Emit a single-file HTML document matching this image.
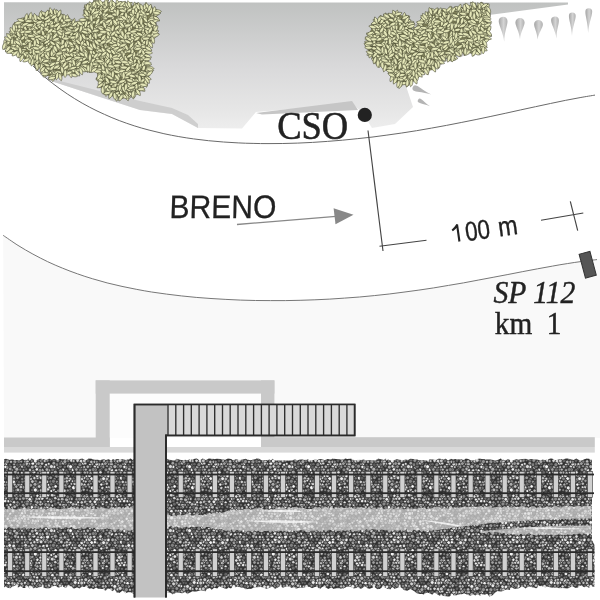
<!DOCTYPE html>
<html><head><meta charset="utf-8"><style>
html,body{margin:0;padding:0;background:#fff;overflow:hidden;width:600px;height:600px;}
svg{display:block;will-change:transform;}
</style></head><body>
<svg width="600" height="600" viewBox="0 0 600 600">
<defs>
<path id="lf" d="M-4,0C-2,-2.05 2,-2.05 4,0C2,2.05 -2,2.05 -4,0Z"/>
<linearGradient id="gtop" gradientUnits="userSpaceOnUse" x1="0" y1="3" x2="0" y2="145">
<stop offset="0" stop-color="#c0c2c1"/>
<stop offset="0.45" stop-color="#d9d9da"/>
<stop offset="0.75" stop-color="#e6e6e6"/>
<stop offset="1" stop-color="#f4f4f4"/>
</linearGradient>
<linearGradient id="gtear" x1="0" y1="0" x2="1" y2="0">
<stop offset="0" stop-color="#a4a4a4"/><stop offset="0.55" stop-color="#d4d4d4"/><stop offset="1" stop-color="#b0b0b0"/>
</linearGradient>
<pattern id="pebD" width="119" height="64" patternUnits="userSpaceOnUse">
<rect width="119" height="64" fill="#303030"/>
<g stroke="#262626" stroke-width="0.6">
<circle cx="93.1" cy="27.4" r="1.5" fill="#5b5b5b"/>
<circle cx="89.9" cy="-2.1" r="1.8" fill="#ebebeb"/>
<circle cx="89.9" cy="61.9" r="1.8" fill="#ebebeb"/>
<circle cx="33.4" cy="28.4" r="1.5" fill="#777777"/>
<circle cx="91.6" cy="30.7" r="1.9" fill="#f7f7f7"/>
<circle cx="88.1" cy="6.5" r="1.9" fill="#9f9f9f"/>
<circle cx="68.9" cy="15.7" r="1.5" fill="#6b6b6b"/>
<circle cx="44.6" cy="53.5" r="1.7" fill="#646464"/>
<circle cx="16" cy="38.6" r="2" fill="#adadad"/>
<circle cx="114.8" cy="12.9" r="1.4" fill="#c4c4c4"/>
<circle cx="102.6" cy="16.7" r="2" fill="#d5d5d5"/>
<circle cx="73.6" cy="30.5" r="1.6" fill="#727272"/>
<circle cx="95.5" cy="45.5" r="1.9" fill="#666666"/>
<circle cx="85" cy="50.6" r="1.4" fill="#c7c7c7"/>
<circle cx="1" cy="1.8" r="1.8" fill="#a6a6a6"/>
<circle cx="1" cy="65.8" r="1.8" fill="#a6a6a6"/>
<circle cx="120" cy="1.8" r="1.8" fill="#a6a6a6"/>
<circle cx="120" cy="65.8" r="1.8" fill="#a6a6a6"/>
<circle cx="102.3" cy="45.4" r="1.9" fill="#d3d3d3"/>
<circle cx="103.6" cy="35.7" r="1.9" fill="#878787"/>
<circle cx="65.9" cy="38.6" r="1.7" fill="#888888"/>
<circle cx="98.7" cy="-1.7" r="1.5" fill="#9c9c9c"/>
<circle cx="98.7" cy="62.3" r="1.5" fill="#9c9c9c"/>
<circle cx="97" cy="35.8" r="1.4" fill="#666666"/>
<circle cx="96.8" cy="8" r="1.6" fill="#9c9c9c"/>
<circle cx="20.6" cy="47.5" r="1.9" fill="#8f8f8f"/>
<circle cx="105.9" cy="32.9" r="1.7" fill="#aaaaaa"/>
<circle cx="98.7" cy="16.5" r="1.9" fill="#bfbfbf"/>
<circle cx="95.1" cy="27.6" r="1.7" fill="#f3f3f3"/>
<circle cx="109.8" cy="24.9" r="1.9" fill="#616161"/>
<circle cx="5.7" cy="6.7" r="1.4" fill="#dadada"/>
<circle cx="34.3" cy="0.8" r="1.6" fill="#c2c2c2"/>
<circle cx="34.3" cy="64.8" r="1.6" fill="#c2c2c2"/>
<circle cx="38.4" cy="12.4" r="1.8" fill="#757575"/>
<circle cx="92.2" cy="15.9" r="1.6" fill="#a9a9a9"/>
<circle cx="-1.2" cy="18.9" r="1.6" fill="#686868"/>
<circle cx="117.8" cy="18.9" r="1.6" fill="#686868"/>
<circle cx="66.8" cy="7.1" r="1.6" fill="#636363"/>
<circle cx="64.5" cy="6.7" r="1.5" fill="#676767"/>
<circle cx="0.4" cy="21.8" r="1.6" fill="#9a9a9a"/>
<circle cx="119.4" cy="21.8" r="1.6" fill="#9a9a9a"/>
<circle cx="105.5" cy="10.4" r="1.7" fill="#b8b8b8"/>
<circle cx="27.7" cy="1.1" r="1.7" fill="#e5e5e5"/>
<circle cx="27.7" cy="65.1" r="1.7" fill="#e5e5e5"/>
<circle cx="92.7" cy="44.3" r="1.8" fill="#636363"/>
<circle cx="103.1" cy="34.2" r="1.5" fill="#717171"/>
<circle cx="48.8" cy="8.1" r="1.9" fill="#8a8a8a"/>
<circle cx="37.5" cy="29.9" r="1.7" fill="#c1c1c1"/>
<circle cx="19.9" cy="-2.1" r="1.6" fill="#d3d3d3"/>
<circle cx="19.9" cy="61.9" r="1.6" fill="#d3d3d3"/>
<circle cx="60.4" cy="34.3" r="1.5" fill="#767676"/>
<circle cx="46.4" cy="44.5" r="2" fill="#939393"/>
<circle cx="39.9" cy="28.2" r="1.5" fill="#c4c4c4"/>
<circle cx="108.8" cy="-0.6" r="1.7" fill="#ececec"/>
<circle cx="108.8" cy="63.4" r="1.7" fill="#ececec"/>
<circle cx="31.1" cy="31.1" r="1.5" fill="#d5d5d5"/>
<circle cx="-0.8" cy="5" r="1.4" fill="#f2f2f2"/>
<circle cx="118.2" cy="5" r="1.4" fill="#f2f2f2"/>
<circle cx="38" cy="35.9" r="2" fill="#717171"/>
<circle cx="77.8" cy="54.2" r="1.8" fill="#ebebeb"/>
<circle cx="30.7" cy="3.6" r="2" fill="#ececec"/>
<circle cx="45.7" cy="-1.3" r="1.7" fill="#c2c2c2"/>
<circle cx="45.7" cy="62.7" r="1.7" fill="#c2c2c2"/>
<circle cx="32.9" cy="10.5" r="1.8" fill="#838383"/>
<circle cx="59.7" cy="39" r="1.9" fill="#727272"/>
<circle cx="24.3" cy="59.1" r="1.6" fill="#d8d8d8"/>
<circle cx="52.4" cy="57.5" r="1.4" fill="#dadada"/>
<circle cx="23.5" cy="50.4" r="1.8" fill="#a2a2a2"/>
<circle cx="23.3" cy="57.3" r="1.8" fill="#a6a6a6"/>
<circle cx="5.8" cy="15.7" r="1.9" fill="#f7f7f7"/>
<circle cx="32.5" cy="50.9" r="1.5" fill="#6c6c6c"/>
<circle cx="14" cy="54.4" r="1.8" fill="#dadada"/>
<circle cx="43.6" cy="28" r="1.7" fill="#bbbbbb"/>
<circle cx="99.2" cy="9.3" r="1.6" fill="#797979"/>
<circle cx="65.4" cy="37.2" r="1.6" fill="#a7a7a7"/>
<circle cx="13.8" cy="34.1" r="2" fill="#e7e7e7"/>
<circle cx="112.1" cy="9.4" r="1.5" fill="#dbdbdb"/>
<circle cx="94.9" cy="-1" r="1.8" fill="#969696"/>
<circle cx="94.9" cy="63" r="1.8" fill="#969696"/>
<circle cx="109.1" cy="39.3" r="1.7" fill="#d2d2d2"/>
<circle cx="71.6" cy="7.9" r="2" fill="#6b6b6b"/>
<circle cx="22.3" cy="18.2" r="2" fill="#d6d6d6"/>
<circle cx="95" cy="18.6" r="1.7" fill="#e0e0e0"/>
<circle cx="25.2" cy="30.4" r="1.6" fill="#cecece"/>
<circle cx="5.9" cy="50.4" r="1.6" fill="#cbcbcb"/>
<circle cx="94.5" cy="36.7" r="1.8" fill="#7d7d7d"/>
<circle cx="68.4" cy="54.2" r="1.9" fill="#aeaeae"/>
<circle cx="53.9" cy="47.2" r="1.6" fill="#efefef"/>
<circle cx="112.8" cy="32.9" r="1.5" fill="#6b6b6b"/>
<circle cx="67.3" cy="35.6" r="1.6" fill="#7b7b7b"/>
<circle cx="66.8" cy="27.6" r="1.8" fill="#757575"/>
<circle cx="37" cy="4.8" r="1.9" fill="#dadada"/>
<circle cx="100.9" cy="6.9" r="1.9" fill="#7c7c7c"/>
<circle cx="31.2" cy="24.4" r="1.7" fill="#636363"/>
<circle cx="7.2" cy="57.2" r="1.4" fill="#a4a4a4"/>
<circle cx="68.6" cy="1.5" r="1.6" fill="#aaaaaa"/>
<circle cx="68.6" cy="65.5" r="1.6" fill="#aaaaaa"/>
<circle cx="84.3" cy="29.8" r="1.8" fill="#d3d3d3"/>
<circle cx="10.6" cy="36.5" r="1.4" fill="#e9e9e9"/>
<circle cx="112.7" cy="27.9" r="1.9" fill="#b0b0b0"/>
<circle cx="-1.1" cy="7.8" r="1.9" fill="#c1c1c1"/>
<circle cx="117.9" cy="7.8" r="1.9" fill="#c1c1c1"/>
<circle cx="109.8" cy="4.1" r="1.9" fill="#989898"/>
<circle cx="22.6" cy="4.5" r="1.5" fill="#7a7a7a"/>
<circle cx="27.1" cy="-1" r="1.8" fill="#818181"/>
<circle cx="27.1" cy="63" r="1.8" fill="#818181"/>
<circle cx="14.6" cy="19.1" r="1.8" fill="#d2d2d2"/>
<circle cx="106.9" cy="30.9" r="2" fill="#afafaf"/>
<circle cx="37.2" cy="27.6" r="1.9" fill="#f5f5f5"/>
<circle cx="22.2" cy="9.8" r="1.6" fill="#ececec"/>
<circle cx="115.9" cy="28.1" r="1.9" fill="#a6a6a6"/>
<circle cx="65.9" cy="57.1" r="1.8" fill="#9b9b9b"/>
<circle cx="37.3" cy="47.7" r="1.7" fill="#f2f2f2"/>
<circle cx="25.6" cy="13.7" r="2" fill="#a9a9a9"/>
<circle cx="30" cy="27.5" r="1.7" fill="#d1d1d1"/>
<circle cx="56.4" cy="28.2" r="1.9" fill="#9c9c9c"/>
<circle cx="27.7" cy="35.9" r="1.6" fill="#afafaf"/>
<circle cx="50.4" cy="7.3" r="1.5" fill="#8d8d8d"/>
<circle cx="43.8" cy="25.4" r="1.6" fill="#a6a6a6"/>
<circle cx="23.6" cy="21.9" r="1.5" fill="#909090"/>
<circle cx="96.8" cy="16.2" r="1.8" fill="#dadada"/>
<circle cx="58.2" cy="19.7" r="1.8" fill="#9c9c9c"/>
<circle cx="41.2" cy="12.7" r="2" fill="#878787"/>
<circle cx="8.4" cy="53.1" r="1.6" fill="#f0f0f0"/>
<circle cx="82.8" cy="39.5" r="1.7" fill="#777777"/>
<circle cx="90.6" cy="59" r="1.6" fill="#aeaeae"/>
<circle cx="49" cy="22.3" r="1.8" fill="#a0a0a0"/>
<circle cx="26.8" cy="39.9" r="1.5" fill="#919191"/>
<circle cx="78.4" cy="57.2" r="1.4" fill="#8c8c8c"/>
<circle cx="29" cy="39.3" r="1.4" fill="#666666"/>
<circle cx="54.5" cy="60.2" r="1.5" fill="#989898"/>
<circle cx="36.8" cy="9.8" r="1.7" fill="#858585"/>
<circle cx="72.7" cy="45.6" r="1.6" fill="#dcdcdc"/>
<circle cx="18.4" cy="18.3" r="1.9" fill="#848484"/>
<circle cx="-0" cy="39.6" r="1.7" fill="#d3d3d3"/>
<circle cx="119" cy="39.6" r="1.7" fill="#d3d3d3"/>
<circle cx="52" cy="24.9" r="1.7" fill="#afafaf"/>
<circle cx="41.6" cy="6.7" r="1.9" fill="#acacac"/>
<circle cx="51.3" cy="43" r="1.5" fill="#f5f5f5"/>
<circle cx="108.3" cy="27.9" r="1.8" fill="#f8f8f8"/>
<circle cx="55.3" cy="50.3" r="1.8" fill="#d3d3d3"/>
<circle cx="33.9" cy="24.3" r="1.8" fill="#ebebeb"/>
<circle cx="80.9" cy="0.7" r="1.6" fill="#868686"/>
<circle cx="80.9" cy="64.7" r="1.6" fill="#868686"/>
<circle cx="59.3" cy="-0.9" r="1.6" fill="#f2f2f2"/>
<circle cx="59.3" cy="63.1" r="1.6" fill="#f2f2f2"/>
<circle cx="2.2" cy="30" r="2" fill="#e9e9e9"/>
<circle cx="121.2" cy="30" r="2" fill="#e9e9e9"/>
<circle cx="53.4" cy="5.1" r="1.8" fill="#a4a4a4"/>
<circle cx="45.6" cy="7.8" r="1.5" fill="#767676"/>
<circle cx="18.7" cy="13.6" r="2" fill="#797979"/>
<circle cx="11.1" cy="2.1" r="1.5" fill="#c6c6c6"/>
<circle cx="11.1" cy="66.1" r="1.5" fill="#c6c6c6"/>
<circle cx="-0.2" cy="10.1" r="1.6" fill="#acacac"/>
<circle cx="118.8" cy="10.1" r="1.6" fill="#acacac"/>
<circle cx="55.3" cy="56" r="2" fill="#6a6a6a"/>
<circle cx="15.7" cy="42.2" r="1.5" fill="#808080"/>
<circle cx="89.6" cy="4.9" r="2" fill="#f0f0f0"/>
<circle cx="77.6" cy="12.7" r="1.7" fill="#d9d9d9"/>
<circle cx="88.5" cy="36.7" r="1.7" fill="#b4b4b4"/>
<circle cx="103.3" cy="59.3" r="1.4" fill="#707070"/>
<circle cx="17.1" cy="28.1" r="1.9" fill="#939393"/>
<circle cx="56.9" cy="34.1" r="1.9" fill="#919191"/>
<circle cx="105.9" cy="4.9" r="1.5" fill="#939393"/>
<circle cx="58.3" cy="54.7" r="1.5" fill="#9c9c9c"/>
<circle cx="47" cy="33.8" r="1.8" fill="#dbdbdb"/>
<circle cx="13.7" cy="39.7" r="1.5" fill="#636363"/>
<circle cx="12.2" cy="21.9" r="1.5" fill="#8b8b8b"/>
<circle cx="15.6" cy="24.2" r="2" fill="#b2b2b2"/>
<circle cx="48.1" cy="53.6" r="1.4" fill="#e4e4e4"/>
<circle cx="69.2" cy="50.5" r="1.9" fill="#949494"/>
<circle cx="13.6" cy="57" r="1.5" fill="#6a6a6a"/>
<circle cx="109" cy="16.1" r="1.5" fill="#b0b0b0"/>
<circle cx="36.9" cy="15.8" r="1.6" fill="#f1f1f1"/>
<circle cx="111.6" cy="59.2" r="1.4" fill="#d5d5d5"/>
<circle cx="29" cy="24.6" r="1.7" fill="#949494"/>
<circle cx="114.9" cy="24" r="1.6" fill="#848484"/>
<circle cx="81.8" cy="30.9" r="1.9" fill="#ececec"/>
<circle cx="14.3" cy="0.7" r="1.6" fill="#afafaf"/>
<circle cx="14.3" cy="64.7" r="1.6" fill="#afafaf"/>
<circle cx="35.6" cy="33.5" r="2" fill="#7a7a7a"/>
<circle cx="72.3" cy="21.9" r="1.8" fill="#f5f5f5"/>
<circle cx="1.7" cy="6.8" r="1.4" fill="#959595"/>
<circle cx="120.7" cy="6.8" r="1.4" fill="#959595"/>
<circle cx="17.2" cy="33.2" r="1.5" fill="#5e5e5e"/>
<circle cx="70.9" cy="54.5" r="1.6" fill="#dfdfdf"/>
<circle cx="24.1" cy="47.7" r="1.5" fill="#5e5e5e"/>
<circle cx="35" cy="36.4" r="2" fill="#acacac"/>
<circle cx="70.2" cy="30.9" r="1.7" fill="#d2d2d2"/>
<circle cx="74.6" cy="42.8" r="1.5" fill="#616161"/>
<circle cx="106.7" cy="0.7" r="1.7" fill="#e5e5e5"/>
<circle cx="106.7" cy="64.7" r="1.7" fill="#e5e5e5"/>
<circle cx="22" cy="53.9" r="1.6" fill="#868686"/>
<circle cx="113.4" cy="60.4" r="1.5" fill="#d6d6d6"/>
<circle cx="96.5" cy="3.9" r="1.9" fill="#636363"/>
<circle cx="100.3" cy="58.8" r="1.5" fill="#9f9f9f"/>
<circle cx="54.7" cy="2.2" r="1.9" fill="#c4c4c4"/>
<circle cx="54.7" cy="66.2" r="1.9" fill="#c4c4c4"/>
<circle cx="55.2" cy="21.1" r="1.9" fill="#5d5d5d"/>
<circle cx="17.4" cy="16.8" r="1.9" fill="#5b5b5b"/>
<circle cx="50.4" cy="28.5" r="1.5" fill="#5e5e5e"/>
<circle cx="5.1" cy="53" r="1.8" fill="#e5e5e5"/>
<circle cx="-0.9" cy="42.7" r="1.7" fill="#c0c0c0"/>
<circle cx="118.1" cy="42.7" r="1.7" fill="#c0c0c0"/>
<circle cx="6.7" cy="22.2" r="1.4" fill="#7b7b7b"/>
<circle cx="10.4" cy="56.7" r="1.5" fill="#f2f2f2"/>
<circle cx="38.1" cy="19.4" r="2" fill="#838383"/>
<circle cx="42.1" cy="50.4" r="1.8" fill="#ededed"/>
<circle cx="61.9" cy="10.1" r="1.7" fill="#f8f8f8"/>
<circle cx="94.7" cy="1.4" r="1.6" fill="#c9c9c9"/>
<circle cx="94.7" cy="65.4" r="1.6" fill="#c9c9c9"/>
<circle cx="37.1" cy="1.5" r="1.5" fill="#f4f4f4"/>
<circle cx="37.1" cy="65.5" r="1.5" fill="#f4f4f4"/>
<circle cx="102.7" cy="4.8" r="1.7" fill="#676767"/>
<circle cx="12.4" cy="59.7" r="1.6" fill="#c8c8c8"/>
<circle cx="48.8" cy="9.7" r="1.8" fill="#cacaca"/>
<circle cx="39.8" cy="4.5" r="1.6" fill="#cacaca"/>
<circle cx="17" cy="57.1" r="2" fill="#969696"/>
<circle cx="110.9" cy="7.2" r="1.6" fill="#bebebe"/>
<circle cx="44.8" cy="42.1" r="1.5" fill="#a1a1a1"/>
<circle cx="102.2" cy="27.6" r="1.9" fill="#a1a1a1"/>
<circle cx="19.5" cy="27.9" r="1.6" fill="#787878"/>
<circle cx="97.8" cy="19.1" r="1.4" fill="#c4c4c4"/>
<circle cx="105" cy="2" r="1.9" fill="#a0a0a0"/>
<circle cx="105" cy="66" r="1.9" fill="#a0a0a0"/>
<circle cx="100.1" cy="27.2" r="1.5" fill="#c6c6c6"/>
<circle cx="71.4" cy="12.4" r="1.8" fill="#f4f4f4"/>
<circle cx="52.7" cy="21.7" r="2" fill="#737373"/>
<circle cx="89.9" cy="1.3" r="1.4" fill="#8c8c8c"/>
<circle cx="89.9" cy="65.3" r="1.4" fill="#8c8c8c"/>
<circle cx="48.6" cy="30.1" r="1.7" fill="#a4a4a4"/>
<circle cx="81.9" cy="9.7" r="1.9" fill="#707070"/>
<circle cx="89.5" cy="33.1" r="1.9" fill="#8a8a8a"/>
<circle cx="111" cy="0.6" r="1.6" fill="#8f8f8f"/>
<circle cx="111" cy="64.6" r="1.6" fill="#8f8f8f"/>
<circle cx="8.3" cy="24.5" r="1.6" fill="#7e7e7e"/>
<circle cx="73.6" cy="39.7" r="2" fill="#f8f8f8"/>
<circle cx="28.9" cy="34.2" r="1.5" fill="#9b9b9b"/>
<circle cx="3.7" cy="-1.1" r="1.9" fill="#f3f3f3"/>
<circle cx="3.7" cy="62.9" r="1.9" fill="#f3f3f3"/>
<circle cx="79.4" cy="33.7" r="1.8" fill="#cfcfcf"/>
<circle cx="21.1" cy="60.3" r="1.9" fill="#717171"/>
<circle cx="66.6" cy="51.7" r="2" fill="#aeaeae"/>
<circle cx="98.2" cy="42.4" r="1.5" fill="#d8d8d8"/>
<circle cx="65.5" cy="44.5" r="1.4" fill="#cacaca"/>
<circle cx="100" cy="12.7" r="1.8" fill="#606060"/>
<circle cx="69.1" cy="32.6" r="1.4" fill="#e8e8e8"/>
<circle cx="27.3" cy="13.5" r="1.7" fill="#ebebeb"/>
<circle cx="65.2" cy="15.4" r="1.6" fill="#8f8f8f"/>
<circle cx="35.9" cy="57.6" r="2" fill="#c8c8c8"/>
<circle cx="83.6" cy="33.1" r="1.4" fill="#d0d0d0"/>
<circle cx="115.9" cy="33.6" r="1.9" fill="#acacac"/>
<circle cx="50.7" cy="29.8" r="1.8" fill="#9d9d9d"/>
<circle cx="101.5" cy="18.6" r="1.6" fill="#838383"/>
<circle cx="24.7" cy="25.2" r="1.4" fill="#bfbfbf"/>
<circle cx="91.8" cy="4.3" r="1.5" fill="#cfcfcf"/>
<circle cx="63.1" cy="21.7" r="1.6" fill="#e6e6e6"/>
<circle cx="47.1" cy="12.2" r="2" fill="#909090"/>
<circle cx="87.6" cy="30.8" r="1.9" fill="#838383"/>
<circle cx="54.2" cy="35.7" r="1.9" fill="#616161"/>
<circle cx="21.2" cy="37" r="1.7" fill="#c8c8c8"/>
<circle cx="114.3" cy="2" r="1.6" fill="#7a7a7a"/>
<circle cx="114.3" cy="66" r="1.6" fill="#7a7a7a"/>
<circle cx="92.6" cy="50.6" r="1.9" fill="#8c8c8c"/>
<circle cx="81.3" cy="19.7" r="1.4" fill="#a4a4a4"/>
<circle cx="68.7" cy="18.2" r="2" fill="#c8c8c8"/>
<circle cx="30.6" cy="56" r="1.8" fill="#848484"/>
<circle cx="14.7" cy="58.8" r="1.8" fill="#b7b7b7"/>
<circle cx="41.3" cy="25.3" r="1.7" fill="#f6f6f6"/>
<circle cx="64.7" cy="18.9" r="1.6" fill="#747474"/>
<circle cx="-2.9" cy="22.3" r="1.5" fill="#e1e1e1"/>
<circle cx="116.1" cy="22.3" r="1.5" fill="#e1e1e1"/>
<circle cx="70.6" cy="48.6" r="1.4" fill="#6d6d6d"/>
<circle cx="58.3" cy="35.7" r="1.5" fill="#737373"/>
<circle cx="42.1" cy="55.9" r="1.4" fill="#e8e8e8"/>
<circle cx="108.1" cy="24.1" r="1.9" fill="#909090"/>
<circle cx="9.9" cy="4.4" r="2" fill="#696969"/>
<circle cx="78.6" cy="1.4" r="1.8" fill="#999999"/>
<circle cx="78.6" cy="65.4" r="1.8" fill="#999999"/>
<circle cx="49.4" cy="45.7" r="1.7" fill="#939393"/>
<circle cx="-0.4" cy="56.3" r="1.7" fill="#7e7e7e"/>
<circle cx="118.6" cy="56.3" r="1.7" fill="#7e7e7e"/>
<circle cx="12.2" cy="42.4" r="1.8" fill="#a5a5a5"/>
<circle cx="2.6" cy="22.4" r="1.5" fill="#eeeeee"/>
<circle cx="121.6" cy="22.4" r="1.5" fill="#eeeeee"/>
<circle cx="71.8" cy="51" r="1.4" fill="#c9c9c9"/>
<circle cx="115.8" cy="40.1" r="2" fill="#848484"/>
<circle cx="38" cy="25.2" r="1.6" fill="#a7a7a7"/>
<circle cx="87" cy="24.8" r="1.9" fill="#bfbfbf"/>
<circle cx="46" cy="10" r="1.8" fill="#838383"/>
<circle cx="107.2" cy="13.8" r="1.7" fill="#848484"/>
<circle cx="66.6" cy="22.7" r="1.8" fill="#707070"/>
<circle cx="40.4" cy="56.3" r="1.7" fill="#bfbfbf"/>
<circle cx="19.3" cy="55.9" r="1.5" fill="#727272"/>
<circle cx="2.4" cy="44.4" r="1.8" fill="#f8f8f8"/>
<circle cx="121.4" cy="44.4" r="1.8" fill="#f8f8f8"/>
<circle cx="25.7" cy="41.9" r="1.8" fill="#dcdcdc"/>
<circle cx="62.7" cy="39.4" r="1.8" fill="#bfbfbf"/>
<circle cx="5.6" cy="25.2" r="1.9" fill="#bababa"/>
<circle cx="62.2" cy="51.2" r="1.9" fill="#b6b6b6"/>
<circle cx="25.5" cy="54.4" r="1.8" fill="#757575"/>
<circle cx="33.2" cy="57.2" r="1.7" fill="#676767"/>
<circle cx="41.3" cy="37.2" r="1.4" fill="#969696"/>
<circle cx="48.7" cy="36.9" r="1.5" fill="#f4f4f4"/>
<circle cx="7.4" cy="36.3" r="1.7" fill="#cccccc"/>
<circle cx="51.3" cy="36.2" r="1.9" fill="#6e6e6e"/>
<circle cx="5.2" cy="37" r="1.8" fill="#838383"/>
<circle cx="111" cy="47.3" r="1.6" fill="#b0b0b0"/>
<circle cx="4.1" cy="60.1" r="1.5" fill="#cbcbcb"/>
<circle cx="36.6" cy="51.1" r="1.8" fill="#b4b4b4"/>
<circle cx="111.5" cy="37" r="1.7" fill="#cecece"/>
<circle cx="20.9" cy="1.8" r="1.7" fill="#676767"/>
<circle cx="20.9" cy="65.8" r="1.7" fill="#676767"/>
<circle cx="44.9" cy="18.8" r="1.4" fill="#c1c1c1"/>
<circle cx="81.5" cy="47.5" r="1.7" fill="#ababab"/>
<circle cx="93.6" cy="7.1" r="1.9" fill="#a7a7a7"/>
<circle cx="16.7" cy="-0.6" r="1.5" fill="#7e7e7e"/>
<circle cx="16.7" cy="63.4" r="1.5" fill="#7e7e7e"/>
<circle cx="7.4" cy="19.5" r="1.9" fill="#a1a1a1"/>
<circle cx="26" cy="45.6" r="1.4" fill="#909090"/>
<circle cx="36.1" cy="-1.7" r="1.7" fill="#c2c2c2"/>
<circle cx="36.1" cy="62.3" r="1.7" fill="#c2c2c2"/>
<circle cx="75.7" cy="56.2" r="1.8" fill="#f4f4f4"/>
<circle cx="0.9" cy="36.3" r="1.9" fill="#7a7a7a"/>
<circle cx="119.9" cy="36.3" r="1.9" fill="#7a7a7a"/>
<circle cx="76.7" cy="51.5" r="1.8" fill="#a0a0a0"/>
<circle cx="113.3" cy="50.8" r="1.9" fill="#dddddd"/>
<circle cx="66" cy="10.8" r="1.7" fill="#cacaca"/>
<circle cx="31.2" cy="48.8" r="1.6" fill="#c5c5c5"/>
<circle cx="27" cy="50.3" r="1.7" fill="#b2b2b2"/>
<circle cx="1.6" cy="48" r="1.7" fill="#d1d1d1"/>
<circle cx="120.6" cy="48" r="1.7" fill="#d1d1d1"/>
<circle cx="34.5" cy="7.5" r="1.4" fill="#d9d9d9"/>
<circle cx="24.7" cy="19.2" r="1.6" fill="#6e6e6e"/>
<circle cx="27.6" cy="54.1" r="2" fill="#aeaeae"/>
<circle cx="41.1" cy="42.5" r="1.9" fill="#bababa"/>
<circle cx="57.4" cy="7.4" r="1.9" fill="#9e9e9e"/>
<circle cx="17.2" cy="48.2" r="1.7" fill="#7d7d7d"/>
<circle cx="87.9" cy="12.7" r="2" fill="#646464"/>
<circle cx="58.6" cy="51.3" r="1.5" fill="#cccccc"/>
<circle cx="33.1" cy="4.7" r="1.7" fill="#b2b2b2"/>
<circle cx="39" cy="-2.3" r="1.8" fill="#b5b5b5"/>
<circle cx="39" cy="61.7" r="1.8" fill="#b5b5b5"/>
<circle cx="48.7" cy="15.9" r="1.5" fill="#dcdcdc"/>
<circle cx="48" cy="19.1" r="2" fill="#6d6d6d"/>
<circle cx="113.9" cy="42.3" r="1.6" fill="#656565"/>
<circle cx="79" cy="27.4" r="1.7" fill="#8b8b8b"/>
<circle cx="54.1" cy="18.8" r="1.8" fill="#eeeeee"/>
<circle cx="112" cy="38.6" r="1.8" fill="#858585"/>
<circle cx="63.6" cy="33.6" r="1.5" fill="#d9d9d9"/>
<circle cx="30.6" cy="37.2" r="1.9" fill="#a6a6a6"/>
<circle cx="22.5" cy="45.8" r="1.7" fill="#7a7a7a"/>
<circle cx="42.1" cy="10.1" r="2" fill="#f6f6f6"/>
<circle cx="31.1" cy="53.1" r="1.6" fill="#c2c2c2"/>
<circle cx="45.9" cy="56.6" r="1.9" fill="#9e9e9e"/>
<circle cx="67.7" cy="48.7" r="1.8" fill="#868686"/>
<circle cx="114.6" cy="54.4" r="1.9" fill="#a4a4a4"/>
<circle cx="73.3" cy="16.6" r="1.5" fill="#8f8f8f"/>
<circle cx="-0.9" cy="16.7" r="1.5" fill="#8b8b8b"/>
<circle cx="118.1" cy="16.7" r="1.5" fill="#8b8b8b"/>
<circle cx="90.2" cy="44.9" r="1.8" fill="#707070"/>
<circle cx="75.3" cy="9.5" r="1.7" fill="#5f5f5f"/>
<circle cx="42.3" cy="22.2" r="1.7" fill="#c9c9c9"/>
<circle cx="75.2" cy="53.9" r="1.7" fill="#5d5d5d"/>
<circle cx="94.7" cy="47.9" r="1.6" fill="#c0c0c0"/>
<circle cx="12.8" cy="9.6" r="1.6" fill="#858585"/>
<circle cx="105.4" cy="15.6" r="1.9" fill="#9c9c9c"/>
<circle cx="84.6" cy="36.9" r="1.7" fill="#ededed"/>
<circle cx="45.7" cy="39.7" r="1.5" fill="#ececec"/>
<circle cx="9.6" cy="16.9" r="1.5" fill="#666666"/>
<circle cx="53.8" cy="45" r="1.4" fill="#a9a9a9"/>
<circle cx="46.8" cy="28.3" r="1.9" fill="#949494"/>
<circle cx="9.4" cy="45.8" r="1.6" fill="#bcbcbc"/>
<circle cx="14.2" cy="7.9" r="1.9" fill="#ebebeb"/>
<circle cx="83.6" cy="21.5" r="1.6" fill="#898989"/>
<circle cx="1.6" cy="42" r="2" fill="#979797"/>
<circle cx="120.6" cy="42" r="2" fill="#979797"/>
<circle cx="34.4" cy="30.1" r="1.6" fill="#d7d7d7"/>
<circle cx="111.6" cy="22.1" r="1.8" fill="#f0f0f0"/>
<circle cx="79.4" cy="-1.2" r="1.4" fill="#959595"/>
<circle cx="79.4" cy="62.8" r="1.4" fill="#959595"/>
<circle cx="20" cy="51.1" r="1.5" fill="#a8a8a8"/>
<circle cx="4.5" cy="12.7" r="1.7" fill="#757575"/>
<circle cx="103.3" cy="50.8" r="2" fill="#c5c5c5"/>
<circle cx="36.3" cy="40" r="1.9" fill="#717171"/>
<circle cx="47.6" cy="24.9" r="2" fill="#f1f1f1"/>
<circle cx="78.6" cy="6.9" r="1.6" fill="#f9f9f9"/>
<circle cx="52.2" cy="47.1" r="1.9" fill="#d6d6d6"/>
<circle cx="32" cy="42.1" r="1.4" fill="#747474"/>
<circle cx="75.4" cy="16.3" r="1.8" fill="#666666"/>
<circle cx="106.1" cy="50.2" r="1.4" fill="#7b7b7b"/>
<circle cx="76.6" cy="-2.3" r="2" fill="#d2d2d2"/>
<circle cx="76.6" cy="61.7" r="2" fill="#d2d2d2"/>
<circle cx="27" cy="56" r="2" fill="#8b8b8b"/>
<circle cx="104" cy="12.9" r="1.5" fill="#c1c1c1"/>
<circle cx="101.4" cy="54" r="1.5" fill="#a7a7a7"/>
<circle cx="93.3" cy="59" r="1.9" fill="#c7c7c7"/>
<circle cx="26.7" cy="10.6" r="1.9" fill="#e5e5e5"/>
<circle cx="-1.7" cy="35.7" r="1.6" fill="#6e6e6e"/>
<circle cx="117.3" cy="35.7" r="1.6" fill="#6e6e6e"/>
<circle cx="99.6" cy="39" r="1.4" fill="#5e5e5e"/>
<circle cx="47.5" cy="59.3" r="1.7" fill="#f6f6f6"/>
<circle cx="10.9" cy="30.4" r="1.7" fill="#7e7e7e"/>
<circle cx="10.3" cy="-1.9" r="2" fill="#8d8d8d"/>
<circle cx="10.3" cy="62.1" r="2" fill="#8d8d8d"/>
<circle cx="95.6" cy="9.7" r="1.7" fill="#b3b3b3"/>
<circle cx="50.5" cy="33.4" r="1.5" fill="#7a7a7a"/>
<circle cx="61.9" cy="42.2" r="1.5" fill="#e3e3e3"/>
<circle cx="111.4" cy="16.2" r="1.9" fill="#bcbcbc"/>
<circle cx="-2.4" cy="2.3" r="1.9" fill="#bebebe"/>
<circle cx="-2.4" cy="66.3" r="1.9" fill="#bebebe"/>
<circle cx="116.6" cy="2.3" r="1.9" fill="#bebebe"/>
<circle cx="116.6" cy="66.3" r="1.9" fill="#bebebe"/>
<circle cx="29.8" cy="51.3" r="1.8" fill="#eeeeee"/>
<circle cx="97.9" cy="25.6" r="1.5" fill="#888888"/>
<circle cx="59.9" cy="44.4" r="2" fill="#a0a0a0"/>
<circle cx="50.7" cy="12.3" r="1.4" fill="#6e6e6e"/>
<circle cx="73.2" cy="56.5" r="1.9" fill="#b9b9b9"/>
<circle cx="97.9" cy="59.7" r="1.8" fill="#b2b2b2"/>
<circle cx="82.6" cy="28.4" r="1.6" fill="#818181"/>
<circle cx="111.1" cy="13.4" r="1.7" fill="#bcbcbc"/>
<circle cx="75.2" cy="1.6" r="1.5" fill="#b4b4b4"/>
<circle cx="75.2" cy="65.6" r="1.5" fill="#b4b4b4"/>
<circle cx="105.1" cy="27.7" r="1.9" fill="#a4a4a4"/>
<circle cx="89.4" cy="38.9" r="1.4" fill="#a2a2a2"/>
<circle cx="86.8" cy="48.3" r="1.7" fill="#dadada"/>
<circle cx="76.4" cy="44.6" r="1.5" fill="#a8a8a8"/>
<circle cx="6.1" cy="-1.1" r="1.6" fill="#606060"/>
<circle cx="6.1" cy="62.9" r="1.6" fill="#606060"/>
<circle cx="2.8" cy="51.1" r="1.7" fill="#bdbdbd"/>
<circle cx="121.8" cy="51.1" r="1.7" fill="#bdbdbd"/>
<circle cx="88" cy="53.3" r="1.5" fill="#727272"/>
<circle cx="49.3" cy="39.7" r="1.7" fill="#e3e3e3"/>
<circle cx="11.5" cy="25.4" r="1.6" fill="#6f6f6f"/>
<circle cx="106.6" cy="54.6" r="1.5" fill="#ebebeb"/>
<circle cx="33.8" cy="39.4" r="1.5" fill="#999999"/>
<circle cx="16.8" cy="3.8" r="1.8" fill="#a9a9a9"/>
<circle cx="114.2" cy="47.6" r="1.9" fill="#cecece"/>
<circle cx="55.6" cy="9.9" r="1.5" fill="#8f8f8f"/>
<circle cx="14.9" cy="13.8" r="2" fill="#989898"/>
<circle cx="79.5" cy="39.8" r="1.6" fill="#878787"/>
<circle cx="2.7" cy="4.9" r="1.9" fill="#ababab"/>
<circle cx="121.7" cy="4.9" r="1.9" fill="#ababab"/>
<circle cx="69.9" cy="21.1" r="1.8" fill="#7a7a7a"/>
<circle cx="72.7" cy="26.9" r="1.8" fill="#787878"/>
<circle cx="87.2" cy="59.3" r="1.5" fill="#e5e5e5"/>
<circle cx="97.8" cy="0.7" r="1.5" fill="#c7c7c7"/>
<circle cx="97.8" cy="64.7" r="1.5" fill="#c7c7c7"/>
<circle cx="39.2" cy="38.5" r="1.8" fill="#c3c3c3"/>
<circle cx="23.5" cy="-1" r="1.8" fill="#f4f4f4"/>
<circle cx="23.5" cy="63" r="1.8" fill="#f4f4f4"/>
<circle cx="36.9" cy="21.4" r="1.7" fill="#f3f3f3"/>
<circle cx="106.6" cy="44.5" r="1.8" fill="#d1d1d1"/>
<circle cx="106.8" cy="35.7" r="1.6" fill="#c0c0c0"/>
<circle cx="48.8" cy="57" r="2" fill="#888888"/>
<circle cx="8.9" cy="48.8" r="2" fill="#5b5b5b"/>
<circle cx="110.8" cy="19.2" r="1.9" fill="#9b9b9b"/>
<circle cx="18.2" cy="25.1" r="1.5" fill="#c7c7c7"/>
<circle cx="85.8" cy="38.4" r="1.5" fill="#8d8d8d"/>
<circle cx="73.3" cy="4.3" r="1.7" fill="#959595"/>
<circle cx="0.5" cy="34.1" r="1.8" fill="#838383"/>
<circle cx="119.5" cy="34.1" r="1.8" fill="#838383"/>
<circle cx="61.5" cy="13.8" r="1.5" fill="#a0a0a0"/>
<circle cx="52.1" cy="51.1" r="1.5" fill="#696969"/>
<circle cx="111.2" cy="53.4" r="1.5" fill="#d8d8d8"/>
<circle cx="10.7" cy="19.1" r="1.8" fill="#808080"/>
<circle cx="115" cy="30.8" r="1.8" fill="#a1a1a1"/>
<circle cx="90.9" cy="35.7" r="1.4" fill="#919191"/>
<circle cx="30.4" cy="45.4" r="1.7" fill="#d5d5d5"/>
<circle cx="75.2" cy="27.9" r="1.7" fill="#5f5f5f"/>
<circle cx="88.4" cy="56.6" r="1.9" fill="#757575"/>
<circle cx="99.3" cy="33.3" r="1.8" fill="#b2b2b2"/>
<circle cx="18" cy="7.5" r="1.8" fill="#c8c8c8"/>
<circle cx="25.7" cy="27.7" r="1.6" fill="#a1a1a1"/>
<circle cx="96" cy="56" r="1.6" fill="#c7c7c7"/>
<circle cx="18.4" cy="60.2" r="1.5" fill="#6b6b6b"/>
<circle cx="95.2" cy="21.7" r="2" fill="#999999"/>
<circle cx="103.3" cy="19.1" r="1.6" fill="#979797"/>
<circle cx="104.3" cy="48.7" r="1.5" fill="#f5f5f5"/>
<circle cx="45.6" cy="1.6" r="1.8" fill="#919191"/>
<circle cx="45.6" cy="65.6" r="1.8" fill="#919191"/>
<circle cx="79.8" cy="4.4" r="1.7" fill="#dadada"/>
<circle cx="107.9" cy="41.9" r="1.5" fill="#6f6f6f"/>
<circle cx="90" cy="16.8" r="1.5" fill="#dedede"/>
<circle cx="94.3" cy="42.8" r="1.9" fill="#d8d8d8"/>
<circle cx="42" cy="45.4" r="1.4" fill="#8a8a8a"/>
<circle cx="-1.7" cy="48.5" r="1.7" fill="#e1e1e1"/>
<circle cx="117.3" cy="48.5" r="1.7" fill="#e1e1e1"/>
<circle cx="61.3" cy="47.3" r="1.9" fill="#cecece"/>
<circle cx="88.3" cy="50.9" r="1.8" fill="#7d7d7d"/>
<circle cx="25.7" cy="35.9" r="1.8" fill="#8c8c8c"/>
<circle cx="15.2" cy="47.6" r="1.7" fill="#969696"/>
<circle cx="27.5" cy="41.7" r="1.6" fill="#888888"/>
<circle cx="92.3" cy="39.9" r="2" fill="#ededed"/>
<circle cx="61.9" cy="-0.7" r="1.9" fill="#ebebeb"/>
<circle cx="61.9" cy="63.3" r="1.9" fill="#ebebeb"/>
<circle cx="60.2" cy="18.4" r="1.9" fill="#737373"/>
<circle cx="94.4" cy="13.8" r="1.5" fill="#cccccc"/>
<circle cx="2.7" cy="26.8" r="1.9" fill="#7f7f7f"/>
<circle cx="121.7" cy="26.8" r="1.9" fill="#7f7f7f"/>
<circle cx="77.4" cy="24.1" r="1.8" fill="#a3a3a3"/>
<circle cx="103.4" cy="7.2" r="1.6" fill="#c5c5c5"/>
<circle cx="91.1" cy="48.4" r="1.4" fill="#c1c1c1"/>
<circle cx="10.2" cy="21" r="1.8" fill="#a0a0a0"/>
<circle cx="36.3" cy="44.9" r="1.5" fill="#868686"/>
<circle cx="35.6" cy="53.4" r="1.5" fill="#b7b7b7"/>
<circle cx="55.9" cy="4.5" r="1.6" fill="#dcdcdc"/>
<circle cx="23.4" cy="39.2" r="1.7" fill="#949494"/>
<circle cx="28.5" cy="47.7" r="1.8" fill="#d1d1d1"/>
<circle cx="5.4" cy="18.9" r="1.6" fill="#f3f3f3"/>
<circle cx="84.3" cy="48.2" r="1.8" fill="#9f9f9f"/>
<circle cx="17.5" cy="29.8" r="1.8" fill="#9c9c9c"/>
<circle cx="6.4" cy="40.1" r="1.9" fill="#6f6f6f"/>
<circle cx="60.1" cy="56.6" r="1.5" fill="#c5c5c5"/>
<circle cx="73.6" cy="13.1" r="1.5" fill="#bababa"/>
<circle cx="90.3" cy="53.7" r="1.6" fill="#dddddd"/>
<circle cx="98.9" cy="51.5" r="1.7" fill="#bfbfbf"/>
<circle cx="111.8" cy="-1.3" r="1.6" fill="#e4e4e4"/>
<circle cx="111.8" cy="62.7" r="1.6" fill="#e4e4e4"/>
<circle cx="6.5" cy="27.8" r="1.9" fill="#8b8b8b"/>
<circle cx="107" cy="18.2" r="1.5" fill="#909090"/>
<circle cx="20.8" cy="39.1" r="1.8" fill="#bfbfbf"/>
<circle cx="101.6" cy="48.5" r="1.6" fill="#757575"/>
<circle cx="94.9" cy="33.8" r="1.4" fill="#888888"/>
<circle cx="17.5" cy="54.3" r="1.6" fill="#8e8e8e"/>
<circle cx="52.3" cy="-0.8" r="1.9" fill="#f3f3f3"/>
<circle cx="52.3" cy="63.2" r="1.9" fill="#f3f3f3"/>
<circle cx="22.4" cy="33.7" r="1.7" fill="#7f7f7f"/>
<circle cx="44.5" cy="59.9" r="1.6" fill="#b2b2b2"/>
<circle cx="102.8" cy="56" r="1.6" fill="#d9d9d9"/>
<circle cx="54.6" cy="7.9" r="1.9" fill="#d2d2d2"/>
<circle cx="3" cy="56.9" r="1.6" fill="#6a6a6a"/>
<circle cx="47.7" cy="47.5" r="1.7" fill="#f3f3f3"/>
<circle cx="3.8" cy="33.9" r="1.7" fill="#cecece"/>
<circle cx="8.6" cy="42.8" r="1.8" fill="#c7c7c7"/>
<circle cx="32.4" cy="33.6" r="1.8" fill="#c5c5c5"/>
<circle cx="90.1" cy="22.3" r="1.7" fill="#a3a3a3"/>
<circle cx="62" cy="27.3" r="2" fill="#848484"/>
<circle cx="79" cy="10" r="1.7" fill="#888888"/>
<circle cx="79.6" cy="51.1" r="2" fill="#8a8a8a"/>
<circle cx="71.4" cy="35.9" r="1.4" fill="#bebebe"/>
<circle cx="66.2" cy="-1" r="1.7" fill="#e4e4e4"/>
<circle cx="66.2" cy="63" r="1.7" fill="#e4e4e4"/>
<circle cx="93.3" cy="33.6" r="1.5" fill="#b6b6b6"/>
<circle cx="102" cy="-1.4" r="1.6" fill="#9f9f9f"/>
<circle cx="102" cy="62.6" r="1.6" fill="#9f9f9f"/>
<circle cx="94.1" cy="24.6" r="1.7" fill="#d4d4d4"/>
<circle cx="71.3" cy="59.5" r="1.5" fill="#adadad"/>
<circle cx="12.6" cy="4.5" r="1.6" fill="#969696"/>
<circle cx="92" cy="56.5" r="1.9" fill="#a4a4a4"/>
<circle cx="101.3" cy="31.4" r="1.9" fill="#868686"/>
<circle cx="32.8" cy="15.5" r="1.8" fill="#f8f8f8"/>
<circle cx="74.7" cy="19.6" r="2" fill="#606060"/>
<circle cx="30" cy="22" r="1.4" fill="#f2f2f2"/>
<circle cx="85.2" cy="53.9" r="1.8" fill="#b5b5b5"/>
<circle cx="86.9" cy="56.1" r="1.7" fill="#8f8f8f"/>
<circle cx="84.1" cy="6.7" r="1.6" fill="#e5e5e5"/>
<circle cx="-1.3" cy="13.3" r="1.7" fill="#d3d3d3"/>
<circle cx="117.7" cy="13.3" r="1.7" fill="#d3d3d3"/>
<circle cx="44.7" cy="13" r="1.6" fill="#c0c0c0"/>
<circle cx="64" cy="47.5" r="1.8" fill="#f8f8f8"/>
<circle cx="90.5" cy="42.8" r="1.6" fill="#949494"/>
<circle cx="13.7" cy="-1.4" r="1.4" fill="#dedede"/>
<circle cx="13.7" cy="62.6" r="1.4" fill="#dedede"/>
<circle cx="39.3" cy="50.7" r="1.5" fill="#dddddd"/>
<circle cx="80.7" cy="24.6" r="1.7" fill="#838383"/>
<circle cx="37.5" cy="42.9" r="1.8" fill="#7a7a7a"/>
<circle cx="-0.7" cy="27.3" r="1.5" fill="#787878"/>
<circle cx="118.3" cy="27.3" r="1.5" fill="#787878"/>
<circle cx="80.2" cy="45.7" r="1.7" fill="#cacaca"/>
<circle cx="13.8" cy="28.2" r="1.7" fill="#616161"/>
<circle cx="115.7" cy="-2.2" r="1.9" fill="#b4b4b4"/>
<circle cx="115.7" cy="61.8" r="1.9" fill="#b4b4b4"/>
<circle cx="63.5" cy="57.5" r="1.9" fill="#f0f0f0"/>
<circle cx="96.5" cy="51.6" r="1.9" fill="#efefef"/>
<circle cx="114.7" cy="6.6" r="1.6" fill="#666666"/>
<circle cx="29.1" cy="16.1" r="1.5" fill="#dadada"/>
<circle cx="38.7" cy="15.6" r="1.9" fill="#989898"/>
<circle cx="38.2" cy="59.5" r="1.8" fill="#8c8c8c"/>
<circle cx="68.9" cy="3.8" r="1.8" fill="#a0a0a0"/>
<circle cx="1.6" cy="18.2" r="2" fill="#949494"/>
<circle cx="120.6" cy="18.2" r="2" fill="#949494"/>
<circle cx="20.9" cy="42.2" r="1.6" fill="#8e8e8e"/>
<circle cx="7" cy="34.2" r="1.4" fill="#b8b8b8"/>
<circle cx="-1.2" cy="30.3" r="1.6" fill="#747474"/>
<circle cx="117.8" cy="30.3" r="1.6" fill="#747474"/>
<circle cx="26.2" cy="5.2" r="1.5" fill="#999999"/>
<circle cx="87.2" cy="42.1" r="1.5" fill="#7b7b7b"/>
<circle cx="96.7" cy="13.8" r="1.5" fill="#898989"/>
<circle cx="93.3" cy="21.6" r="2" fill="#818181"/>
<circle cx="14.7" cy="36.5" r="1.4" fill="#c4c4c4"/>
<circle cx="61.3" cy="37.1" r="1.7" fill="#8d8d8d"/>
<circle cx="25.7" cy="33.2" r="1.8" fill="#dfdfdf"/>
<circle cx="90.7" cy="6.5" r="1.7" fill="#a3a3a3"/>
<circle cx="65.1" cy="30.7" r="1.5" fill="#bdbdbd"/>
<circle cx="58.4" cy="59.5" r="1.6" fill="#6f6f6f"/>
<circle cx="57" cy="16.7" r="1.9" fill="#808080"/>
<circle cx="60.9" cy="1.4" r="1.9" fill="#ebebeb"/>
<circle cx="60.9" cy="65.4" r="1.9" fill="#ebebeb"/>
<circle cx="115.8" cy="56.9" r="1.6" fill="#f2f2f2"/>
<circle cx="53.1" cy="26.9" r="1.5" fill="#929292"/>
<circle cx="83.3" cy="15.4" r="1.8" fill="#e9e9e9"/>
<circle cx="46.9" cy="21.6" r="1.8" fill="#afafaf"/>
<circle cx="11.1" cy="53" r="1.4" fill="#a9a9a9"/>
<circle cx="57" cy="24.9" r="1.5" fill="#636363"/>
<circle cx="8.9" cy="30.9" r="1.7" fill="#7f7f7f"/>
<circle cx="80.6" cy="42.6" r="1.7" fill="#adadad"/>
<circle cx="-3" cy="3.8" r="1.4" fill="#f8f8f8"/>
<circle cx="116" cy="3.8" r="1.4" fill="#f8f8f8"/>
<circle cx="89.4" cy="27.6" r="2" fill="#e2e2e2"/>
<circle cx="109.9" cy="56.6" r="1.5" fill="#888888"/>
<circle cx="99.9" cy="44.3" r="1.5" fill="#c6c6c6"/>
<circle cx="82.9" cy="-1" r="1.6" fill="#bfbfbf"/>
<circle cx="82.9" cy="63" r="1.6" fill="#bfbfbf"/>
<circle cx="43.8" cy="-2" r="1.9" fill="#e1e1e1"/>
<circle cx="43.8" cy="62" r="1.9" fill="#e1e1e1"/>
<circle cx="14" cy="30.4" r="1.5" fill="#b0b0b0"/>
<circle cx="18.6" cy="36.5" r="1.7" fill="#aaaaaa"/>
<circle cx="68.4" cy="27.8" r="1.7" fill="#c1c1c1"/>
<circle cx="109.5" cy="21" r="1.7" fill="#b6b6b6"/>
<circle cx="69" cy="57.1" r="1.7" fill="#626262"/>
<circle cx="35.3" cy="42" r="2" fill="#f4f4f4"/>
<circle cx="43" cy="4.9" r="1.7" fill="#9f9f9f"/>
<circle cx="-2.3" cy="59.7" r="1.8" fill="#909090"/>
<circle cx="116.7" cy="59.7" r="1.8" fill="#909090"/>
<circle cx="47.9" cy="41.4" r="1.7" fill="#e2e2e2"/>
<circle cx="114.9" cy="18.6" r="2" fill="#b5b5b5"/>
<circle cx="74.6" cy="59.3" r="1.9" fill="#666666"/>
<circle cx="9.5" cy="10.5" r="1.7" fill="#b3b3b3"/>
<circle cx="58.8" cy="2" r="2" fill="#5d5d5d"/>
<circle cx="58.8" cy="66" r="2" fill="#5d5d5d"/>
<circle cx="40.5" cy="54" r="1.6" fill="#bdbdbd"/>
<circle cx="65.4" cy="4.2" r="1.4" fill="#8d8d8d"/>
<circle cx="72.8" cy="-1.6" r="2" fill="#757575"/>
<circle cx="72.8" cy="62.4" r="2" fill="#757575"/>
<circle cx="104.7" cy="25.3" r="1.6" fill="#5c5c5c"/>
<circle cx="86.7" cy="45.8" r="1.6" fill="#a9a9a9"/>
<circle cx="108.8" cy="45" r="1.8" fill="#696969"/>
<circle cx="75.4" cy="4.4" r="1.7" fill="#d5d5d5"/>
<circle cx="103.4" cy="53.6" r="1.5" fill="#898989"/>
<circle cx="111.8" cy="3.9" r="1.5" fill="#e7e7e7"/>
<circle cx="100.1" cy="42.7" r="1.7" fill="#7d7d7d"/>
<circle cx="12.4" cy="7.2" r="1.7" fill="#bcbcbc"/>
<circle cx="101.6" cy="21.1" r="1.4" fill="#7c7c7c"/>
<circle cx="37.4" cy="54.4" r="1.6" fill="#b1b1b1"/>
<circle cx="107.5" cy="6.9" r="1.6" fill="#c0c0c0"/>
<circle cx="90.5" cy="18.6" r="1.4" fill="#676767"/>
<circle cx="40.5" cy="45.7" r="1.6" fill="#e4e4e4"/>
<circle cx="81.3" cy="36.2" r="1.9" fill="#dadada"/>
<circle cx="53.7" cy="41.7" r="1.6" fill="#cacaca"/>
<circle cx="99.5" cy="4.6" r="1.7" fill="#797979"/>
<circle cx="53" cy="39.2" r="1.8" fill="#7f7f7f"/>
<circle cx="83.8" cy="0.7" r="1.4" fill="#767676"/>
<circle cx="83.8" cy="64.7" r="1.4" fill="#767676"/>
<circle cx="8.5" cy="7.3" r="1.8" fill="#f4f4f4"/>
<circle cx="57.8" cy="12.5" r="1.9" fill="#939393"/>
<circle cx="57.9" cy="48.6" r="1.4" fill="#848484"/>
<circle cx="85.1" cy="15.2" r="1.7" fill="#d6d6d6"/>
<circle cx="85.5" cy="-0.8" r="1.4" fill="#777777"/>
<circle cx="85.5" cy="63.2" r="1.4" fill="#777777"/>
<circle cx="11" cy="13.9" r="1.4" fill="#dbdbdb"/>
<circle cx="51.3" cy="53.5" r="1.8" fill="#aeaeae"/>
<circle cx="13.8" cy="44.8" r="1.6" fill="#929292"/>
<circle cx="12.4" cy="50.9" r="1.8" fill="#787878"/>
<circle cx="115.1" cy="45.7" r="1.7" fill="#616161"/>
<circle cx="62" cy="53.9" r="1.4" fill="#c3c3c3"/>
<circle cx="43.1" cy="39.8" r="1.7" fill="#d8d8d8"/>
<circle cx="31.9" cy="59.5" r="1.9" fill="#f6f6f6"/>
<circle cx="40.1" cy="22.3" r="1.9" fill="#919191"/>
<circle cx="108.9" cy="9.7" r="1.6" fill="#606060"/>
<circle cx="3.5" cy="9.4" r="1.9" fill="#7f7f7f"/>
<circle cx="20.5" cy="16.7" r="1.4" fill="#8b8b8b"/>
<circle cx="5" cy="47.7" r="1.7" fill="#7d7d7d"/>
<circle cx="30.6" cy="1.1" r="2" fill="#7a7a7a"/>
<circle cx="30.6" cy="65.1" r="2" fill="#7a7a7a"/>
<circle cx="60.3" cy="15.7" r="1.9" fill="#6d6d6d"/>
<circle cx="70.3" cy="-1.2" r="1.7" fill="#b7b7b7"/>
<circle cx="70.3" cy="62.8" r="1.7" fill="#b7b7b7"/>
<circle cx="115.7" cy="15.3" r="1.5" fill="#747474"/>
<circle cx="61.2" cy="7.8" r="1.5" fill="#8c8c8c"/>
<circle cx="5.9" cy="45.7" r="1.8" fill="#6e6e6e"/>
<circle cx="55.6" cy="38.4" r="1.7" fill="#f9f9f9"/>
<circle cx="17.9" cy="41.9" r="1.9" fill="#bfbfbf"/>
<circle cx="9.7" cy="33.4" r="1.8" fill="#f4f4f4"/>
<circle cx="101.3" cy="36.6" r="1.5" fill="#f7f7f7"/>
<circle cx="33.1" cy="-1.9" r="1.6" fill="#a9a9a9"/>
<circle cx="33.1" cy="62.1" r="1.6" fill="#a9a9a9"/>
<circle cx="29.3" cy="-0.8" r="1.8" fill="#bebebe"/>
<circle cx="29.3" cy="63.2" r="1.8" fill="#bebebe"/>
<circle cx="9.5" cy="50.6" r="1.6" fill="#717171"/>
<circle cx="40.5" cy="18.6" r="1.8" fill="#919191"/>
<circle cx="55.9" cy="44.5" r="1.8" fill="#eaeaea"/>
<circle cx="5" cy="30.2" r="1.9" fill="#5b5b5b"/>
<circle cx="1" cy="53.2" r="1.6" fill="#eeeeee"/>
<circle cx="120" cy="53.2" r="1.6" fill="#eeeeee"/>
<circle cx="33.2" cy="22.5" r="1.4" fill="#939393"/>
<circle cx="77.5" cy="37.1" r="1.9" fill="#aaaaaa"/>
<circle cx="19.1" cy="34.1" r="1.8" fill="#5d5d5d"/>
<circle cx="22.3" cy="27.3" r="1.5" fill="#8d8d8d"/>
<circle cx="69.9" cy="44.7" r="1.9" fill="#787878"/>
<circle cx="32.3" cy="7.8" r="1.5" fill="#9e9e9e"/>
<circle cx="9" cy="27.5" r="1.5" fill="#cacaca"/>
<circle cx="45.3" cy="29.9" r="1.7" fill="#9f9f9f"/>
<circle cx="32.4" cy="45.2" r="1.8" fill="#a1a1a1"/>
<circle cx="41.3" cy="59.8" r="1.5" fill="#c7c7c7"/>
<circle cx="97.2" cy="30.8" r="1.6" fill="#7e7e7e"/>
<circle cx="84.9" cy="24.8" r="1.8" fill="#b3b3b3"/>
<circle cx="106" cy="21.8" r="1.9" fill="#898989"/>
<circle cx="58.6" cy="4.4" r="1.4" fill="#f3f3f3"/>
<circle cx="35.5" cy="18.4" r="1.6" fill="#d8d8d8"/>
<circle cx="73.5" cy="25" r="1.5" fill="#e2e2e2"/>
<circle cx="68" cy="12.6" r="1.8" fill="#858585"/>
<circle cx="77.4" cy="60.2" r="1.9" fill="#b2b2b2"/>
<circle cx="47" cy="50.2" r="1.6" fill="#b9b9b9"/>
<circle cx="77.7" cy="42.2" r="1.4" fill="#aaaaaa"/>
<circle cx="10.7" cy="39.8" r="1.8" fill="#d3d3d3"/>
<circle cx="84.2" cy="59.1" r="1.9" fill="#8f8f8f"/>
<circle cx="56.8" cy="-1.3" r="1.5" fill="#afafaf"/>
<circle cx="56.8" cy="62.7" r="1.5" fill="#afafaf"/>
<circle cx="111.8" cy="44.7" r="1.6" fill="#d0d0d0"/>
<circle cx="111.8" cy="56.7" r="1.7" fill="#bbbbbb"/>
<circle cx="19.7" cy="45.1" r="1.5" fill="#d8d8d8"/>
<circle cx="68.5" cy="10.4" r="1.9" fill="#e0e0e0"/>
<circle cx="106.9" cy="48.4" r="1.9" fill="#848484"/>
<circle cx="75.2" cy="6.5" r="1.9" fill="#efefef"/>
<circle cx="93.1" cy="-0.6" r="1.7" fill="#a9a9a9"/>
<circle cx="93.1" cy="63.4" r="1.7" fill="#a9a9a9"/>
<circle cx="70.8" cy="1.6" r="1.6" fill="#e2e2e2"/>
<circle cx="70.8" cy="65.6" r="1.6" fill="#e2e2e2"/>
<circle cx="8" cy="1.1" r="1.9" fill="#898989"/>
<circle cx="8" cy="65.1" r="1.9" fill="#898989"/>
<circle cx="19.6" cy="4.9" r="1.7" fill="#a3a3a3"/>
<circle cx="48.9" cy="-1.9" r="1.9" fill="#868686"/>
<circle cx="48.9" cy="62.1" r="1.9" fill="#868686"/>
<circle cx="98.3" cy="54.5" r="1.8" fill="#5f5f5f"/>
<circle cx="82.2" cy="57.5" r="1.4" fill="#b4b4b4"/>
<circle cx="11.2" cy="48.2" r="1.9" fill="#656565"/>
<circle cx="100.1" cy="22.5" r="1.9" fill="#6e6e6e"/>
<circle cx="51.4" cy="18.6" r="2" fill="#dbdbdb"/>
<circle cx="-0.9" cy="-2.2" r="1.4" fill="#f6f6f6"/>
<circle cx="-0.9" cy="61.8" r="1.4" fill="#f6f6f6"/>
<circle cx="118.1" cy="-2.2" r="1.4" fill="#f6f6f6"/>
<circle cx="118.1" cy="61.8" r="1.4" fill="#f6f6f6"/>
<circle cx="4" cy="16.2" r="1.4" fill="#8e8e8e"/>
<circle cx="-0.1" cy="51.5" r="1.5" fill="#f1f1f1"/>
<circle cx="118.9" cy="51.5" r="1.5" fill="#f1f1f1"/>
<circle cx="114.8" cy="10.4" r="1.9" fill="#f3f3f3"/>
<circle cx="38.4" cy="8" r="1.7" fill="#858585"/>
<circle cx="34.1" cy="47.4" r="1.8" fill="#626262"/>
<circle cx="51.6" cy="1.8" r="1.4" fill="#5e5e5e"/>
<circle cx="51.6" cy="65.8" r="1.4" fill="#5e5e5e"/>
<circle cx="106.5" cy="39.4" r="1.4" fill="#eaeaea"/>
<circle cx="109.2" cy="51" r="1.6" fill="#a9a9a9"/>
<circle cx="46.8" cy="4" r="1.8" fill="#bebebe"/>
<circle cx="81.9" cy="3.8" r="1.6" fill="#c3c3c3"/>
<circle cx="88.4" cy="1.7" r="1.5" fill="#6f6f6f"/>
<circle cx="88.4" cy="65.7" r="1.5" fill="#6f6f6f"/>
<circle cx="-2.5" cy="54.7" r="1.8" fill="#696969"/>
<circle cx="116.5" cy="54.7" r="1.8" fill="#696969"/>
<circle cx="28.6" cy="59.5" r="1.7" fill="#818181"/>
<circle cx="1.1" cy="12.3" r="2" fill="#d0d0d0"/>
<circle cx="120.1" cy="12.3" r="2" fill="#d0d0d0"/>
<circle cx="98.9" cy="57.5" r="1.7" fill="#5e5e5e"/>
<circle cx="86.4" cy="28" r="1.4" fill="#f4f4f4"/>
<circle cx="50.5" cy="4.3" r="1.6" fill="#a2a2a2"/>
<circle cx="42" cy="15.6" r="1.7" fill="#c5c5c5"/>
<circle cx="48.7" cy="2" r="2" fill="#7f7f7f"/>
<circle cx="48.7" cy="66" r="2" fill="#7f7f7f"/>
<circle cx="69.5" cy="38.5" r="1.7" fill="#c1c1c1"/>
<circle cx="106.5" cy="57.1" r="1.6" fill="#6d6d6d"/>
<circle cx="66.9" cy="30.3" r="1.8" fill="#b8b8b8"/>
<circle cx="103.6" cy="30.7" r="1.9" fill="#eeeeee"/>
<circle cx="81.2" cy="13.2" r="1.9" fill="#d6d6d6"/>
<circle cx="83" cy="51.2" r="1.6" fill="#bababa"/>
<circle cx="67.8" cy="24.6" r="1.9" fill="#6a6a6a"/>
<circle cx="40.6" cy="48.5" r="1.5" fill="#cdcdcd"/>
<circle cx="81.8" cy="54.4" r="1.7" fill="#cecece"/>
<circle cx="55.3" cy="24.2" r="2" fill="#a5a5a5"/>
<circle cx="94.9" cy="30.2" r="1.6" fill="#f8f8f8"/>
<circle cx="77.7" cy="30.8" r="1.4" fill="#7d7d7d"/>
<circle cx="25" cy="6.9" r="1.6" fill="#d9d9d9"/>
<circle cx="54.4" cy="53" r="1.7" fill="#696969"/>
<circle cx="81.5" cy="60.4" r="1.7" fill="#ababab"/>
<circle cx="95.7" cy="39.9" r="1.6" fill="#afafaf"/>
<circle cx="7.4" cy="4.3" r="1.6" fill="#818181"/>
<circle cx="89.3" cy="9.4" r="1.4" fill="#acacac"/>
<circle cx="50.8" cy="60.3" r="1.8" fill="#a3a3a3"/>
<circle cx="109.8" cy="42.6" r="1.4" fill="#c3c3c3"/>
<circle cx="60.9" cy="25.4" r="1.9" fill="#b2b2b2"/>
<circle cx="63.2" cy="44.5" r="1.7" fill="#e2e2e2"/>
<circle cx="67.7" cy="59.1" r="1.4" fill="#848484"/>
<circle cx="63.7" cy="59.1" r="1.8" fill="#a9a9a9"/>
<circle cx="63.2" cy="15.3" r="1.7" fill="#bebebe"/>
<circle cx="82.9" cy="45.9" r="1.5" fill="#686868"/>
<circle cx="93" cy="10.6" r="1.5" fill="#979797"/>
<circle cx="81.7" cy="7" r="1.9" fill="#cccccc"/>
<circle cx="103.1" cy="10.4" r="1.6" fill="#b9b9b9"/>
<circle cx="18.6" cy="2" r="1.7" fill="#626262"/>
<circle cx="18.6" cy="66" r="1.7" fill="#626262"/>
<circle cx="71" cy="24.1" r="1.5" fill="#717171"/>
<circle cx="70.3" cy="41.6" r="1.7" fill="#6b6b6b"/>
<circle cx="44.5" cy="47.6" r="1.6" fill="#868686"/>
<circle cx="54.5" cy="31" r="1.6" fill="#8a8a8a"/>
<circle cx="49.8" cy="51.4" r="1.5" fill="#959595"/>
<circle cx="61.8" cy="59.6" r="1.4" fill="#747474"/>
<circle cx="46.1" cy="16.8" r="1.5" fill="#e9e9e9"/>
<circle cx="16.4" cy="45.3" r="1.9" fill="#d2d2d2"/>
<circle cx="30" cy="11" r="1.9" fill="#ebebeb"/>
<circle cx="58.6" cy="42.7" r="1.6" fill="#bababa"/>
<circle cx="64.9" cy="13.6" r="1.9" fill="#aaaaaa"/>
<circle cx="74.9" cy="35.7" r="1.9" fill="#d5d5d5"/>
<circle cx="0.8" cy="60.2" r="1.9" fill="#959595"/>
<circle cx="119.8" cy="60.2" r="1.9" fill="#959595"/>
<circle cx="72.9" cy="33.2" r="1.4" fill="#e2e2e2"/>
<circle cx="102.4" cy="40.1" r="1.7" fill="#cdcdcd"/>
<circle cx="111.1" cy="31" r="1.5" fill="#5b5b5b"/>
<circle cx="16.9" cy="9.7" r="1.9" fill="#eaeaea"/>
<circle cx="77.4" cy="47.3" r="1.9" fill="#b0b0b0"/>
<circle cx="32.3" cy="19.1" r="1.9" fill="#a8a8a8"/>
<circle cx="41.1" cy="29.8" r="1.9" fill="#dbdbdb"/>
<circle cx="85.8" cy="21.6" r="1.5" fill="#b8b8b8"/>
<circle cx="4.2" cy="41.5" r="1.4" fill="#a1a1a1"/>
<circle cx="87.8" cy="18.8" r="1.7" fill="#b1b1b1"/>
<circle cx="113.7" cy="36" r="1.6" fill="#858585"/>
<circle cx="73.5" cy="9.7" r="1.5" fill="#9c9c9c"/>
<circle cx="27.5" cy="30.2" r="1.9" fill="#7d7d7d"/>
<circle cx="78.2" cy="19.2" r="1.8" fill="#a8a8a8"/>
<circle cx="85.7" cy="33.6" r="1.4" fill="#d0d0d0"/>
<circle cx="85.8" cy="3.7" r="1.9" fill="#c7c7c7"/>
<circle cx="76.4" cy="21.5" r="1.7" fill="#a3a3a3"/>
<circle cx="73.7" cy="47.6" r="1.5" fill="#686868"/>
<circle cx="100.5" cy="24.5" r="1.7" fill="#dfdfdf"/>
<circle cx="43.5" cy="34.1" r="1.7" fill="#f9f9f9"/>
<circle cx="53.9" cy="12.7" r="1.9" fill="#6d6d6d"/>
<circle cx="98.1" cy="47.6" r="1.7" fill="#8f8f8f"/>
<circle cx="76.8" cy="39.1" r="2" fill="#9c9c9c"/>
<circle cx="60.5" cy="22.6" r="1.9" fill="#7d7d7d"/>
<circle cx="21.8" cy="25" r="1.6" fill="#dadada"/>
<circle cx="84.2" cy="19" r="1.5" fill="#bababa"/>
<circle cx="63.9" cy="54.3" r="1.5" fill="#656565"/>
<circle cx="70.6" cy="18.7" r="1.9" fill="#f9f9f9"/>
<circle cx="1.6" cy="24.8" r="1.6" fill="#a7a7a7"/>
<circle cx="120.6" cy="24.8" r="1.6" fill="#a7a7a7"/>
<circle cx="4.8" cy="2.3" r="2" fill="#b8b8b8"/>
<circle cx="4.8" cy="66.3" r="2" fill="#b8b8b8"/>
<circle cx="26.2" cy="21.2" r="1.4" fill="#686868"/>
<circle cx="80.2" cy="21.9" r="2" fill="#6a6a6a"/>
<circle cx="64.8" cy="25.3" r="1.7" fill="#bfbfbf"/>
<circle cx="65" cy="1.4" r="1.7" fill="#5e5e5e"/>
<circle cx="65" cy="65.4" r="1.7" fill="#5e5e5e"/>
<circle cx="39.9" cy="9.4" r="1.8" fill="#8b8b8b"/>
<circle cx="86.6" cy="10.5" r="1.6" fill="#dfdfdf"/>
<circle cx="16.5" cy="50.5" r="1.7" fill="#a3a3a3"/>
<circle cx="100.8" cy="0.8" r="1.4" fill="#bfbfbf"/>
<circle cx="100.8" cy="64.8" r="1.4" fill="#bfbfbf"/>
<circle cx="59.6" cy="28.4" r="1.6" fill="#dddddd"/>
<circle cx="83.7" cy="41.7" r="1.5" fill="#c1c1c1"/>
<circle cx="114.8" cy="50.6" r="1.5" fill="#898989"/>
<circle cx="28" cy="7.6" r="1.9" fill="#777777"/>
<circle cx="44.3" cy="36.3" r="1.5" fill="#929292"/>
<circle cx="108.3" cy="58.9" r="1.6" fill="#848484"/>
<circle cx="41.9" cy="0.9" r="1.8" fill="#a2a2a2"/>
<circle cx="41.9" cy="64.9" r="1.8" fill="#a2a2a2"/>
<circle cx="52" cy="10.2" r="1.7" fill="#878787"/>
<circle cx="26.8" cy="16" r="2" fill="#c2c2c2"/>
<circle cx="0.2" cy="45.4" r="1.9" fill="#dfdfdf"/>
<circle cx="119.2" cy="45.4" r="1.9" fill="#dfdfdf"/>
<circle cx="66.8" cy="33.4" r="1.6" fill="#cbcbcb"/>
<circle cx="64.4" cy="42.8" r="1.7" fill="#f8f8f8"/>
<circle cx="106.8" cy="-1.8" r="1.9" fill="#626262"/>
<circle cx="106.8" cy="62.2" r="1.9" fill="#626262"/>
<circle cx="53.4" cy="33.3" r="2" fill="#818181"/>
<circle cx="25.5" cy="1" r="2" fill="#8e8e8e"/>
<circle cx="25.5" cy="65" r="2" fill="#8e8e8e"/>
<circle cx="39.9" cy="34.2" r="1.5" fill="#aeaeae"/>
<circle cx="28.5" cy="18.1" r="1.6" fill="#707070"/>
<circle cx="20.2" cy="21.5" r="1.5" fill="#7b7b7b"/>
<circle cx="-1.5" cy="25.5" r="1.8" fill="#8d8d8d"/>
<circle cx="117.5" cy="25.5" r="1.8" fill="#8d8d8d"/>
<circle cx="67.8" cy="42.4" r="1.5" fill="#989898"/>
<circle cx="21.6" cy="7.8" r="1.7" fill="#c4c4c4"/>
<circle cx="105.1" cy="41.6" r="1.8" fill="#606060"/>
<circle cx="63.5" cy="4.2" r="1.7" fill="#6e6e6e"/>
<circle cx="8.7" cy="59.1" r="1.6" fill="#c0c0c0"/>
<circle cx="94.9" cy="53.8" r="1.8" fill="#ececec"/>
<circle cx="21.2" cy="13.6" r="1.4" fill="#a9a9a9"/>
<circle cx="84.3" cy="12.8" r="1.9" fill="#c5c5c5"/>
<circle cx="90.6" cy="25.4" r="1.7" fill="#c6c6c6"/>
<circle cx="75.2" cy="33" r="1.9" fill="#6f6f6f"/>
<circle cx="91.3" cy="13.9" r="1.7" fill="#bbbbbb"/>
<circle cx="58.8" cy="31.3" r="1.4" fill="#6f6f6f"/>
<circle cx="20.6" cy="10.6" r="1.6" fill="#828282"/>
<circle cx="61.3" cy="30" r="1.8" fill="#c8c8c8"/>
<circle cx="79.9" cy="16.7" r="2" fill="#848484"/>
<circle cx="35.3" cy="13" r="1.9" fill="#ededed"/>
<circle cx="23.9" cy="16.5" r="1.7" fill="#777777"/>
<circle cx="14.1" cy="16.4" r="1.4" fill="#aaaaaa"/>
<circle cx="31.8" cy="13" r="1.4" fill="#888888"/>
<circle cx="60" cy="9.6" r="1.7" fill="#cecece"/>
<circle cx="7.2" cy="10.2" r="1.9" fill="#626262"/>
<circle cx="53.8" cy="15.2" r="1.8" fill="#a2a2a2"/>
<circle cx="7.4" cy="13.6" r="2" fill="#929292"/>
<circle cx="4.1" cy="39.9" r="1.6" fill="#949494"/>
<circle cx="22.1" cy="31" r="1.5" fill="#8b8b8b"/>
<circle cx="35.4" cy="59.2" r="1.7" fill="#979797"/>
<circle cx="16.8" cy="21.2" r="2" fill="#afafaf"/>
<circle cx="109.5" cy="32.8" r="1.6" fill="#999999"/>
</g></pattern>
<pattern id="pebL" width="119" height="64" patternUnits="userSpaceOnUse">
<rect width="119" height="64" fill="#acacac"/>
<g stroke="#a2a2a2" stroke-width="0.4">
<circle cx="114.1" cy="22" r="1.9" fill="#eaeaea"/>
<circle cx="43.1" cy="46.7" r="1.9" fill="#cecece"/>
<circle cx="9" cy="54.5" r="1.5" fill="#e5e5e5"/>
<circle cx="77.4" cy="49.8" r="1.5" fill="#e3e3e3"/>
<circle cx="5.3" cy="54.3" r="1.5" fill="#b9b9b9"/>
<circle cx="14.9" cy="39.6" r="1.6" fill="#b2b2b2"/>
<circle cx="56.3" cy="55" r="1.7" fill="#c9c9c9"/>
<circle cx="37.1" cy="37.2" r="1.7" fill="#bebebe"/>
<circle cx="95.9" cy="52.1" r="1.4" fill="#aaaaaa"/>
<circle cx="111.5" cy="11.9" r="1.6" fill="#dadada"/>
<circle cx="30.6" cy="6.1" r="1.5" fill="#bcbcbc"/>
<circle cx="95.9" cy="1.5" r="1.9" fill="#b9b9b9"/>
<circle cx="95.9" cy="65.5" r="1.9" fill="#b9b9b9"/>
<circle cx="25.8" cy="26.3" r="1.4" fill="#c3c3c3"/>
<circle cx="86.7" cy="45.4" r="1.8" fill="#c7c7c7"/>
<circle cx="77.8" cy="8.4" r="1.8" fill="#bcbcbc"/>
<circle cx="113.1" cy="49.7" r="1.4" fill="#e4e4e4"/>
<circle cx="64.7" cy="1.1" r="1.4" fill="#d8d8d8"/>
<circle cx="64.7" cy="65.1" r="1.4" fill="#d8d8d8"/>
<circle cx="101.7" cy="25" r="1.6" fill="#d8d8d8"/>
<circle cx="19.4" cy="27.4" r="1.5" fill="#b4b4b4"/>
<circle cx="51.4" cy="25" r="1.6" fill="#e1e1e1"/>
<circle cx="93.7" cy="10.8" r="1.8" fill="#b8b8b8"/>
<circle cx="44.9" cy="34.2" r="1.7" fill="#d9d9d9"/>
<circle cx="103.5" cy="45.1" r="1.6" fill="#cacaca"/>
<circle cx="7.1" cy="16" r="1.6" fill="#bfbfbf"/>
<circle cx="73.4" cy="52.4" r="1.8" fill="#c6c6c6"/>
<circle cx="108.6" cy="42.5" r="1.6" fill="#b8b8b8"/>
<circle cx="114.1" cy="32.7" r="1.6" fill="#aaaaaa"/>
<circle cx="23.8" cy="24.7" r="1.8" fill="#cccccc"/>
<circle cx="83.3" cy="3.9" r="1.6" fill="#e1e1e1"/>
<circle cx="32.6" cy="60.7" r="1.6" fill="#e2e2e2"/>
<circle cx="42.6" cy="22.1" r="1.7" fill="#d1d1d1"/>
<circle cx="55.4" cy="6.3" r="1.6" fill="#d7d7d7"/>
<circle cx="77.3" cy="39.4" r="1.3" fill="#d8d8d8"/>
<circle cx="17.7" cy="39.6" r="1.3" fill="#b5b5b5"/>
<circle cx="24.5" cy="52.6" r="1.4" fill="#cccccc"/>
<circle cx="50.8" cy="18.7" r="1.5" fill="#e0e0e0"/>
<circle cx="72.1" cy="25" r="1.6" fill="#e2e2e2"/>
<circle cx="49.6" cy="52.2" r="1.8" fill="#e4e4e4"/>
<circle cx="66.1" cy="9.3" r="1.7" fill="#cfcfcf"/>
<circle cx="73.3" cy="57.1" r="1.8" fill="#e7e7e7"/>
<circle cx="68.1" cy="55.3" r="1.6" fill="#afafaf"/>
<circle cx="104.7" cy="34" r="1.8" fill="#eaeaea"/>
<circle cx="94.9" cy="9.3" r="1.8" fill="#dfdfdf"/>
<circle cx="55.3" cy="1.3" r="1.6" fill="#e8e8e8"/>
<circle cx="55.3" cy="65.3" r="1.6" fill="#e8e8e8"/>
<circle cx="93.2" cy="57.2" r="1.5" fill="#aeaeae"/>
<circle cx="37.2" cy="16.5" r="1.7" fill="#bababa"/>
<circle cx="71.3" cy="18.9" r="1.6" fill="#afafaf"/>
<circle cx="66.8" cy="6.2" r="1.5" fill="#e5e5e5"/>
<circle cx="94.3" cy="52.1" r="1.7" fill="#c4c4c4"/>
<circle cx="57.7" cy="52.3" r="1.9" fill="#bfbfbf"/>
<circle cx="14.4" cy="13.9" r="1.5" fill="#b3b3b3"/>
<circle cx="58.4" cy="11.5" r="1.5" fill="#e9e9e9"/>
<circle cx="112.7" cy="54.8" r="1.7" fill="#e7e7e7"/>
<circle cx="91.3" cy="26.4" r="1.9" fill="#d6d6d6"/>
<circle cx="64.1" cy="47.7" r="1.8" fill="#e4e4e4"/>
<circle cx="73.6" cy="45.4" r="1.4" fill="#d6d6d6"/>
<circle cx="64" cy="21" r="1.6" fill="#d4d4d4"/>
<circle cx="71.2" cy="39.1" r="1.9" fill="#e3e3e3"/>
<circle cx="37.5" cy="26.1" r="1.8" fill="#c4c4c4"/>
<circle cx="94.6" cy="28.7" r="1.5" fill="#dcdcdc"/>
<circle cx="70.5" cy="37.1" r="1.7" fill="#cdcdcd"/>
<circle cx="35" cy="45.2" r="1.3" fill="#adadad"/>
<circle cx="89.2" cy="3.9" r="1.8" fill="#b8b8b8"/>
<circle cx="103.5" cy="53" r="1.4" fill="#ababab"/>
<circle cx="24.7" cy="30.2" r="1.4" fill="#d8d8d8"/>
<circle cx="83.1" cy="13.6" r="1.4" fill="#d9d9d9"/>
<circle cx="26" cy="13.6" r="1.4" fill="#e1e1e1"/>
<circle cx="53" cy="34.8" r="1.4" fill="#c9c9c9"/>
<circle cx="59.6" cy="19.3" r="1.4" fill="#b4b4b4"/>
<circle cx="41.1" cy="34.7" r="1.8" fill="#c7c7c7"/>
<circle cx="32.8" cy="50.3" r="1.6" fill="#cccccc"/>
<circle cx="78.6" cy="10.8" r="1.6" fill="#e5e5e5"/>
<circle cx="107.2" cy="55.5" r="1.5" fill="#e2e2e2"/>
<circle cx="69.3" cy="57.2" r="1.7" fill="#bcbcbc"/>
<circle cx="105.9" cy="11.2" r="1.9" fill="#d9d9d9"/>
<circle cx="16.7" cy="36.8" r="1.5" fill="#e2e2e2"/>
<circle cx="21.6" cy="16.3" r="1.8" fill="#c0c0c0"/>
<circle cx="35.5" cy="19.6" r="1.3" fill="#bbbbbb"/>
<circle cx="4.1" cy="10.9" r="1.6" fill="#b7b7b7"/>
<circle cx="68.8" cy="8.7" r="1.6" fill="#c2c2c2"/>
<circle cx="58.9" cy="46.6" r="1.5" fill="#cacaca"/>
<circle cx="23.6" cy="14.3" r="1.6" fill="#cccccc"/>
<circle cx="-2.3" cy="35" r="1.9" fill="#aeaeae"/>
<circle cx="116.7" cy="35" r="1.9" fill="#aeaeae"/>
<circle cx="107.5" cy="44.4" r="1.7" fill="#c6c6c6"/>
<circle cx="48.4" cy="4.2" r="1.8" fill="#e9e9e9"/>
<circle cx="106.7" cy="39.4" r="1.7" fill="#e4e4e4"/>
<circle cx="35.1" cy="59.7" r="1.6" fill="#c6c6c6"/>
<circle cx="110.5" cy="3.3" r="1.5" fill="#d9d9d9"/>
<circle cx="109.3" cy="60.4" r="1.6" fill="#b7b7b7"/>
<circle cx="64.8" cy="42.1" r="1.9" fill="#bdbdbd"/>
<circle cx="45.7" cy="-1" r="1.3" fill="#b0b0b0"/>
<circle cx="45.7" cy="63" r="1.3" fill="#b0b0b0"/>
<circle cx="85.7" cy="49.9" r="1.7" fill="#c3c3c3"/>
<circle cx="6.8" cy="49.4" r="1.5" fill="#e2e2e2"/>
<circle cx="25.3" cy="0.7" r="1.4" fill="#e3e3e3"/>
<circle cx="25.3" cy="64.7" r="1.4" fill="#e3e3e3"/>
<circle cx="17.4" cy="4.2" r="1.9" fill="#bbbbbb"/>
<circle cx="50.4" cy="55.3" r="1.5" fill="#c3c3c3"/>
<circle cx="76.3" cy="11.1" r="1.3" fill="#b3b3b3"/>
<circle cx="69.8" cy="22.1" r="1.5" fill="#e3e3e3"/>
<circle cx="87.3" cy="11.3" r="1.3" fill="#c9c9c9"/>
<circle cx="38.6" cy="19.4" r="1.9" fill="#d9d9d9"/>
<circle cx="105.1" cy="47.7" r="1.4" fill="#b1b1b1"/>
<circle cx="16.2" cy="26.8" r="1.8" fill="#c2c2c2"/>
<circle cx="32.4" cy="34.1" r="1.6" fill="#e5e5e5"/>
<circle cx="109.2" cy="18.8" r="1.7" fill="#ababab"/>
<circle cx="92" cy="30" r="1.7" fill="#dcdcdc"/>
<circle cx="62.1" cy="55.3" r="1.5" fill="#e9e9e9"/>
<circle cx="56.5" cy="23.7" r="1.3" fill="#c4c4c4"/>
<circle cx="-0.4" cy="44.6" r="1.9" fill="#d6d6d6"/>
<circle cx="118.6" cy="44.6" r="1.9" fill="#d6d6d6"/>
<circle cx="92.9" cy="1.3" r="1.6" fill="#dedede"/>
<circle cx="92.9" cy="65.3" r="1.6" fill="#dedede"/>
<circle cx="53.4" cy="18.4" r="1.7" fill="#cbcbcb"/>
<circle cx="107.6" cy="19.4" r="1.7" fill="#e1e1e1"/>
<circle cx="82.6" cy="37.1" r="1.3" fill="#d6d6d6"/>
<circle cx="115.7" cy="60" r="1.4" fill="#d4d4d4"/>
<circle cx="81.5" cy="26.8" r="1.3" fill="#e4e4e4"/>
<circle cx="19.2" cy="46.9" r="1.6" fill="#b8b8b8"/>
<circle cx="75.8" cy="21.1" r="1.7" fill="#cacaca"/>
<circle cx="27.6" cy="-1" r="1.6" fill="#dfdfdf"/>
<circle cx="27.6" cy="63" r="1.6" fill="#dfdfdf"/>
<circle cx="59.2" cy="60.1" r="1.5" fill="#c7c7c7"/>
<circle cx="101.6" cy="59.7" r="1.9" fill="#c5c5c5"/>
<circle cx="42.2" cy="42" r="1.4" fill="#d0d0d0"/>
<circle cx="55.7" cy="8.8" r="1.5" fill="#dfdfdf"/>
<circle cx="78" cy="32.5" r="1.4" fill="#eaeaea"/>
<circle cx="69.1" cy="34.6" r="1.8" fill="#dbdbdb"/>
<circle cx="11.2" cy="19" r="1.6" fill="#b5b5b5"/>
<circle cx="40.5" cy="26.4" r="1.9" fill="#c8c8c8"/>
<circle cx="81.2" cy="9.5" r="1.6" fill="#b0b0b0"/>
<circle cx="29" cy="39.9" r="1.7" fill="#b9b9b9"/>
<circle cx="25.6" cy="21.7" r="1.5" fill="#d9d9d9"/>
<circle cx="103" cy="57" r="1.4" fill="#c9c9c9"/>
<circle cx="58.6" cy="5.6" r="1.5" fill="#d8d8d8"/>
<circle cx="50.6" cy="29.8" r="1.6" fill="#b0b0b0"/>
<circle cx="72.5" cy="11.7" r="1.8" fill="#b1b1b1"/>
<circle cx="18.6" cy="32.1" r="1.8" fill="#cacaca"/>
<circle cx="44.5" cy="29.2" r="1.6" fill="#e0e0e0"/>
<circle cx="112.2" cy="57.7" r="1.5" fill="#dadada"/>
<circle cx="45.3" cy="36.5" r="1.4" fill="#dadada"/>
<circle cx="13.2" cy="0.6" r="1.8" fill="#bcbcbc"/>
<circle cx="13.2" cy="64.6" r="1.8" fill="#bcbcbc"/>
<circle cx="91.7" cy="19.2" r="1.3" fill="#b7b7b7"/>
<circle cx="55.7" cy="40.1" r="1.8" fill="#bdbdbd"/>
<circle cx="110.7" cy="17" r="1.6" fill="#cacaca"/>
<circle cx="15.8" cy="41.8" r="1.6" fill="#adadad"/>
<circle cx="85.3" cy="27.2" r="1.7" fill="#ababab"/>
<circle cx="36.6" cy="13.6" r="1.7" fill="#c3c3c3"/>
<circle cx="106.1" cy="37.6" r="1.7" fill="#c0c0c0"/>
<circle cx="106.4" cy="8.6" r="1.4" fill="#c4c4c4"/>
<circle cx="109" cy="52.7" r="1.4" fill="#e6e6e6"/>
<circle cx="113.8" cy="47.1" r="1.4" fill="#aeaeae"/>
<circle cx="75.5" cy="27.1" r="1.4" fill="#d2d2d2"/>
<circle cx="43.6" cy="53" r="1.7" fill="#e9e9e9"/>
<circle cx="42.3" cy="23.7" r="1.8" fill="#cacaca"/>
<circle cx="52.9" cy="37.5" r="1.4" fill="#d9d9d9"/>
<circle cx="63.1" cy="50.1" r="1.4" fill="#b0b0b0"/>
<circle cx="110.9" cy="39" r="1.6" fill="#c9c9c9"/>
<circle cx="111.3" cy="31.4" r="1.3" fill="#b1b1b1"/>
<circle cx="8.9" cy="4.5" r="1.8" fill="#c4c4c4"/>
<circle cx="65.5" cy="3.2" r="1.7" fill="#cbcbcb"/>
<circle cx="40.5" cy="37.7" r="1.8" fill="#c2c2c2"/>
<circle cx="-0.6" cy="42.4" r="1.7" fill="#bdbdbd"/>
<circle cx="118.4" cy="42.4" r="1.7" fill="#bdbdbd"/>
<circle cx="18.3" cy="55.6" r="1.9" fill="#dfdfdf"/>
<circle cx="56.9" cy="44.6" r="1.5" fill="#e5e5e5"/>
<circle cx="53.9" cy="14.6" r="1.3" fill="#dddddd"/>
<circle cx="60.3" cy="4.3" r="1.5" fill="#dadada"/>
<circle cx="64.8" cy="24.1" r="1.5" fill="#c6c6c6"/>
<circle cx="19.7" cy="57.4" r="1.8" fill="#c9c9c9"/>
<circle cx="91.1" cy="31.3" r="1.8" fill="#eaeaea"/>
<circle cx="97.6" cy="44.8" r="1.4" fill="#dfdfdf"/>
<circle cx="56.6" cy="29.7" r="1.6" fill="#bdbdbd"/>
<circle cx="67" cy="47.5" r="1.7" fill="#ababab"/>
<circle cx="54.5" cy="-1.7" r="1.4" fill="#cecece"/>
<circle cx="54.5" cy="62.3" r="1.4" fill="#cecece"/>
<circle cx="66.8" cy="21.1" r="1.8" fill="#d8d8d8"/>
<circle cx="-2.4" cy="14.6" r="1.9" fill="#bbbbbb"/>
<circle cx="116.6" cy="14.6" r="1.9" fill="#bbbbbb"/>
<circle cx="27.2" cy="59.8" r="1.6" fill="#bababa"/>
<circle cx="36.7" cy="56.9" r="1.6" fill="#c9c9c9"/>
<circle cx="20.8" cy="50.3" r="1.5" fill="#c7c7c7"/>
<circle cx="31.2" cy="31.8" r="1.5" fill="#bbbbbb"/>
<circle cx="96.8" cy="57.9" r="1.4" fill="#d3d3d3"/>
<circle cx="31" cy="37.7" r="1.6" fill="#d3d3d3"/>
<circle cx="63.6" cy="37.3" r="1.5" fill="#e2e2e2"/>
<circle cx="63.8" cy="-2" r="1.5" fill="#cecece"/>
<circle cx="63.8" cy="62" r="1.5" fill="#cecece"/>
<circle cx="92.1" cy="50.6" r="1.3" fill="#cfcfcf"/>
<circle cx="43.2" cy="0.6" r="1.4" fill="#d1d1d1"/>
<circle cx="43.2" cy="64.6" r="1.4" fill="#d1d1d1"/>
<circle cx="109.1" cy="17" r="1.3" fill="#b9b9b9"/>
<circle cx="-2" cy="26.4" r="1.8" fill="#d5d5d5"/>
<circle cx="117" cy="26.4" r="1.8" fill="#d5d5d5"/>
<circle cx="60.4" cy="36.6" r="1.4" fill="#cacaca"/>
<circle cx="67" cy="-1.4" r="1.5" fill="#c2c2c2"/>
<circle cx="67" cy="62.6" r="1.5" fill="#c2c2c2"/>
<circle cx="76.6" cy="59.6" r="1.7" fill="#d2d2d2"/>
<circle cx="69.9" cy="1.3" r="1.3" fill="#c3c3c3"/>
<circle cx="69.9" cy="65.3" r="1.3" fill="#c3c3c3"/>
<circle cx="2" cy="-0.8" r="1.7" fill="#e7e7e7"/>
<circle cx="2" cy="63.2" r="1.7" fill="#e7e7e7"/>
<circle cx="121" cy="-0.8" r="1.7" fill="#e7e7e7"/>
<circle cx="121" cy="63.2" r="1.7" fill="#e7e7e7"/>
<circle cx="60.6" cy="57" r="1.6" fill="#afafaf"/>
<circle cx="32.4" cy="28.7" r="1.6" fill="#e6e6e6"/>
<circle cx="-2.7" cy="29" r="1.5" fill="#cfcfcf"/>
<circle cx="116.3" cy="29" r="1.5" fill="#cfcfcf"/>
<circle cx="55.2" cy="52.9" r="1.6" fill="#cacaca"/>
<circle cx="97.1" cy="47.4" r="1.7" fill="#e2e2e2"/>
<circle cx="21.7" cy="44.2" r="1.6" fill="#d2d2d2"/>
<circle cx="81.7" cy="21.5" r="1.5" fill="#c7c7c7"/>
<circle cx="27.7" cy="34.2" r="1.7" fill="#c7c7c7"/>
<circle cx="8.3" cy="19.2" r="1.5" fill="#c1c1c1"/>
<circle cx="14.7" cy="54.4" r="1.6" fill="#e0e0e0"/>
<circle cx="7.5" cy="26.4" r="1.4" fill="#b9b9b9"/>
<circle cx="111.2" cy="48" r="1.4" fill="#d8d8d8"/>
<circle cx="111.6" cy="53" r="1.8" fill="#bababa"/>
<circle cx="48.1" cy="29.5" r="1.4" fill="#e8e8e8"/>
<circle cx="32.1" cy="10.8" r="1.7" fill="#cfcfcf"/>
<circle cx="40.2" cy="7" r="1.7" fill="#dcdcdc"/>
<circle cx="63.2" cy="19.9" r="1.8" fill="#c8c8c8"/>
<circle cx="108.9" cy="32.7" r="1.8" fill="#bebebe"/>
<circle cx="99.9" cy="57.3" r="1.5" fill="#b3b3b3"/>
<circle cx="53.3" cy="49.4" r="1.8" fill="#b2b2b2"/>
<circle cx="4.9" cy="21.7" r="1.4" fill="#b8b8b8"/>
<circle cx="30.1" cy="28.8" r="1.5" fill="#e5e5e5"/>
<circle cx="102.7" cy="42.9" r="1.4" fill="#c4c4c4"/>
<circle cx="97.6" cy="42.5" r="1.7" fill="#d5d5d5"/>
<circle cx="29.4" cy="4.1" r="1.3" fill="#d7d7d7"/>
<circle cx="84.2" cy="0.9" r="1.4" fill="#c2c2c2"/>
<circle cx="84.2" cy="64.9" r="1.4" fill="#c2c2c2"/>
<circle cx="10" cy="58" r="1.8" fill="#d3d3d3"/>
<circle cx="19.3" cy="17" r="1.4" fill="#cbcbcb"/>
<circle cx="40.8" cy="31.4" r="1.5" fill="#bbbbbb"/>
<circle cx="-0.7" cy="13.7" r="1.4" fill="#e3e3e3"/>
<circle cx="118.3" cy="13.7" r="1.4" fill="#e3e3e3"/>
<circle cx="19.9" cy="-1.9" r="1.4" fill="#d6d6d6"/>
<circle cx="19.9" cy="62.1" r="1.4" fill="#d6d6d6"/>
<circle cx="39.6" cy="21.1" r="1.3" fill="#cdcdcd"/>
<circle cx="87.4" cy="27.3" r="1.4" fill="#d1d1d1"/>
<circle cx="69.3" cy="24" r="1.6" fill="#dcdcdc"/>
<circle cx="82.5" cy="42" r="1.6" fill="#c7c7c7"/>
<circle cx="40.3" cy="56.9" r="1.4" fill="#d5d5d5"/>
<circle cx="105.1" cy="42.8" r="1.7" fill="#bababa"/>
<circle cx="-0.3" cy="55.1" r="1.7" fill="#b1b1b1"/>
<circle cx="118.7" cy="55.1" r="1.7" fill="#b1b1b1"/>
<circle cx="80.3" cy="40.3" r="1.3" fill="#e2e2e2"/>
<circle cx="36.3" cy="38.9" r="1.9" fill="#c9c9c9"/>
<circle cx="77.5" cy="44.9" r="1.6" fill="#c2c2c2"/>
<circle cx="59.7" cy="50.4" r="1.5" fill="#e6e6e6"/>
<circle cx="28.4" cy="52" r="1.6" fill="#b8b8b8"/>
<circle cx="17.1" cy="44.2" r="1.7" fill="#e9e9e9"/>
<circle cx="103.4" cy="21.9" r="1.8" fill="#aaaaaa"/>
<circle cx="8.1" cy="14.7" r="1.5" fill="#ababab"/>
<circle cx="100.4" cy="39.9" r="1.6" fill="#e7e7e7"/>
<circle cx="20.2" cy="8.8" r="1.6" fill="#dadada"/>
<circle cx="105.4" cy="6.8" r="1.9" fill="#bcbcbc"/>
<circle cx="113.9" cy="34.8" r="1.7" fill="#c3c3c3"/>
<circle cx="14.3" cy="44.1" r="1.6" fill="#b9b9b9"/>
<circle cx="16.3" cy="12.3" r="1.8" fill="#b9b9b9"/>
<circle cx="65.6" cy="34.8" r="1.7" fill="#e9e9e9"/>
<circle cx="2.4" cy="3.3" r="1.7" fill="#c0c0c0"/>
<circle cx="121.4" cy="3.3" r="1.7" fill="#c0c0c0"/>
<circle cx="101.9" cy="8.2" r="1.4" fill="#bfbfbf"/>
<circle cx="89.5" cy="60.1" r="1.7" fill="#c7c7c7"/>
<circle cx="44.6" cy="13.4" r="1.8" fill="#aaaaaa"/>
<circle cx="10.2" cy="1.7" r="1.5" fill="#e9e9e9"/>
<circle cx="10.2" cy="65.7" r="1.5" fill="#e9e9e9"/>
<circle cx="45.4" cy="24.9" r="1.5" fill="#e4e4e4"/>
<circle cx="36.8" cy="41.5" r="1.6" fill="#eaeaea"/>
<circle cx="21.4" cy="59.4" r="1.7" fill="#c4c4c4"/>
<circle cx="53.8" cy="4.5" r="1.5" fill="#d9d9d9"/>
<circle cx="14.2" cy="31.6" r="1.3" fill="#c9c9c9"/>
<circle cx="72.2" cy="6.7" r="1.4" fill="#cbcbcb"/>
<circle cx="69.2" cy="32.1" r="1.7" fill="#d6d6d6"/>
<circle cx="46" cy="31.7" r="1.9" fill="#c5c5c5"/>
<circle cx="59.5" cy="54.4" r="1.8" fill="#cbcbcb"/>
<circle cx="34.5" cy="37.2" r="1.7" fill="#dedede"/>
<circle cx="31.5" cy="52.7" r="1.4" fill="#adadad"/>
<circle cx="64.8" cy="59.7" r="1.7" fill="#e8e8e8"/>
<circle cx="7.5" cy="58.1" r="1.5" fill="#e2e2e2"/>
<circle cx="92.5" cy="14.6" r="1.3" fill="#ababab"/>
<circle cx="27.6" cy="40.1" r="1.5" fill="#d4d4d4"/>
<circle cx="88.5" cy="53.2" r="1.5" fill="#bebebe"/>
<circle cx="100.5" cy="12.2" r="1.5" fill="#c7c7c7"/>
<circle cx="42" cy="19.7" r="1.5" fill="#e7e7e7"/>
<circle cx="100.6" cy="34.9" r="1.6" fill="#cfcfcf"/>
<circle cx="64.4" cy="31.9" r="1.4" fill="#b1b1b1"/>
<circle cx="97.8" cy="39.5" r="1.8" fill="#dbdbdb"/>
<circle cx="45.3" cy="27.4" r="1.6" fill="#bdbdbd"/>
<circle cx="109.5" cy="50" r="1.4" fill="#cdcdcd"/>
<circle cx="37.8" cy="6.9" r="1.8" fill="#cccccc"/>
<circle cx="77.2" cy="28.7" r="1.6" fill="#b1b1b1"/>
<circle cx="3.6" cy="-0.6" r="1.7" fill="#dedede"/>
<circle cx="3.6" cy="63.4" r="1.7" fill="#dedede"/>
<circle cx="-0.9" cy="37.6" r="1.4" fill="#bdbdbd"/>
<circle cx="118.1" cy="37.6" r="1.4" fill="#bdbdbd"/>
<circle cx="98" cy="59.6" r="1.7" fill="#dfdfdf"/>
<circle cx="22.1" cy="41.7" r="1.7" fill="#b9b9b9"/>
<circle cx="87" cy="9.4" r="1.5" fill="#c6c6c6"/>
<circle cx="62.3" cy="60.8" r="1.7" fill="#c5c5c5"/>
<circle cx="64.1" cy="5.7" r="1.6" fill="#c7c7c7"/>
<circle cx="72.9" cy="27.6" r="1.4" fill="#e2e2e2"/>
<circle cx="93.2" cy="16.6" r="1.6" fill="#dddddd"/>
<circle cx="65.3" cy="54.6" r="1.4" fill="#b5b5b5"/>
<circle cx="11.8" cy="54.5" r="1.3" fill="#b1b1b1"/>
<circle cx="102.5" cy="31.9" r="1.8" fill="#afafaf"/>
<circle cx="6" cy="44.3" r="1.5" fill="#b4b4b4"/>
<circle cx="26" cy="9.4" r="1.4" fill="#c5c5c5"/>
<circle cx="106.2" cy="31.7" r="1.7" fill="#b9b9b9"/>
<circle cx="48.8" cy="-1.7" r="1.4" fill="#acacac"/>
<circle cx="48.8" cy="62.3" r="1.4" fill="#acacac"/>
<circle cx="81" cy="50.4" r="1.7" fill="#d9d9d9"/>
<circle cx="48.2" cy="14.5" r="1.6" fill="#c8c8c8"/>
<circle cx="76.8" cy="24.5" r="1.3" fill="#d1d1d1"/>
<circle cx="14.4" cy="28.9" r="1.5" fill="#e8e8e8"/>
<circle cx="7.8" cy="53.1" r="1.5" fill="#c3c3c3"/>
<circle cx="105.5" cy="16" r="1.6" fill="#b9b9b9"/>
<circle cx="61.7" cy="31.4" r="1.6" fill="#b2b2b2"/>
<circle cx="43.8" cy="26.2" r="1.6" fill="#e2e2e2"/>
<circle cx="31.1" cy="-1.4" r="1.9" fill="#d6d6d6"/>
<circle cx="31.1" cy="62.6" r="1.9" fill="#d6d6d6"/>
<circle cx="26.1" cy="37" r="1.7" fill="#dcdcdc"/>
<circle cx="80" cy="34.2" r="1.3" fill="#cfcfcf"/>
<circle cx="31.7" cy="47.9" r="1.8" fill="#b3b3b3"/>
<circle cx="1.5" cy="57.7" r="1.9" fill="#dadada"/>
<circle cx="120.5" cy="57.7" r="1.9" fill="#dadada"/>
<circle cx="66" cy="50.1" r="1.7" fill="#d0d0d0"/>
<circle cx="95.3" cy="24.7" r="1.6" fill="#d8d8d8"/>
<circle cx="25.5" cy="47.1" r="1.7" fill="#b3b3b3"/>
<circle cx="109.5" cy="45.4" r="1.9" fill="#cecece"/>
<circle cx="70.5" cy="29.2" r="1.8" fill="#cbcbcb"/>
<circle cx="80.3" cy="3.9" r="1.3" fill="#e0e0e0"/>
<circle cx="2.7" cy="39.6" r="1.5" fill="#e6e6e6"/>
<circle cx="121.7" cy="39.6" r="1.5" fill="#e6e6e6"/>
<circle cx="107.8" cy="5.9" r="1.6" fill="#c6c6c6"/>
<circle cx="102" cy="55.4" r="1.7" fill="#e4e4e4"/>
<circle cx="41" cy="-0.8" r="1.5" fill="#d1d1d1"/>
<circle cx="41" cy="63.2" r="1.5" fill="#d1d1d1"/>
<circle cx="78.2" cy="27.1" r="1.6" fill="#d0d0d0"/>
<circle cx="109.1" cy="37.1" r="1.8" fill="#e8e8e8"/>
<circle cx="45.4" cy="54.5" r="1.6" fill="#e7e7e7"/>
<circle cx="85.5" cy="18.8" r="1.4" fill="#e8e8e8"/>
<circle cx="39.5" cy="54.7" r="1.5" fill="#d7d7d7"/>
<circle cx="21" cy="19.3" r="1.4" fill="#afafaf"/>
<circle cx="28.9" cy="34.7" r="1.9" fill="#b1b1b1"/>
<circle cx="80.2" cy="24.4" r="1.4" fill="#bababa"/>
<circle cx="26.4" cy="28.7" r="1.3" fill="#b7b7b7"/>
<circle cx="2.6" cy="34.7" r="1.6" fill="#c6c6c6"/>
<circle cx="121.6" cy="34.7" r="1.6" fill="#c6c6c6"/>
<circle cx="86.5" cy="60.8" r="1.5" fill="#d4d4d4"/>
<circle cx="32.3" cy="25" r="1.7" fill="#b1b1b1"/>
<circle cx="17.6" cy="19.2" r="1.6" fill="#d6d6d6"/>
<circle cx="16.8" cy="47.4" r="1.4" fill="#dcdcdc"/>
<circle cx="14.7" cy="19.6" r="1.5" fill="#bababa"/>
<circle cx="19.6" cy="6.6" r="1.9" fill="#d5d5d5"/>
<circle cx="-0.4" cy="19.6" r="1.4" fill="#c0c0c0"/>
<circle cx="118.6" cy="19.6" r="1.4" fill="#c0c0c0"/>
<circle cx="106.6" cy="29.4" r="1.5" fill="#c5c5c5"/>
<circle cx="9.7" cy="9.3" r="1.8" fill="#dedede"/>
<circle cx="82" cy="52.5" r="1.9" fill="#cbcbcb"/>
<circle cx="96.7" cy="37.7" r="1.5" fill="#bcbcbc"/>
<circle cx="83.7" cy="25" r="1.7" fill="#dedede"/>
<circle cx="88.5" cy="50.1" r="1.5" fill="#d8d8d8"/>
<circle cx="-2.2" cy="16.4" r="1.4" fill="#b8b8b8"/>
<circle cx="116.8" cy="16.4" r="1.4" fill="#b8b8b8"/>
<circle cx="87.6" cy="-1" r="1.8" fill="#e6e6e6"/>
<circle cx="87.6" cy="63" r="1.8" fill="#e6e6e6"/>
<circle cx="23.1" cy="51.8" r="1.4" fill="#c4c4c4"/>
<circle cx="82.6" cy="47.1" r="1.8" fill="#c6c6c6"/>
<circle cx="100.1" cy="16.5" r="1.6" fill="#b8b8b8"/>
<circle cx="108" cy="46.8" r="1.5" fill="#b1b1b1"/>
<circle cx="63.5" cy="51.7" r="1.9" fill="#b1b1b1"/>
<circle cx="29.5" cy="19.1" r="1.9" fill="#ababab"/>
<circle cx="52.7" cy="58.1" r="1.5" fill="#cecece"/>
<circle cx="5.4" cy="8.6" r="1.8" fill="#b5b5b5"/>
<circle cx="79" cy="22.1" r="1.6" fill="#c2c2c2"/>
<circle cx="70.2" cy="-1" r="1.8" fill="#d1d1d1"/>
<circle cx="70.2" cy="63" r="1.8" fill="#d1d1d1"/>
<circle cx="34.9" cy="11.4" r="1.4" fill="#d8d8d8"/>
<circle cx="79.7" cy="55.8" r="1.8" fill="#b0b0b0"/>
<circle cx="1.8" cy="51.8" r="1.5" fill="#dfdfdf"/>
<circle cx="120.8" cy="51.8" r="1.5" fill="#dfdfdf"/>
<circle cx="37.8" cy="24.1" r="1.5" fill="#dcdcdc"/>
<circle cx="-0.7" cy="59.5" r="1.7" fill="#e5e5e5"/>
<circle cx="118.3" cy="59.5" r="1.7" fill="#e5e5e5"/>
<circle cx="61.6" cy="52.7" r="1.9" fill="#b5b5b5"/>
<circle cx="20.5" cy="3.4" r="1.5" fill="#d5d5d5"/>
<circle cx="79" cy="-1.5" r="1.5" fill="#e2e2e2"/>
<circle cx="79" cy="62.5" r="1.5" fill="#e2e2e2"/>
<circle cx="49.9" cy="4.3" r="1.6" fill="#d0d0d0"/>
<circle cx="62" cy="14.6" r="1.7" fill="#afafaf"/>
<circle cx="66.2" cy="44.6" r="1.8" fill="#e5e5e5"/>
<circle cx="44.9" cy="39.9" r="1.4" fill="#b3b3b3"/>
<circle cx="99.4" cy="5.8" r="1.5" fill="#afafaf"/>
<circle cx="81" cy="13.7" r="1.7" fill="#bbbbbb"/>
<circle cx="28.8" cy="10.8" r="1.7" fill="#cbcbcb"/>
<circle cx="2.3" cy="24.8" r="1.7" fill="#b6b6b6"/>
<circle cx="121.3" cy="24.8" r="1.7" fill="#b6b6b6"/>
<circle cx="95.4" cy="13.5" r="1.7" fill="#bababa"/>
<circle cx="34.6" cy="47.5" r="1.7" fill="#aeaeae"/>
<circle cx="75.2" cy="60" r="1.7" fill="#d6d6d6"/>
<circle cx="108.8" cy="1" r="1.6" fill="#e8e8e8"/>
<circle cx="108.8" cy="65" r="1.6" fill="#e8e8e8"/>
<circle cx="101.5" cy="29.2" r="1.6" fill="#c1c1c1"/>
<circle cx="55.7" cy="19.3" r="1.7" fill="#c4c4c4"/>
<circle cx="36.4" cy="32.3" r="1.4" fill="#c6c6c6"/>
<circle cx="38.1" cy="59.7" r="1.4" fill="#b6b6b6"/>
<circle cx="74.2" cy="8.2" r="1.8" fill="#d0d0d0"/>
<circle cx="108.6" cy="57.5" r="1.6" fill="#aeaeae"/>
<circle cx="61.2" cy="41.9" r="1.4" fill="#b1b1b1"/>
<circle cx="-1.8" cy="-1.7" r="1.9" fill="#c8c8c8"/>
<circle cx="-1.8" cy="62.3" r="1.9" fill="#c8c8c8"/>
<circle cx="117.2" cy="-1.7" r="1.9" fill="#c8c8c8"/>
<circle cx="117.2" cy="62.3" r="1.9" fill="#c8c8c8"/>
<circle cx="73.1" cy="32.2" r="1.6" fill="#c1c1c1"/>
<circle cx="39" cy="34.5" r="1.5" fill="#c7c7c7"/>
<circle cx="29.5" cy="45.1" r="1.7" fill="#e1e1e1"/>
<circle cx="32.6" cy="14.4" r="1.8" fill="#b9b9b9"/>
<circle cx="78" cy="47.2" r="1.7" fill="#eaeaea"/>
<circle cx="30.4" cy="54.3" r="1.6" fill="#e3e3e3"/>
<circle cx="9.7" cy="50.1" r="1.5" fill="#b9b9b9"/>
<circle cx="36.8" cy="1.8" r="1.8" fill="#e0e0e0"/>
<circle cx="36.8" cy="65.8" r="1.8" fill="#e0e0e0"/>
<circle cx="89.2" cy="30" r="1.4" fill="#b3b3b3"/>
<circle cx="115.7" cy="55.8" r="1.4" fill="#d6d6d6"/>
<circle cx="72" cy="47.5" r="1.4" fill="#d8d8d8"/>
<circle cx="12.4" cy="49.4" r="1.5" fill="#d3d3d3"/>
<circle cx="99.2" cy="36.4" r="1.9" fill="#e6e6e6"/>
<circle cx="62.5" cy="34.2" r="1.8" fill="#c7c7c7"/>
<circle cx="93.8" cy="26.8" r="1.6" fill="#e6e6e6"/>
<circle cx="54.6" cy="26.2" r="1.5" fill="#e6e6e6"/>
<circle cx="66.1" cy="57.7" r="1.8" fill="#d2d2d2"/>
<circle cx="96.4" cy="27.4" r="1.9" fill="#acacac"/>
<circle cx="64" cy="16.1" r="1.5" fill="#acacac"/>
<circle cx="101.3" cy="44.7" r="1.7" fill="#e5e5e5"/>
<circle cx="5.1" cy="47.4" r="1.7" fill="#dfdfdf"/>
<circle cx="103.6" cy="23.8" r="1.5" fill="#d9d9d9"/>
<circle cx="21.7" cy="58.2" r="1.8" fill="#b4b4b4"/>
<circle cx="94.5" cy="46.9" r="1.6" fill="#e4e4e4"/>
<circle cx="86.2" cy="14.6" r="1.4" fill="#b5b5b5"/>
<circle cx="63.5" cy="12" r="1.5" fill="#e8e8e8"/>
<circle cx="49.9" cy="49.5" r="1.5" fill="#dcdcdc"/>
<circle cx="34.1" cy="1.9" r="1.7" fill="#d3d3d3"/>
<circle cx="34.1" cy="65.9" r="1.7" fill="#d3d3d3"/>
<circle cx="111.1" cy="1.2" r="1.4" fill="#c9c9c9"/>
<circle cx="111.1" cy="65.2" r="1.4" fill="#c9c9c9"/>
<circle cx="80.2" cy="60.5" r="1.7" fill="#adadad"/>
<circle cx="24.1" cy="44.8" r="1.8" fill="#dadada"/>
<circle cx="2.6" cy="13.6" r="1.8" fill="#cfcfcf"/>
<circle cx="121.6" cy="13.6" r="1.8" fill="#cfcfcf"/>
<circle cx="80.7" cy="45.5" r="1.5" fill="#ababab"/>
<circle cx="13.4" cy="41.8" r="1.5" fill="#acacac"/>
<circle cx="42.1" cy="3.1" r="1.8" fill="#e1e1e1"/>
<circle cx="1.2" cy="22.2" r="1.9" fill="#d4d4d4"/>
<circle cx="120.2" cy="22.2" r="1.9" fill="#d4d4d4"/>
<circle cx="13" cy="26.7" r="1.8" fill="#b6b6b6"/>
<circle cx="52.7" cy="1.6" r="1.9" fill="#e3e3e3"/>
<circle cx="52.7" cy="65.6" r="1.9" fill="#e3e3e3"/>
<circle cx="66.2" cy="12.2" r="1.8" fill="#e8e8e8"/>
<circle cx="85.9" cy="39.9" r="1.7" fill="#dfdfdf"/>
<circle cx="53" cy="8.4" r="1.4" fill="#b6b6b6"/>
<circle cx="66.9" cy="16.3" r="1.9" fill="#e4e4e4"/>
<circle cx="85.4" cy="36.7" r="1.5" fill="#acacac"/>
<circle cx="35" cy="-0.9" r="1.3" fill="#aeaeae"/>
<circle cx="35" cy="63.1" r="1.3" fill="#aeaeae"/>
<circle cx="99.9" cy="-0.9" r="1.8" fill="#bfbfbf"/>
<circle cx="99.9" cy="63.1" r="1.8" fill="#bfbfbf"/>
<circle cx="0.7" cy="26.9" r="1.3" fill="#e6e6e6"/>
<circle cx="119.7" cy="26.9" r="1.3" fill="#e6e6e6"/>
<circle cx="48.4" cy="18.7" r="1.6" fill="#bdbdbd"/>
<circle cx="54" cy="24.5" r="1.8" fill="#b1b1b1"/>
<circle cx="107.8" cy="33.8" r="1.4" fill="#b5b5b5"/>
<circle cx="84.5" cy="11.6" r="1.3" fill="#dbdbdb"/>
<circle cx="8.2" cy="37.2" r="1.6" fill="#d2d2d2"/>
<circle cx="97.5" cy="16.4" r="1.6" fill="#dcdcdc"/>
<circle cx="57.9" cy="16.5" r="1.7" fill="#cccccc"/>
<circle cx="100.2" cy="31.4" r="1.4" fill="#dbdbdb"/>
<circle cx="83.9" cy="35.2" r="1.7" fill="#e4e4e4"/>
<circle cx="24.7" cy="57.6" r="1.6" fill="#c9c9c9"/>
<circle cx="88.3" cy="0.6" r="1.9" fill="#cdcdcd"/>
<circle cx="88.3" cy="64.6" r="1.9" fill="#cdcdcd"/>
<circle cx="72.4" cy="22.2" r="1.8" fill="#bbbbbb"/>
<circle cx="81.2" cy="-1.9" r="1.3" fill="#c4c4c4"/>
<circle cx="81.2" cy="62.1" r="1.3" fill="#c4c4c4"/>
<circle cx="20.2" cy="37.5" r="1.4" fill="#d5d5d5"/>
<circle cx="22.9" cy="-1.2" r="1.3" fill="#d6d6d6"/>
<circle cx="22.9" cy="62.8" r="1.3" fill="#d6d6d6"/>
<circle cx="12.7" cy="39.7" r="1.8" fill="#d6d6d6"/>
<circle cx="102.7" cy="37.4" r="1.7" fill="#e7e7e7"/>
<circle cx="57.4" cy="26.4" r="1.5" fill="#bcbcbc"/>
<circle cx="4.9" cy="52.3" r="1.7" fill="#b6b6b6"/>
<circle cx="76.5" cy="31.7" r="1.4" fill="#c4c4c4"/>
<circle cx="52.4" cy="16.4" r="1.6" fill="#adadad"/>
<circle cx="34.9" cy="56.9" r="1.5" fill="#ababab"/>
<circle cx="48.2" cy="24.2" r="1.5" fill="#b2b2b2"/>
<circle cx="9.9" cy="11" r="1.5" fill="#d4d4d4"/>
<circle cx="22" cy="1.2" r="1.5" fill="#eaeaea"/>
<circle cx="22" cy="65.2" r="1.5" fill="#eaeaea"/>
<circle cx="94.1" cy="6.6" r="1.4" fill="#d6d6d6"/>
<circle cx="58.1" cy="21.3" r="1.6" fill="#acacac"/>
<circle cx="17.2" cy="49.3" r="1.6" fill="#e2e2e2"/>
<circle cx="6.1" cy="28.7" r="1.6" fill="#ababab"/>
<circle cx="36.4" cy="52.7" r="1.8" fill="#bfbfbf"/>
<circle cx="52.6" cy="5.9" r="1.9" fill="#e9e9e9"/>
<circle cx="80.1" cy="29.8" r="1.8" fill="#afafaf"/>
<circle cx="103.7" cy="13.4" r="1.9" fill="#d5d5d5"/>
<circle cx="28.5" cy="57.1" r="1.6" fill="#dfdfdf"/>
<circle cx="84" cy="29.8" r="1.5" fill="#c0c0c0"/>
<circle cx="17.1" cy="22.2" r="1.6" fill="#d6d6d6"/>
<circle cx="8" cy="31.4" r="1.6" fill="#dedede"/>
<circle cx="54.4" cy="28.8" r="1.7" fill="#b2b2b2"/>
<circle cx="85.5" cy="22.4" r="1.7" fill="#eaeaea"/>
<circle cx="25.8" cy="42.9" r="1.4" fill="#d9d9d9"/>
<circle cx="28.4" cy="27.3" r="1.9" fill="#b8b8b8"/>
<circle cx="29.1" cy="47.7" r="1.3" fill="#c8c8c8"/>
<circle cx="24.4" cy="60.8" r="1.8" fill="#dadada"/>
<circle cx="36.6" cy="47.3" r="1.9" fill="#b7b7b7"/>
<circle cx="60" cy="33.9" r="1.5" fill="#e1e1e1"/>
<circle cx="1.9" cy="10.8" r="1.8" fill="#d0d0d0"/>
<circle cx="120.9" cy="10.8" r="1.8" fill="#d0d0d0"/>
<circle cx="88.2" cy="22.4" r="1.4" fill="#c7c7c7"/>
<circle cx="17.7" cy="9.3" r="1.8" fill="#dadada"/>
<circle cx="62.1" cy="23.9" r="1.6" fill="#d5d5d5"/>
<circle cx="6.6" cy="60.3" r="1.6" fill="#dbdbdb"/>
<circle cx="85.9" cy="29.2" r="1.8" fill="#bcbcbc"/>
<circle cx="46.8" cy="50.3" r="1.9" fill="#b3b3b3"/>
<circle cx="13.5" cy="47.4" r="1.4" fill="#b2b2b2"/>
<circle cx="48.3" cy="31.5" r="1.5" fill="#d4d4d4"/>
<circle cx="87.8" cy="58" r="1.8" fill="#d3d3d3"/>
<circle cx="43.7" cy="11.1" r="1.7" fill="#c7c7c7"/>
<circle cx="97.6" cy="8.6" r="1.3" fill="#afafaf"/>
<circle cx="112.7" cy="14.4" r="1.7" fill="#cbcbcb"/>
<circle cx="41.8" cy="44.3" r="1.7" fill="#cacaca"/>
<circle cx="3.6" cy="7.1" r="1.5" fill="#b1b1b1"/>
<circle cx="61" cy="26.3" r="1.9" fill="#b8b8b8"/>
<circle cx="47" cy="42.5" r="1.7" fill="#d2d2d2"/>
<circle cx="95.3" cy="55.2" r="1.9" fill="#cdcdcd"/>
<circle cx="53.7" cy="39.7" r="1.8" fill="#e8e8e8"/>
<circle cx="27.1" cy="55.4" r="1.3" fill="#cccccc"/>
<circle cx="49.7" cy="41.8" r="1.7" fill="#b1b1b1"/>
<circle cx="85.9" cy="34.5" r="1.6" fill="#b6b6b6"/>
<circle cx="71" cy="54.6" r="1.6" fill="#c8c8c8"/>
<circle cx="31.5" cy="16.1" r="1.6" fill="#c1c1c1"/>
<circle cx="79.3" cy="42" r="1.7" fill="#b4b4b4"/>
<circle cx="78.9" cy="56.9" r="1.8" fill="#bfbfbf"/>
<circle cx="44.5" cy="59.4" r="1.4" fill="#c7c7c7"/>
<circle cx="33.8" cy="26.6" r="1.7" fill="#c0c0c0"/>
<circle cx="46.2" cy="1.7" r="1.3" fill="#c8c8c8"/>
<circle cx="46.2" cy="65.7" r="1.3" fill="#c8c8c8"/>
<circle cx="27.5" cy="3.2" r="1.3" fill="#d7d7d7"/>
<circle cx="58.7" cy="57.9" r="1.5" fill="#adadad"/>
<circle cx="28.4" cy="7.1" r="1.5" fill="#dfdfdf"/>
<circle cx="37.9" cy="9.2" r="1.7" fill="#e7e7e7"/>
<circle cx="41.4" cy="50.6" r="1.8" fill="#d8d8d8"/>
<circle cx="96.8" cy="32.7" r="1.4" fill="#ababab"/>
<circle cx="9.7" cy="-1.3" r="1.4" fill="#b6b6b6"/>
<circle cx="9.7" cy="62.7" r="1.4" fill="#b6b6b6"/>
<circle cx="63.6" cy="26.7" r="1.8" fill="#ababab"/>
<circle cx="83.5" cy="55.3" r="1.3" fill="#c7c7c7"/>
<circle cx="101.6" cy="49.3" r="1.7" fill="#d5d5d5"/>
<circle cx="18.5" cy="21.5" r="1.8" fill="#c5c5c5"/>
<circle cx="95.9" cy="44.4" r="1.8" fill="#d0d0d0"/>
<circle cx="32.5" cy="44.4" r="1.5" fill="#eaeaea"/>
<circle cx="53.9" cy="54.8" r="1.8" fill="#c3c3c3"/>
<circle cx="59.2" cy="14.2" r="1.8" fill="#e9e9e9"/>
<circle cx="85.2" cy="-1.9" r="1.7" fill="#d9d9d9"/>
<circle cx="85.2" cy="62.1" r="1.7" fill="#d9d9d9"/>
<circle cx="109.5" cy="54.6" r="1.5" fill="#e8e8e8"/>
<circle cx="44.8" cy="18.8" r="1.9" fill="#c0c0c0"/>
<circle cx="93.9" cy="31.6" r="1.7" fill="#e5e5e5"/>
<circle cx="49.8" cy="47.4" r="1.8" fill="#bcbcbc"/>
<circle cx="34.9" cy="4.4" r="1.4" fill="#ababab"/>
<circle cx="16.3" cy="-0.8" r="1.6" fill="#c1c1c1"/>
<circle cx="16.3" cy="63.2" r="1.6" fill="#c1c1c1"/>
<circle cx="10.1" cy="37.2" r="1.4" fill="#e4e4e4"/>
<circle cx="113.2" cy="29.8" r="1.8" fill="#d0d0d0"/>
<circle cx="47.6" cy="8.5" r="1.3" fill="#e5e5e5"/>
<circle cx="85.7" cy="55.1" r="1.5" fill="#bbbbbb"/>
<circle cx="-0.3" cy="49.2" r="1.6" fill="#e5e5e5"/>
<circle cx="118.7" cy="49.2" r="1.6" fill="#e5e5e5"/>
<circle cx="21.7" cy="54.5" r="1.6" fill="#b1b1b1"/>
<circle cx="40.4" cy="53" r="1.8" fill="#e0e0e0"/>
<circle cx="89.9" cy="42.2" r="1.8" fill="#d3d3d3"/>
<circle cx="76.1" cy="53.2" r="1.4" fill="#dcdcdc"/>
<circle cx="8.1" cy="40" r="1.8" fill="#d5d5d5"/>
<circle cx="105" cy="27.3" r="1.8" fill="#aeaeae"/>
<circle cx="24.5" cy="8.9" r="1.8" fill="#dbdbdb"/>
<circle cx="72.9" cy="42" r="1.5" fill="#d4d4d4"/>
<circle cx="42.3" cy="32.2" r="1.7" fill="#e8e8e8"/>
<circle cx="35" cy="34.4" r="1.7" fill="#d1d1d1"/>
<circle cx="15" cy="50.2" r="1.7" fill="#cbcbcb"/>
<circle cx="49.8" cy="13.4" r="1.7" fill="#dddddd"/>
<circle cx="89.5" cy="39.1" r="1.6" fill="#c7c7c7"/>
<circle cx="83.9" cy="44.8" r="1.9" fill="#aeaeae"/>
<circle cx="71" cy="50.4" r="1.7" fill="#bababa"/>
<circle cx="42.1" cy="54.9" r="1.8" fill="#c3c3c3"/>
<circle cx="59.2" cy="23.8" r="1.6" fill="#e4e4e4"/>
<circle cx="17.9" cy="25.1" r="1.7" fill="#d0d0d0"/>
<circle cx="51.1" cy="59.7" r="1.4" fill="#e4e4e4"/>
<circle cx="56.9" cy="13.4" r="1.8" fill="#e2e2e2"/>
<circle cx="82.7" cy="19.8" r="1.6" fill="#e6e6e6"/>
<circle cx="77.6" cy="54.8" r="1.6" fill="#dddddd"/>
<circle cx="56.6" cy="60.6" r="1.4" fill="#acacac"/>
<circle cx="50" cy="35.2" r="1.7" fill="#bebebe"/>
<circle cx="5.7" cy="14.4" r="1.9" fill="#e0e0e0"/>
<circle cx="1.8" cy="37.2" r="1.4" fill="#eaeaea"/>
<circle cx="120.8" cy="37.2" r="1.4" fill="#eaeaea"/>
<circle cx="102.1" cy="16.7" r="1.5" fill="#d3d3d3"/>
<circle cx="27.9" cy="21.2" r="1.7" fill="#dcdcdc"/>
<circle cx="45.6" cy="57.1" r="1.5" fill="#c2c2c2"/>
<circle cx="-2.1" cy="22.4" r="1.4" fill="#c1c1c1"/>
<circle cx="116.9" cy="22.4" r="1.4" fill="#c1c1c1"/>
<circle cx="8.3" cy="44.7" r="1.8" fill="#b8b8b8"/>
<circle cx="22.5" cy="27.1" r="1.7" fill="#e4e4e4"/>
<circle cx="45.3" cy="21.9" r="1.4" fill="#c4c4c4"/>
<circle cx="5.5" cy="23.7" r="1.7" fill="#b4b4b4"/>
<circle cx="46.8" cy="45.3" r="1.8" fill="#b9b9b9"/>
<circle cx="0.5" cy="23.8" r="1.9" fill="#dddddd"/>
<circle cx="119.5" cy="23.8" r="1.9" fill="#dddddd"/>
<circle cx="83.2" cy="39.5" r="1.5" fill="#cfcfcf"/>
<circle cx="85.1" cy="42" r="1.9" fill="#dedede"/>
<circle cx="107.8" cy="50.5" r="1.7" fill="#d6d6d6"/>
<circle cx="4.9" cy="31.2" r="1.7" fill="#eaeaea"/>
<circle cx="60.6" cy="21.8" r="1.3" fill="#cdcdcd"/>
<circle cx="32.7" cy="39.5" r="1.8" fill="#d0d0d0"/>
<circle cx="3.6" cy="16.5" r="1.8" fill="#acacac"/>
<circle cx="6.6" cy="34.2" r="1.6" fill="#b3b3b3"/>
<circle cx="57.1" cy="32.4" r="1.8" fill="#dadada"/>
<circle cx="7.4" cy="47.6" r="1.7" fill="#ababab"/>
<circle cx="54.5" cy="42.2" r="1.3" fill="#b3b3b3"/>
<circle cx="47.4" cy="39.7" r="1.5" fill="#acacac"/>
<circle cx="106.5" cy="13.9" r="1.6" fill="#c8c8c8"/>
<circle cx="93.1" cy="-1.2" r="1.8" fill="#aeaeae"/>
<circle cx="93.1" cy="62.8" r="1.8" fill="#aeaeae"/>
<circle cx="114" cy="1.4" r="1.9" fill="#d2d2d2"/>
<circle cx="114" cy="65.4" r="1.9" fill="#d2d2d2"/>
<circle cx="21.5" cy="29.6" r="1.5" fill="#c3c3c3"/>
<circle cx="22.2" cy="6.1" r="1.6" fill="#e4e4e4"/>
<circle cx="34.9" cy="55.5" r="1.9" fill="#afafaf"/>
<circle cx="107.9" cy="10.9" r="1.3" fill="#bfbfbf"/>
<circle cx="75.4" cy="16.6" r="1.4" fill="#d5d5d5"/>
<circle cx="70.2" cy="10.9" r="1.8" fill="#dddddd"/>
<circle cx="45.6" cy="16.5" r="1.8" fill="#acacac"/>
<circle cx="78.2" cy="3.2" r="1.8" fill="#b9b9b9"/>
<circle cx="87.1" cy="5.7" r="1.5" fill="#aaaaaa"/>
<circle cx="21.5" cy="11.7" r="1.8" fill="#acacac"/>
<circle cx="51.7" cy="31.6" r="1.5" fill="#adadad"/>
<circle cx="26.3" cy="24.1" r="1.3" fill="#bfbfbf"/>
<circle cx="84.1" cy="57.8" r="1.6" fill="#bfbfbf"/>
<circle cx="12.4" cy="8.4" r="1.7" fill="#d8d8d8"/>
<circle cx="36.6" cy="-1" r="1.8" fill="#d0d0d0"/>
<circle cx="36.6" cy="63" r="1.8" fill="#d0d0d0"/>
<circle cx="36" cy="25" r="1.8" fill="#e7e7e7"/>
<circle cx="74.3" cy="50.6" r="1.4" fill="#e7e7e7"/>
<circle cx="14" cy="10.9" r="1.5" fill="#b1b1b1"/>
<circle cx="15.6" cy="4.2" r="1.3" fill="#e4e4e4"/>
<circle cx="112.4" cy="-0.8" r="1.3" fill="#dbdbdb"/>
<circle cx="112.4" cy="63.2" r="1.3" fill="#dbdbdb"/>
<circle cx="66.7" cy="1.6" r="1.3" fill="#e9e9e9"/>
<circle cx="66.7" cy="65.6" r="1.3" fill="#e9e9e9"/>
<circle cx="16.3" cy="16.7" r="1.8" fill="#afafaf"/>
<circle cx="86.6" cy="3.1" r="1.5" fill="#e1e1e1"/>
<circle cx="2.9" cy="60.5" r="1.7" fill="#c0c0c0"/>
<circle cx="121.9" cy="60.5" r="1.7" fill="#c0c0c0"/>
<circle cx="91.4" cy="11.9" r="1.7" fill="#cacaca"/>
<circle cx="24.7" cy="39.3" r="1.5" fill="#c1c1c1"/>
<circle cx="18.3" cy="34.9" r="1.8" fill="#acacac"/>
<circle cx="14.7" cy="59.8" r="1.8" fill="#b0b0b0"/>
<circle cx="32.9" cy="8.7" r="1.7" fill="#e3e3e3"/>
<circle cx="89.3" cy="55.4" r="1.3" fill="#c6c6c6"/>
<circle cx="113.6" cy="45.4" r="1.6" fill="#b9b9b9"/>
<circle cx="47.5" cy="35.1" r="1.7" fill="#bababa"/>
<circle cx="30.7" cy="41.9" r="1.5" fill="#cecece"/>
<circle cx="7.2" cy="41.9" r="1.3" fill="#afafaf"/>
<circle cx="112" cy="26.7" r="1.4" fill="#bdbdbd"/>
<circle cx="75.2" cy="23.9" r="1.4" fill="#c3c3c3"/>
<circle cx="78.5" cy="1.6" r="1.4" fill="#c4c4c4"/>
<circle cx="78.5" cy="65.6" r="1.4" fill="#c4c4c4"/>
<circle cx="13.9" cy="6.4" r="1.8" fill="#c9c9c9"/>
<circle cx="35.1" cy="15.9" r="1.6" fill="#c1c1c1"/>
<circle cx="95.9" cy="34.3" r="1.9" fill="#b5b5b5"/>
<circle cx="47.6" cy="54.6" r="1.4" fill="#d5d5d5"/>
<circle cx="3.6" cy="1.3" r="1.7" fill="#c0c0c0"/>
<circle cx="3.6" cy="65.3" r="1.7" fill="#c0c0c0"/>
<circle cx="85.9" cy="24" r="1.8" fill="#dfdfdf"/>
<circle cx="115.6" cy="9" r="1.6" fill="#d4d4d4"/>
<circle cx="68.3" cy="18.9" r="1.5" fill="#c6c6c6"/>
<circle cx="18.6" cy="29.8" r="1.9" fill="#d7d7d7"/>
<circle cx="90.9" cy="52.4" r="1.4" fill="#c0c0c0"/>
<circle cx="72.2" cy="3.7" r="1.8" fill="#d3d3d3"/>
<circle cx="92.2" cy="40.1" r="1.5" fill="#e2e2e2"/>
<circle cx="74.1" cy="55.4" r="1.8" fill="#c4c4c4"/>
<circle cx="9.7" cy="21.8" r="1.5" fill="#c6c6c6"/>
<circle cx="74.6" cy="30.1" r="1.8" fill="#e6e6e6"/>
<circle cx="31.6" cy="22" r="1.6" fill="#b2b2b2"/>
<circle cx="91.5" cy="16.6" r="1.5" fill="#b6b6b6"/>
<circle cx="23" cy="55.3" r="1.8" fill="#e0e0e0"/>
<circle cx="22.1" cy="31.7" r="1.4" fill="#e5e5e5"/>
<circle cx="25" cy="17.4" r="1.8" fill="#b4b4b4"/>
<circle cx="32.3" cy="54.3" r="1.5" fill="#acacac"/>
<circle cx="10.8" cy="5.7" r="1.7" fill="#bebebe"/>
<circle cx="60.2" cy="12.1" r="1.5" fill="#acacac"/>
<circle cx="28.1" cy="16.3" r="1.6" fill="#b8b8b8"/>
<circle cx="8.6" cy="28.9" r="1.3" fill="#eaeaea"/>
<circle cx="54.4" cy="32.1" r="1.7" fill="#cbcbcb"/>
<circle cx="-2.7" cy="19.2" r="1.4" fill="#b6b6b6"/>
<circle cx="116.3" cy="19.2" r="1.4" fill="#b6b6b6"/>
<circle cx="115.5" cy="4.2" r="1.6" fill="#b6b6b6"/>
<circle cx="35" cy="21.7" r="1.3" fill="#d2d2d2"/>
<circle cx="-1.9" cy="11.6" r="1.5" fill="#afafaf"/>
<circle cx="117.1" cy="11.6" r="1.5" fill="#afafaf"/>
<circle cx="67.8" cy="44.7" r="1.4" fill="#c9c9c9"/>
<circle cx="-2.6" cy="23.8" r="1.7" fill="#e4e4e4"/>
<circle cx="116.4" cy="23.8" r="1.7" fill="#e4e4e4"/>
<circle cx="73.8" cy="19.2" r="1.7" fill="#aaaaaa"/>
<circle cx="109.2" cy="21.8" r="1.7" fill="#d0d0d0"/>
<circle cx="5.2" cy="42.3" r="1.5" fill="#e1e1e1"/>
<circle cx="94.3" cy="59.7" r="1.4" fill="#d3d3d3"/>
<circle cx="23.1" cy="37.5" r="1.4" fill="#cfcfcf"/>
<circle cx="76.5" cy="-1.4" r="1.5" fill="#e9e9e9"/>
<circle cx="76.5" cy="62.6" r="1.5" fill="#e9e9e9"/>
<circle cx="100.3" cy="4.2" r="1.6" fill="#cacaca"/>
<circle cx="30" cy="50.3" r="1.5" fill="#adadad"/>
<circle cx="49.9" cy="21" r="1.6" fill="#b1b1b1"/>
<circle cx="97.9" cy="35" r="1.4" fill="#d1d1d1"/>
<circle cx="76.7" cy="37.3" r="1.5" fill="#e6e6e6"/>
<circle cx="105" cy="52.3" r="1.8" fill="#dbdbdb"/>
<circle cx="85.6" cy="47.3" r="1.5" fill="#b6b6b6"/>
<circle cx="90.5" cy="6.9" r="1.3" fill="#cccccc"/>
<circle cx="35.5" cy="28.7" r="1.4" fill="#b2b2b2"/>
<circle cx="23.4" cy="49.2" r="1.4" fill="#dcdcdc"/>
<circle cx="100.2" cy="22.4" r="1.7" fill="#b6b6b6"/>
<circle cx="15.6" cy="6.8" r="1.9" fill="#dddddd"/>
<circle cx="60.8" cy="48" r="1.4" fill="#c5c5c5"/>
<circle cx="89.5" cy="8.5" r="1.7" fill="#bcbcbc"/>
<circle cx="51.5" cy="21.3" r="1.7" fill="#bcbcbc"/>
<circle cx="21.3" cy="14" r="1.4" fill="#acacac"/>
<circle cx="99.2" cy="53" r="1.9" fill="#dcdcdc"/>
<circle cx="4.2" cy="37.7" r="1.8" fill="#aaaaaa"/>
<circle cx="39.8" cy="41.6" r="1.6" fill="#b1b1b1"/>
<circle cx="61.3" cy="-0.8" r="1.3" fill="#e8e8e8"/>
<circle cx="61.3" cy="63.2" r="1.3" fill="#e8e8e8"/>
<circle cx="24.7" cy="-1.1" r="1.4" fill="#dddddd"/>
<circle cx="24.7" cy="62.9" r="1.4" fill="#dddddd"/>
<circle cx="89.3" cy="44.5" r="1.6" fill="#acacac"/>
<circle cx="24.5" cy="34.6" r="1.6" fill="#b7b7b7"/>
<circle cx="103.8" cy="55.1" r="1.5" fill="#c5c5c5"/>
<circle cx="19.6" cy="52.5" r="1.8" fill="#e3e3e3"/>
<circle cx="110.7" cy="29.4" r="1.6" fill="#cecece"/>
<circle cx="98" cy="54.6" r="1.7" fill="#c8c8c8"/>
<circle cx="91.4" cy="4.3" r="1.3" fill="#cecece"/>
<circle cx="104.3" cy="39.4" r="1.3" fill="#b0b0b0"/>
<circle cx="58.8" cy="28.8" r="1.7" fill="#e1e1e1"/>
<circle cx="113.1" cy="59.9" r="1.4" fill="#dbdbdb"/>
<circle cx="-2.4" cy="47.3" r="1.4" fill="#e5e5e5"/>
<circle cx="116.6" cy="47.3" r="1.4" fill="#e5e5e5"/>
<circle cx="16.5" cy="31.8" r="1.3" fill="#d4d4d4"/>
<circle cx="52.2" cy="48" r="1.8" fill="#c7c7c7"/>
<circle cx="17.7" cy="13.4" r="1.5" fill="#dfdfdf"/>
<circle cx="19.4" cy="10.9" r="1.6" fill="#d4d4d4"/>
<circle cx="107.1" cy="59.6" r="1.5" fill="#dbdbdb"/>
<circle cx="63" cy="44.1" r="1.8" fill="#bfbfbf"/>
<circle cx="5.4" cy="4.1" r="1.6" fill="#bbbbbb"/>
<circle cx="72.3" cy="-1.9" r="1.7" fill="#e9e9e9"/>
<circle cx="72.3" cy="62.1" r="1.7" fill="#e9e9e9"/>
<circle cx="92.4" cy="8.7" r="1.5" fill="#e2e2e2"/>
<circle cx="84" cy="7.1" r="1.4" fill="#bfbfbf"/>
<circle cx="95" cy="3.3" r="1.4" fill="#e6e6e6"/>
<circle cx="39.8" cy="46.8" r="1.8" fill="#b6b6b6"/>
<circle cx="99" cy="14.1" r="1.5" fill="#d1d1d1"/>
<circle cx="47.9" cy="60.3" r="1.6" fill="#d7d7d7"/>
<circle cx="48.3" cy="16.9" r="1.4" fill="#e1e1e1"/>
<circle cx="46.8" cy="48.1" r="1.4" fill="#e5e5e5"/>
<circle cx="44.5" cy="4" r="1.9" fill="#aeaeae"/>
<circle cx="13.7" cy="16.2" r="1.8" fill="#c9c9c9"/>
<circle cx="51.8" cy="42.7" r="1.4" fill="#cdcdcd"/>
<circle cx="96.5" cy="12.3" r="1.7" fill="#c9c9c9"/>
<circle cx="110.7" cy="9.4" r="1.5" fill="#acacac"/>
<circle cx="12.5" cy="37.5" r="1.7" fill="#dddddd"/>
<circle cx="81.3" cy="5.8" r="1.6" fill="#cfcfcf"/>
<circle cx="64" cy="57" r="1.8" fill="#d1d1d1"/>
<circle cx="45.4" cy="50.3" r="1.8" fill="#dfdfdf"/>
<circle cx="69.1" cy="39" r="1.7" fill="#e8e8e8"/>
<circle cx="109.4" cy="-0.7" r="1.9" fill="#d7d7d7"/>
<circle cx="109.4" cy="63.3" r="1.9" fill="#d7d7d7"/>
<circle cx="27.4" cy="19.9" r="1.6" fill="#c9c9c9"/>
<circle cx="37.6" cy="12.1" r="1.8" fill="#bfbfbf"/>
<circle cx="75.9" cy="57.2" r="1.5" fill="#dedede"/>
<circle cx="16.1" cy="0.9" r="1.5" fill="#b1b1b1"/>
<circle cx="16.1" cy="64.9" r="1.5" fill="#b1b1b1"/>
<circle cx="8.9" cy="33.9" r="1.5" fill="#c2c2c2"/>
<circle cx="76.9" cy="19" r="1.6" fill="#d1d1d1"/>
<circle cx="51.3" cy="52.2" r="1.4" fill="#b9b9b9"/>
<circle cx="82.9" cy="50.5" r="1.7" fill="#b4b4b4"/>
<circle cx="87.8" cy="47.1" r="1.8" fill="#e7e7e7"/>
<circle cx="45.5" cy="6.4" r="1.8" fill="#bebebe"/>
<circle cx="17.4" cy="60.3" r="1.5" fill="#b5b5b5"/>
<circle cx="44.7" cy="8.6" r="1.5" fill="#b4b4b4"/>
<circle cx="116" cy="39.4" r="1.5" fill="#c1c1c1"/>
<circle cx="88.7" cy="14.1" r="1.4" fill="#b6b6b6"/>
<circle cx="1.2" cy="47.1" r="1.4" fill="#acacac"/>
<circle cx="120.2" cy="47.1" r="1.4" fill="#acacac"/>
<circle cx="102" cy="1.8" r="1.4" fill="#cecece"/>
<circle cx="102" cy="65.8" r="1.4" fill="#cecece"/>
<circle cx="49.2" cy="37.7" r="1.5" fill="#d5d5d5"/>
<circle cx="18.8" cy="1.1" r="1.5" fill="#bbbbbb"/>
<circle cx="18.8" cy="65.1" r="1.5" fill="#bbbbbb"/>
<circle cx="9.8" cy="17.3" r="1.6" fill="#b4b4b4"/>
<circle cx="112.4" cy="4.3" r="1.8" fill="#b1b1b1"/>
<circle cx="3.7" cy="55" r="1.8" fill="#cacaca"/>
<circle cx="91.5" cy="35.2" r="1.9" fill="#e6e6e6"/>
<circle cx="67.3" cy="52" r="1.6" fill="#bcbcbc"/>
<circle cx="112.5" cy="19.5" r="1.5" fill="#b4b4b4"/>
<circle cx="79.4" cy="16.2" r="1.4" fill="#cecece"/>
<circle cx="36.5" cy="50.3" r="1.3" fill="#cfcfcf"/>
<circle cx="11.6" cy="60.4" r="1.7" fill="#c1c1c1"/>
<circle cx="41.2" cy="29.6" r="1.3" fill="#d4d4d4"/>
<circle cx="97.3" cy="6.3" r="1.8" fill="#cacaca"/>
<circle cx="115.2" cy="42.4" r="1.5" fill="#d1d1d1"/>
<circle cx="82.1" cy="1.6" r="1.5" fill="#c2c2c2"/>
<circle cx="82.1" cy="65.6" r="1.5" fill="#c2c2c2"/>
<circle cx="42.4" cy="39.2" r="1.8" fill="#afafaf"/>
<circle cx="103.5" cy="47.9" r="1.7" fill="#b6b6b6"/>
<circle cx="111.6" cy="22.1" r="1.8" fill="#e9e9e9"/>
<circle cx="77.6" cy="34.6" r="1.7" fill="#d3d3d3"/>
<circle cx="98.6" cy="29.4" r="1.8" fill="#cecece"/>
<circle cx="0" cy="39.4" r="1.6" fill="#d6d6d6"/>
<circle cx="119" cy="39.4" r="1.6" fill="#d6d6d6"/>
<circle cx="2.3" cy="0.7" r="1.3" fill="#eaeaea"/>
<circle cx="2.3" cy="64.7" r="1.3" fill="#eaeaea"/>
<circle cx="121.3" cy="0.7" r="1.3" fill="#eaeaea"/>
<circle cx="121.3" cy="64.7" r="1.3" fill="#eaeaea"/>
<circle cx="4.5" cy="58.3" r="1.4" fill="#cecece"/>
<circle cx="72.8" cy="37" r="1.7" fill="#bfbfbf"/>
<circle cx="111.3" cy="37.8" r="1.8" fill="#bbbbbb"/>
<circle cx="55.5" cy="57.4" r="1.7" fill="#c5c5c5"/>
<circle cx="98.3" cy="19.6" r="1.6" fill="#b3b3b3"/>
<circle cx="63.2" cy="9.6" r="1.7" fill="#e8e8e8"/>
<circle cx="28.5" cy="32.1" r="1.6" fill="#c7c7c7"/>
<circle cx="85.2" cy="52.1" r="1.3" fill="#eaeaea"/>
<circle cx="33.9" cy="52.1" r="1.7" fill="#e9e9e9"/>
<circle cx="39.7" cy="1.4" r="1.9" fill="#c1c1c1"/>
<circle cx="39.7" cy="65.4" r="1.9" fill="#c1c1c1"/>
<circle cx="105" cy="-1.2" r="1.6" fill="#acacac"/>
<circle cx="105" cy="62.8" r="1.6" fill="#acacac"/>
<circle cx="72.6" cy="16.3" r="1.4" fill="#b0b0b0"/>
<circle cx="51.5" cy="27.6" r="1.7" fill="#c5c5c5"/>
<circle cx="15.8" cy="57.6" r="1.6" fill="#d8d8d8"/>
<circle cx="67.2" cy="37" r="1.8" fill="#bebebe"/>
<circle cx="97.7" cy="23.9" r="1.6" fill="#b2b2b2"/>
<circle cx="67" cy="42" r="1.6" fill="#c6c6c6"/>
<circle cx="91.3" cy="37.5" r="1.4" fill="#e6e6e6"/>
<circle cx="13.5" cy="51.7" r="1.5" fill="#dedede"/>
<circle cx="65.5" cy="13.9" r="1.5" fill="#c8c8c8"/>
<circle cx="99.4" cy="42.6" r="1.6" fill="#b8b8b8"/>
<circle cx="110.3" cy="24.8" r="1.8" fill="#e4e4e4"/>
<circle cx="51.8" cy="12" r="1.4" fill="#b8b8b8"/>
<circle cx="9.4" cy="59.7" r="1.6" fill="#d6d6d6"/>
<circle cx="113.7" cy="27.1" r="1.8" fill="#ababab"/>
<circle cx="92.3" cy="45.3" r="1.8" fill="#c0c0c0"/>
<circle cx="35.7" cy="9.2" r="1.8" fill="#d7d7d7"/>
<circle cx="67.7" cy="4.1" r="1.6" fill="#e2e2e2"/>
<circle cx="20.2" cy="41.8" r="1.6" fill="#acacac"/>
<circle cx="39.5" cy="45.1" r="1.4" fill="#b7b7b7"/>
<circle cx="25.3" cy="11.3" r="1.4" fill="#c7c7c7"/>
<circle cx="0.2" cy="8.2" r="1.4" fill="#e4e4e4"/>
<circle cx="119.2" cy="8.2" r="1.4" fill="#e4e4e4"/>
<circle cx="5.2" cy="27.1" r="1.3" fill="#cacaca"/>
<circle cx="103.3" cy="9.6" r="1.8" fill="#b6b6b6"/>
<circle cx="106.9" cy="24" r="1.6" fill="#c1c1c1"/>
<circle cx="43" cy="-1.1" r="1.7" fill="#dbdbdb"/>
<circle cx="43" cy="62.9" r="1.7" fill="#dbdbdb"/>
<circle cx="79.1" cy="51.9" r="1.8" fill="#c2c2c2"/>
<circle cx="43.5" cy="57.8" r="1.6" fill="#afafaf"/>
<circle cx="96" cy="49.4" r="1.4" fill="#e6e6e6"/>
<circle cx="54.7" cy="16.9" r="1.6" fill="#bababa"/>
<circle cx="96.2" cy="-1.4" r="1.6" fill="#c0c0c0"/>
<circle cx="96.2" cy="62.6" r="1.6" fill="#c0c0c0"/>
<circle cx="81.7" cy="11.2" r="1.4" fill="#b9b9b9"/>
<circle cx="27.4" cy="37.3" r="1.8" fill="#c5c5c5"/>
<circle cx="40.6" cy="10.8" r="1.7" fill="#acacac"/>
<circle cx="2.2" cy="31.7" r="1.5" fill="#cfcfcf"/>
<circle cx="121.2" cy="31.7" r="1.5" fill="#cfcfcf"/>
<circle cx="0.7" cy="4" r="1.9" fill="#aeaeae"/>
<circle cx="119.7" cy="4" r="1.9" fill="#aeaeae"/>
<circle cx="56.5" cy="34.7" r="1.4" fill="#e6e6e6"/>
<circle cx="112.2" cy="40.4" r="1.5" fill="#bbbbbb"/>
<circle cx="81.2" cy="19.1" r="1.6" fill="#e1e1e1"/>
<circle cx="106.6" cy="3.8" r="1.7" fill="#e2e2e2"/>
<circle cx="94.6" cy="21.4" r="1.5" fill="#c5c5c5"/>
<circle cx="55.3" cy="21.3" r="1.8" fill="#d9d9d9"/>
<circle cx="92.9" cy="37.8" r="1.6" fill="#dddddd"/>
<circle cx="113.9" cy="57.5" r="1.4" fill="#dadada"/>
<circle cx="91.9" cy="24.9" r="1.8" fill="#bcbcbc"/>
<circle cx="24" cy="4.4" r="1.8" fill="#e1e1e1"/>
<circle cx="68.5" cy="13.4" r="1.4" fill="#b8b8b8"/>
<circle cx="110.8" cy="41.9" r="1.5" fill="#e5e5e5"/>
<circle cx="11.4" cy="35" r="1.5" fill="#acacac"/>
<circle cx="98.8" cy="0.8" r="1.9" fill="#b0b0b0"/>
<circle cx="98.8" cy="64.8" r="1.9" fill="#b0b0b0"/>
<circle cx="30.6" cy="9" r="1.3" fill="#c0c0c0"/>
<circle cx="110.5" cy="34.4" r="1.6" fill="#cfcfcf"/>
<circle cx="7.7" cy="11.2" r="1.5" fill="#b9b9b9"/>
<circle cx="16" cy="53" r="1.5" fill="#e8e8e8"/>
<circle cx="9.6" cy="53" r="1.5" fill="#e0e0e0"/>
<circle cx="62.6" cy="30" r="1.7" fill="#c6c6c6"/>
<circle cx="39.3" cy="4.2" r="1.6" fill="#e0e0e0"/>
<circle cx="114.9" cy="5.8" r="1.7" fill="#bababa"/>
<circle cx="65.6" cy="18.6" r="1.4" fill="#ababab"/>
<circle cx="39.4" cy="14.2" r="1.6" fill="#c6c6c6"/>
<circle cx="30" cy="60.8" r="1.8" fill="#c2c2c2"/>
<circle cx="15" cy="34" r="1.6" fill="#dbdbdb"/>
<circle cx="76.3" cy="6.2" r="1.9" fill="#cccccc"/>
<circle cx="8" cy="0.7" r="1.3" fill="#b5b5b5"/>
<circle cx="8" cy="64.7" r="1.3" fill="#b5b5b5"/>
<circle cx="24.9" cy="7" r="1.6" fill="#d8d8d8"/>
<circle cx="14" cy="8.4" r="1.5" fill="#e1e1e1"/>
<circle cx="76.1" cy="47.4" r="1.5" fill="#c0c0c0"/>
<circle cx="56.8" cy="50" r="1.9" fill="#cccccc"/>
<circle cx="69.2" cy="26.4" r="1.4" fill="#c1c1c1"/>
<circle cx="113.8" cy="23.8" r="1.7" fill="#d0d0d0"/>
<circle cx="51.1" cy="45.3" r="1.8" fill="#d7d7d7"/>
<circle cx="104.2" cy="60.6" r="1.7" fill="#dedede"/>
<circle cx="28" cy="0.7" r="1.8" fill="#ababab"/>
<circle cx="28" cy="64.7" r="1.8" fill="#ababab"/>
<circle cx="-1" cy="1.6" r="1.8" fill="#cdcdcd"/>
<circle cx="-1" cy="65.6" r="1.8" fill="#cdcdcd"/>
<circle cx="118" cy="1.6" r="1.8" fill="#cdcdcd"/>
<circle cx="118" cy="65.6" r="1.8" fill="#cdcdcd"/>
<circle cx="73" cy="1.5" r="1.6" fill="#dbdbdb"/>
<circle cx="73" cy="65.5" r="1.6" fill="#dbdbdb"/>
<circle cx="42.5" cy="7.1" r="1.4" fill="#c1c1c1"/>
<circle cx="105" cy="49.8" r="1.5" fill="#b7b7b7"/>
<circle cx="33.9" cy="5.9" r="1.4" fill="#c9c9c9"/>
<circle cx="23" cy="46.8" r="1.8" fill="#dcdcdc"/>
<circle cx="109.6" cy="13.5" r="1.6" fill="#c4c4c4"/>
<circle cx="28.8" cy="42.3" r="1.8" fill="#b9b9b9"/>
<circle cx="96" cy="19" r="1.4" fill="#e3e3e3"/>
<circle cx="91.5" cy="-0.8" r="1.5" fill="#d0d0d0"/>
<circle cx="91.5" cy="63.2" r="1.5" fill="#d0d0d0"/>
<circle cx="42.5" cy="37.6" r="1.7" fill="#d0d0d0"/>
<circle cx="106.2" cy="21.7" r="1.5" fill="#b3b3b3"/>
<circle cx="88.3" cy="42.7" r="1.7" fill="#cbcbcb"/>
<circle cx="102.8" cy="-1.9" r="1.7" fill="#cdcdcd"/>
<circle cx="102.8" cy="62.1" r="1.7" fill="#cdcdcd"/>
<circle cx="111.4" cy="6.6" r="1.4" fill="#cecece"/>
<circle cx="-2.1" cy="52.8" r="1.4" fill="#aaaaaa"/>
<circle cx="116.9" cy="52.8" r="1.4" fill="#aaaaaa"/>
<circle cx="33.4" cy="4.3" r="1.8" fill="#d5d5d5"/>
<circle cx="-2.3" cy="31.7" r="1.3" fill="#d3d3d3"/>
<circle cx="116.7" cy="31.7" r="1.3" fill="#d3d3d3"/>
<circle cx="105" cy="58.2" r="1.7" fill="#c6c6c6"/>
<circle cx="56" cy="4.3" r="1.5" fill="#bbbbbb"/>
<circle cx="5.4" cy="19.2" r="1.5" fill="#dadada"/>
<circle cx="51" cy="9.4" r="1.5" fill="#cbcbcb"/>
<circle cx="70.7" cy="6.5" r="1.4" fill="#cecece"/>
<circle cx="14.6" cy="24.6" r="1.5" fill="#aeaeae"/>
<circle cx="102.6" cy="6.5" r="1.9" fill="#cccccc"/>
<circle cx="55.7" cy="36.6" r="1.8" fill="#d7d7d7"/>
<circle cx="114.3" cy="52" r="1.8" fill="#cdcdcd"/>
<circle cx="90.8" cy="57.7" r="1.9" fill="#e8e8e8"/>
<circle cx="31" cy="26.3" r="1.4" fill="#c2c2c2"/>
<circle cx="104.7" cy="28.9" r="1.6" fill="#dbdbdb"/>
<circle cx="106.4" cy="1" r="1.5" fill="#d0d0d0"/>
<circle cx="106.4" cy="65" r="1.5" fill="#d0d0d0"/>
<circle cx="3.2" cy="9.6" r="1.7" fill="#e6e6e6"/>
<circle cx="62.1" cy="3.5" r="1.6" fill="#cfcfcf"/>
<circle cx="94.3" cy="42" r="1.3" fill="#b9b9b9"/>
<circle cx="3.7" cy="44.3" r="1.6" fill="#c0c0c0"/>
<circle cx="55.6" cy="47" r="1.3" fill="#acacac"/>
<circle cx="21.1" cy="40.1" r="1.7" fill="#e5e5e5"/>
<circle cx="11.8" cy="24.6" r="1.6" fill="#b8b8b8"/>
<circle cx="2.3" cy="17.1" r="1.9" fill="#cecece"/>
<circle cx="121.3" cy="17.1" r="1.9" fill="#cecece"/>
<circle cx="50.8" cy="40.2" r="1.7" fill="#adadad"/>
<circle cx="63.1" cy="40.3" r="1.8" fill="#afafaf"/>
<circle cx="21.2" cy="34.9" r="1.5" fill="#d3d3d3"/>
<circle cx="73.9" cy="40" r="1.5" fill="#e3e3e3"/>
<circle cx="60.2" cy="39.2" r="1.7" fill="#eaeaea"/>
<circle cx="82" cy="31.8" r="1.6" fill="#b6b6b6"/>
<circle cx="12.7" cy="21.4" r="1.4" fill="#d9d9d9"/>
<circle cx="115.1" cy="-1.7" r="1.8" fill="#dbdbdb"/>
<circle cx="115.1" cy="62.3" r="1.8" fill="#dbdbdb"/>
<circle cx="23.8" cy="19.3" r="1.5" fill="#c4c4c4"/>
<circle cx="27.2" cy="44.3" r="1.4" fill="#cecece"/>
<circle cx="12.7" cy="57" r="1.6" fill="#e2e2e2"/>
<circle cx="66.5" cy="31.7" r="1.3" fill="#b1b1b1"/>
<circle cx="85.4" cy="16.9" r="1.5" fill="#d5d5d5"/>
<circle cx="7.7" cy="6.8" r="1.5" fill="#e9e9e9"/>
<circle cx="74.7" cy="34" r="1.4" fill="#e9e9e9"/>
<circle cx="38" cy="28.8" r="1.3" fill="#bababa"/>
<circle cx="85" cy="32.3" r="1.6" fill="#c3c3c3"/>
<circle cx="41.9" cy="14.4" r="1.9" fill="#d4d4d4"/>
<circle cx="25.8" cy="32.4" r="1.8" fill="#d7d7d7"/>
<circle cx="66.2" cy="30.1" r="1.7" fill="#dbdbdb"/>
<circle cx="-0.6" cy="30.1" r="1.5" fill="#bfbfbf"/>
<circle cx="118.4" cy="30.1" r="1.5" fill="#bfbfbf"/>
<circle cx="70.6" cy="60.1" r="1.6" fill="#e1e1e1"/>
<circle cx="64.7" cy="39.8" r="1.8" fill="#b9b9b9"/>
<circle cx="76.2" cy="1.4" r="1.9" fill="#b6b6b6"/>
<circle cx="76.2" cy="65.4" r="1.9" fill="#b6b6b6"/>
<circle cx="66.8" cy="27.5" r="1.7" fill="#bcbcbc"/>
<circle cx="97.1" cy="21.9" r="1.7" fill="#bbbbbb"/>
<circle cx="87.1" cy="31.7" r="1.5" fill="#bdbdbd"/>
<circle cx="-0.7" cy="57" r="1.6" fill="#e5e5e5"/>
<circle cx="118.3" cy="57" r="1.6" fill="#e5e5e5"/>
<circle cx="11.5" cy="13.3" r="1.6" fill="#dedede"/>
<circle cx="92.2" cy="55.8" r="1.7" fill="#adadad"/>
<circle cx="3" cy="50.4" r="1.7" fill="#b7b7b7"/>
<circle cx="26.9" cy="50" r="1.8" fill="#d8d8d8"/>
<circle cx="100.3" cy="46.6" r="1.6" fill="#aaaaaa"/>
<circle cx="107.8" cy="26.6" r="1.7" fill="#dcdcdc"/>
<circle cx="113.5" cy="8.6" r="1.8" fill="#b5b5b5"/>
<circle cx="48.6" cy="27.4" r="1.4" fill="#bdbdbd"/>
<circle cx="43.9" cy="44.2" r="1.6" fill="#dddddd"/>
<circle cx="3.3" cy="19.4" r="1.5" fill="#e8e8e8"/>
<circle cx="59.2" cy="8.5" r="1.5" fill="#bcbcbc"/>
<circle cx="67.7" cy="49.7" r="1.3" fill="#dbdbdb"/>
<circle cx="79" cy="36.4" r="1.7" fill="#adadad"/>
<circle cx="89" cy="34" r="1.3" fill="#b5b5b5"/>
<circle cx="88.3" cy="37.3" r="1.7" fill="#dfdfdf"/>
<circle cx="91" cy="1.5" r="1.3" fill="#e7e7e7"/>
<circle cx="91" cy="65.5" r="1.3" fill="#e7e7e7"/>
<circle cx="103.3" cy="11.9" r="1.6" fill="#e1e1e1"/>
<circle cx="41.6" cy="8.8" r="1.5" fill="#cecece"/>
<circle cx="94.9" cy="39" r="1.4" fill="#b9b9b9"/>
<circle cx="-2.3" cy="44.2" r="1.8" fill="#aaaaaa"/>
<circle cx="116.7" cy="44.2" r="1.8" fill="#aaaaaa"/>
<circle cx="60.8" cy="1.8" r="1.3" fill="#d3d3d3"/>
<circle cx="60.8" cy="65.8" r="1.3" fill="#d3d3d3"/>
<circle cx="2.3" cy="42.3" r="1.5" fill="#b0b0b0"/>
<circle cx="121.3" cy="42.3" r="1.5" fill="#b0b0b0"/>
<circle cx="11.8" cy="44.6" r="1.3" fill="#d2d2d2"/>
<circle cx="70.8" cy="34.2" r="1.5" fill="#cccccc"/>
<circle cx="3" cy="29.5" r="1.5" fill="#d4d4d4"/>
<circle cx="122" cy="29.5" r="1.5" fill="#d4d4d4"/>
<circle cx="114.2" cy="36.7" r="1.4" fill="#b3b3b3"/>
<circle cx="34" cy="32.3" r="1.4" fill="#bcbcbc"/>
<circle cx="60.7" cy="17.3" r="1.9" fill="#e8e8e8"/>
<circle cx="-1.6" cy="6.6" r="1.6" fill="#bcbcbc"/>
<circle cx="117.4" cy="6.6" r="1.6" fill="#bcbcbc"/>
<circle cx="101.9" cy="18.9" r="1.4" fill="#c1c1c1"/>
<circle cx="30.5" cy="57.8" r="1.4" fill="#d8d8d8"/>
<circle cx="33.3" cy="19.8" r="1.8" fill="#cbcbcb"/>
<circle cx="31.1" cy="1.6" r="1.4" fill="#dbdbdb"/>
<circle cx="31.1" cy="65.6" r="1.4" fill="#dbdbdb"/>
<circle cx="68.8" cy="29.4" r="1.9" fill="#b8b8b8"/>
<circle cx="58" cy="37.5" r="1.5" fill="#e1e1e1"/>
<circle cx="12" cy="3.4" r="1.5" fill="#b2b2b2"/>
<circle cx="70.5" cy="16.9" r="1.6" fill="#cccccc"/>
<circle cx="46" cy="51.7" r="1.6" fill="#adadad"/>
<circle cx="83" cy="60.1" r="1.5" fill="#cbcbcb"/>
<circle cx="57.5" cy="-1.7" r="1.9" fill="#dddddd"/>
<circle cx="57.5" cy="62.3" r="1.9" fill="#dddddd"/>
<circle cx="49" cy="5.7" r="1.6" fill="#d6d6d6"/>
<circle cx="28.9" cy="24.8" r="1.8" fill="#c8c8c8"/>
<circle cx="49.2" cy="1.5" r="1.5" fill="#e9e9e9"/>
<circle cx="49.2" cy="65.5" r="1.5" fill="#e9e9e9"/>
<circle cx="39" cy="40.2" r="1.9" fill="#d2d2d2"/>
<circle cx="53.9" cy="59.7" r="1.3" fill="#e2e2e2"/>
<circle cx="13" cy="-1.1" r="1.8" fill="#e1e1e1"/>
<circle cx="13" cy="62.9" r="1.8" fill="#e1e1e1"/>
<circle cx="102.2" cy="26.4" r="1.3" fill="#d3d3d3"/>
<circle cx="7.6" cy="-1.1" r="1.4" fill="#cecece"/>
<circle cx="7.6" cy="62.9" r="1.4" fill="#cecece"/>
<circle cx="99.7" cy="26.8" r="1.7" fill="#b9b9b9"/>
<circle cx="46.5" cy="11.9" r="1.8" fill="#cecece"/>
<circle cx="40.4" cy="16.9" r="1.7" fill="#d7d7d7"/>
<circle cx="100.5" cy="13.8" r="1.3" fill="#dedede"/>
<circle cx="113.8" cy="16.2" r="1.4" fill="#d8d8d8"/>
<circle cx="2.2" cy="6" r="1.9" fill="#bebebe"/>
<circle cx="121.2" cy="6" r="1.9" fill="#bebebe"/>
<circle cx="81.5" cy="17.3" r="1.5" fill="#acacac"/>
<circle cx="48.4" cy="11.4" r="1.6" fill="#dddddd"/>
<circle cx="10.5" cy="41.7" r="1.9" fill="#e5e5e5"/>
<circle cx="21.7" cy="24.8" r="1.7" fill="#c6c6c6"/>
<circle cx="90.9" cy="47.7" r="1.8" fill="#b1b1b1"/>
<circle cx="43.8" cy="15.9" r="1.5" fill="#c6c6c6"/>
<circle cx="-2.2" cy="50.3" r="1.3" fill="#b7b7b7"/>
<circle cx="116.8" cy="50.3" r="1.3" fill="#b7b7b7"/>
<circle cx="9.8" cy="27.4" r="1.3" fill="#b2b2b2"/>
<circle cx="11" cy="47.2" r="1.5" fill="#d1d1d1"/>
<circle cx="68.5" cy="60.2" r="1.6" fill="#dbdbdb"/>
<circle cx="48.6" cy="57.3" r="1.3" fill="#c3c3c3"/>
<circle cx="72.2" cy="9.7" r="1.7" fill="#c1c1c1"/>
<circle cx="30.2" cy="13.9" r="1.9" fill="#b1b1b1"/>
<circle cx="76" cy="41.7" r="1.9" fill="#b3b3b3"/>
<circle cx="51.2" cy="-1.8" r="1.4" fill="#e0e0e0"/>
<circle cx="51.2" cy="62.2" r="1.4" fill="#e0e0e0"/>
<circle cx="69.5" cy="48.1" r="1.8" fill="#adadad"/>
<circle cx="70" cy="53.1" r="1.3" fill="#e7e7e7"/>
<circle cx="57.9" cy="1.2" r="1.8" fill="#b1b1b1"/>
<circle cx="57.9" cy="65.2" r="1.8" fill="#b1b1b1"/>
<circle cx="70.6" cy="44.8" r="1.5" fill="#b3b3b3"/>
<circle cx="11.1" cy="29.9" r="1.6" fill="#e6e6e6"/>
<circle cx="35.1" cy="42.6" r="1.6" fill="#acacac"/>
<circle cx="91.6" cy="22.3" r="1.8" fill="#bababa"/>
<circle cx="40.9" cy="59.5" r="1.8" fill="#e4e4e4"/>
<circle cx="0.3" cy="34.1" r="1.7" fill="#c2c2c2"/>
<circle cx="119.3" cy="34.1" r="1.7" fill="#c2c2c2"/>
<circle cx="5.7" cy="39.9" r="1.4" fill="#dedede"/>
<circle cx="82.6" cy="57.6" r="1.5" fill="#bababa"/>
<circle cx="71.1" cy="14.5" r="1.8" fill="#e3e3e3"/>
<circle cx="114.4" cy="10.8" r="1.3" fill="#dddddd"/>
<circle cx="89.2" cy="19.6" r="1.7" fill="#e1e1e1"/>
<circle cx="92.9" cy="60.7" r="1.7" fill="#e1e1e1"/>
<circle cx="8" cy="21.5" r="1.6" fill="#e3e3e3"/>
<circle cx="57.2" cy="41.8" r="1.8" fill="#d7d7d7"/>
<circle cx="54.2" cy="45.2" r="1.5" fill="#e3e3e3"/>
<circle cx="97.5" cy="50.6" r="1.8" fill="#e6e6e6"/>
<circle cx="39.2" cy="50" r="1.5" fill="#c7c7c7"/>
<circle cx="89.3" cy="23.6" r="1.3" fill="#b6b6b6"/>
<circle cx="60.6" cy="6" r="1.5" fill="#dfdfdf"/>
<circle cx="74" cy="14.6" r="1.9" fill="#e2e2e2"/>
<circle cx="103.4" cy="3.4" r="1.5" fill="#e6e6e6"/>
<circle cx="9.7" cy="24.1" r="1.3" fill="#e7e7e7"/>
<circle cx="70.3" cy="42.4" r="1.8" fill="#b7b7b7"/>
<circle cx="77.3" cy="13.3" r="1.4" fill="#adadad"/>
<circle cx="55.5" cy="11.4" r="1.5" fill="#dcdcdc"/>
<circle cx="59.2" cy="44.3" r="1.8" fill="#acacac"/>
<circle cx="74.3" cy="4.5" r="1.7" fill="#e5e5e5"/>
<circle cx="37.3" cy="21.6" r="1.7" fill="#e6e6e6"/>
<circle cx="98.3" cy="4" r="1.3" fill="#b1b1b1"/>
<circle cx="83.9" cy="8.6" r="1.9" fill="#b5b5b5"/>
<circle cx="22.3" cy="22.3" r="1.8" fill="#b5b5b5"/>
<circle cx="87.9" cy="17.1" r="1.7" fill="#b1b1b1"/>
<circle cx="10.6" cy="31.7" r="1.6" fill="#d9d9d9"/>
<circle cx="79.7" cy="6.8" r="1.8" fill="#e5e5e5"/>
<circle cx="104.3" cy="18.5" r="1.6" fill="#d5d5d5"/>
</g></pattern>
<filter id="gravel" x="0" y="0" width="1" height="1">
<feTurbulence type="fractalNoise" baseFrequency="0.55" numOctaves="2" seed="4" result="n"/>
<feColorMatrix in="n" type="matrix" values="0 0 0 0 0  0 0 0 0 0  0 0 0 0 0  1.2 1.2 1.2 0 -1.4" result="a"/>
<feComponentTransfer in="a" result="b"><feFuncA type="discrete" tableValues="0 0 0 1 1"/></feComponentTransfer>
<feFlood flood-color="#f0f0f0"/>
<feComposite in2="b" operator="in" result="w"/>
<feFlood flood-color="#3a3a3a"/>
<feComposite in2="SourceGraphic" operator="in" result="d"/>
<feMerge><feMergeNode in="d"/><feMergeNode in="w"/></feMerge>
<feComposite in2="SourceGraphic" operator="in"/>
</filter>
<filter id="stip" x="0" y="0" width="1" height="1">
<feTurbulence type="fractalNoise" baseFrequency="0.9" numOctaves="1" seed="2"/>
<feColorMatrix type="matrix" values="0 0 0 0 0.9  0 0 0 0 0.9  0 0 0 0 0.9  -1.5 0 0 0 0.9"/>
<feComposite in2="SourceGraphic" operator="in"/>
</filter>
</defs>
<rect width="600" height="600" fill="#fff"/>

<!-- stipple ground below curve2 -->
<path d="M3.2,235.4 C5.7,237 13.1,242.3 18,245.4 C23,248.5 27.9,251.4 32.9,254.1 C37.8,256.8 42.8,259.3 47.7,261.7 C52.7,264 57.6,266.2 62.6,268.2 C67.5,270.2 72.5,272.1 77.4,273.8 C82.4,275.6 87.3,277.2 92.3,278.7 C97.2,280.2 102.2,281.6 107.1,282.9 C112.1,284.1 117,285.3 122,286.4 C126.9,287.5 131.9,288.5 136.8,289.4 C141.8,290.4 146.7,291.2 151.6,292 C156.6,292.8 161.5,293.5 166.5,294.1 C171.4,294.8 176.4,295.4 181.3,295.9 C186.3,296.5 191.2,296.9 196.2,297.4 C201.1,297.8 206.1,298.2 211,298.5 C216,298.9 220.9,299.2 225.9,299.4 C230.8,299.7 235.8,299.9 240.7,300.1 C245.7,300.2 250.6,300.4 255.6,300.5 C260.5,300.6 265.5,300.6 270.4,300.6 C275.4,300.6 280.3,300.6 285.3,300.6 C290.2,300.5 295.2,300.4 300.1,300.3 C305,300.2 310,300 314.9,299.8 C319.9,299.6 324.8,299.4 329.8,299.1 C334.7,298.8 339.7,298.5 344.6,298.1 C349.6,297.8 354.5,297.4 359.5,297 C364.4,296.5 369.4,296.1 374.3,295.6 C379.3,295.1 384.2,294.5 389.2,294 C394.1,293.4 399.1,292.8 404,292.1 C409,291.5 413.9,290.8 418.9,290.1 C423.8,289.4 428.8,288.6 433.7,287.9 C438.7,287.1 443.6,286.3 448.5,285.4 C453.5,284.6 458.4,283.7 463.4,282.9 C468.3,282 473.3,281.1 478.2,280.1 C483.2,279.2 488.1,278.3 493.1,277.3 C498,276.4 503,275.4 507.9,274.5 C512.9,273.5 517.8,272.5 522.8,271.6 C527.7,270.6 532.7,269.7 537.6,268.8 C542.6,267.8 547.5,266.9 552.5,266.1 C557.4,265.2 562.4,264.3 567.3,263.6 C572.3,262.8 577.2,262 582.2,261.4 C587.1,260.7 594.5,259.9 597,259.6 L600,259 L600,438 L4,438 Z" fill="#f9f9f9"/>

<!-- top grey region -->
<path d="M4,2.2 L568,2.6 L568,4.4 L489,15 L486,42 L474,53 L440,63 L416,79 L406,86 L413,107 L395,124 L372,128 L362,112 L352,104 L256,112 L242,128.5 L198,128 L172,114 L140,110 L100,97 L48,80 L22,56 L4,42 Z" fill="url(#gtop)"/>
<!-- shadows -->
<path d="M48,78 L100,91 L140,101 L172,108 L188,115 L198,124 L198,128 L172,114 L140,110 L100,97 L48,80 Z" fill="#c8c8c8" opacity="0.8"/>
<path d="M256,113 L352,101 L358,110 L262,114.5 Z" fill="#c6c6c6"/>

<!-- curve1 -->
<path d="M33,66 C35,67.9 40.5,73.5 45,77.3 C49.5,81.1 54.9,85.2 59.9,88.8 C64.8,92.4 69.8,95.6 74.7,98.7 C79.7,101.8 84.6,104.6 89.6,107.2 C94.5,109.8 99.5,112.2 104.5,114.4 C109.4,116.7 114.4,118.7 119.3,120.6 C124.3,122.5 129.2,124.2 134.2,125.8 C139.1,127.4 144.1,128.8 149.1,130.1 C154,131.4 159,132.6 163.9,133.7 C168.9,134.8 173.8,135.7 178.8,136.6 C183.7,137.5 188.7,138.2 193.6,138.9 C198.6,139.6 203.6,140.2 208.5,140.7 C213.5,141.2 218.4,141.6 223.4,142 C228.3,142.4 233.3,142.7 238.2,142.9 C243.2,143.2 248.2,143.3 253.1,143.4 C258.1,143.6 263,143.6 268,143.6 C272.9,143.6 277.9,143.6 282.8,143.5 C287.8,143.4 292.7,143.3 297.7,143.1 C302.7,142.9 307.6,142.6 312.6,142.4 C317.5,142.1 322.5,141.8 327.4,141.4 C332.4,141 337.3,140.6 342.3,140.2 C347.3,139.7 352.2,139.3 357.2,138.7 C362.1,138.2 367.1,137.7 372,137.1 C377,136.5 381.9,135.8 386.9,135.1 C391.8,134.5 396.8,133.8 401.8,133 C406.7,132.3 411.7,131.5 416.6,130.7 C421.6,129.9 426.5,129 431.5,128.1 C436.4,127.3 441.4,126.4 446.4,125.4 C451.3,124.5 456.3,123.5 461.2,122.5 C466.2,121.6 471.1,120.5 476.1,119.5 C481,118.5 486,117.4 490.9,116.4 C495.9,115.3 500.9,114.2 505.8,113.2 C510.8,112.1 515.7,111 520.7,109.9 C525.6,108.8 530.6,107.7 535.5,106.7 C540.5,105.6 545.5,104.5 550.4,103.5 C555.4,102.4 560.3,101.4 565.3,100.4 C570.2,99.4 575.2,98.5 580.1,97.6 C585.1,96.7 592.5,95.5 595,95.1" fill="none" stroke="#6a6a6a" stroke-width="1"/>

<!-- teardrops -->
<g fill="url(#gtear)">
<path d="M498.7,21.3 A4.4,4.4 0 1 1 507.5,20.9 C507.7,25.4 504.2,32.4 504.2,41.7 C503.2,32.5 498.9,25.9 498.7,21.3Z"/><path d="M515.4,22.5 A4.6,4.6 0 1 1 524.6,22.5 C524.6,26.2 520.6,31.7 520,39.2 C519.4,31.7 515.4,26.2 515.4,22.5Z"/><path d="M534.1,24.1 A4.4,4.4 0 1 1 542.9,24.7 C542.7,28 538.5,32.8 537.5,39.6 C537.4,32.7 533.9,27.5 534.1,24.1Z"/><path d="M551.1,20.7 A3.9,3.9 0 1 1 558.9,20.1 C559.2,24.1 556.3,30.3 556.5,38.5 C555.4,30.4 551.4,24.7 551.1,20.7Z"/><path d="M568.9,15.7 A3.4,3.4 0 1 1 575.7,15.9 C575.6,20.3 572.5,26.8 572,35.8 C571.7,26.8 568.8,20.1 568.9,15.7Z"/><path d="M585.4,11.6 A3.4,3.4 0 1 1 592.2,11.8 C592,16.5 588.8,23.4 588.1,33 C588,23.4 585.2,16.3 585.4,11.6Z"/>
</g>
<g fill="#b4b4b4">
<path d="M414.6,91 A2.8,2.8 0 1 1 416.6,85.8 C420.1,87.1 424.4,91.4 431.3,94.5 C424.1,92.1 418,92.4 414.6,91Z"/>
<path d="M419.3,102.8 A2.1,2.1 0 1 1 421.3,99.2 C423.4,100.3 425.8,103.7 430,106.3 C425.5,104.1 421.4,104 419.3,102.8Z"/>
</g>

<!-- trees -->
<path d="M4.2,45.3 L8.5,36.8 L14.2,28.3 L19.8,19.8 L28.3,15.6 L36.8,17 L45.3,12.7 L53.8,11.3 L62.3,15.6 L70.8,21.2 L79.3,24 L85,17 L86.4,7.1 L93.5,2.8 L107.6,2.3 L121.8,4.2 L136,5.7 L150,7.1 L158.6,11.3 L154.4,22.7 L155.8,34 L150,45.3 L147.3,56.7 L150,68 L148.7,79.3 L141.6,90.7 L130.3,96.3 L119,97.7 L107.6,94.9 L100.6,87.8 L98,78 L96.5,70 L85,69.5 L79,72 L73,75 L67,72.5 L62.7,76 L53,78 L46,75 L39.7,68 L28.3,60.9 L17,55.2 L8.5,51 Z" fill="#7e7f58"/>
<path d="M367,46.7 L370.5,30.3 L376.3,21 L385.7,16.3 L395,12.8 L404.3,16.3 L410.2,22.2 L412.5,30.3 L417.2,29.2 L420.7,18.7 L430,11.7 L439.3,10.5 L448.7,9.3 L458,8.2 L469.7,5.8 L483.7,5.1 L489.5,9.3 L487.2,18.7 L489.5,30.3 L486,42 L483.7,50.2 L474.3,53.7 L462.7,52.5 L455.7,56 L453.3,59.5 L446.3,57.2 L439.3,63 L432.3,70 L423,72.3 L416,79.3 L409,84 L399.7,85.2 L392.7,79.3 L388,70 L381,65.3 L374,60.7 L369.3,53.7 Z" fill="#7e7f58"/>
<g fill="#e4e6b8" stroke="#3c3d28" stroke-width="0.5">
<use href="#lf" transform="translate(146.2,79.7) rotate(236)"/>
<use href="#lf" transform="translate(112.1,15.5) rotate(4)"/>
<use href="#lf" transform="translate(129.8,48.5) rotate(351)"/>
<use href="#lf" transform="translate(123.7,58.4) rotate(274)"/>
<use href="#lf" transform="translate(88.4,26.8) rotate(273)"/>
<use href="#lf" transform="translate(51.8,27.6) rotate(284)"/>
<use href="#lf" transform="translate(145.4,56.7) rotate(279)"/>
<use href="#lf" transform="translate(20.9,44.9) rotate(170)"/>
<use href="#lf" transform="translate(139.2,25.7) rotate(9)"/>
<use href="#lf" transform="translate(110.6,48.2) rotate(111)"/>
<use href="#lf" transform="translate(140.6,83) rotate(313)"/>
<use href="#lf" transform="translate(79,62.5) rotate(33)"/>
<use href="#lf" transform="translate(55.7,72.4) rotate(209)"/>
<use href="#lf" transform="translate(98.5,17.6) rotate(63)"/>
<use href="#lf" transform="translate(64.7,52.6) rotate(44)"/>
<use href="#lf" transform="translate(123.6,20.8) rotate(295)"/>
<use href="#lf" transform="translate(57.2,40.7) rotate(126)"/>
<use href="#lf" transform="translate(60.2,49.2) rotate(202)"/>
<use href="#lf" transform="translate(122.5,66) rotate(94)"/>
<use href="#lf" transform="translate(145.5,10.6) rotate(311)"/>
<use href="#lf" transform="translate(106.2,92.5) rotate(273)"/>
<use href="#lf" transform="translate(116.5,79.6) rotate(185)"/>
<use href="#lf" transform="translate(127.1,93.5) rotate(69)"/>
<use href="#lf" transform="translate(93.5,22.4) rotate(354)"/>
<use href="#lf" transform="translate(128,27.2) rotate(343)"/>
<use href="#lf" transform="translate(49.7,18.7) rotate(209)"/>
<use href="#lf" transform="translate(96.4,9.4) rotate(250)"/>
<use href="#lf" transform="translate(32.8,59.4) rotate(123)"/>
<use href="#lf" transform="translate(94.8,34.5) rotate(128)"/>
<use href="#lf" transform="translate(119.9,88.6) rotate(50)"/>
<use href="#lf" transform="translate(128.9,37.3) rotate(347)"/>
<use href="#lf" transform="translate(129.1,94.8) rotate(285)"/>
<use href="#lf" transform="translate(38.7,54.5) rotate(66)"/>
<use href="#lf" transform="translate(114.8,7.4) rotate(116)"/>
<use href="#lf" transform="translate(13.6,47.3) rotate(320)"/>
<use href="#lf" transform="translate(65,26.7) rotate(268)"/>
<use href="#lf" transform="translate(67.9,60.7) rotate(291)"/>
<use href="#lf" transform="translate(88.1,57.6) rotate(349)"/>
<use href="#lf" transform="translate(22.9,50.4) rotate(166)"/>
<use href="#lf" transform="translate(119,36.9) rotate(141)"/>
<use href="#lf" transform="translate(45.1,59.3) rotate(218)"/>
<use href="#lf" transform="translate(139.7,35.7) rotate(170)"/>
<use href="#lf" transform="translate(77.3,63.7) rotate(120)"/>
<use href="#lf" transform="translate(71.5,34.4) rotate(116)"/>
<use href="#lf" transform="translate(152.3,16.2) rotate(278)"/>
<use href="#lf" transform="translate(11.6,32.8) rotate(139)"/>
<use href="#lf" transform="translate(134.7,26) rotate(189)"/>
<use href="#lf" transform="translate(137,89.3) rotate(242)"/>
<use href="#lf" transform="translate(147.1,26.5) rotate(285)"/>
<use href="#lf" transform="translate(64.5,71.1) rotate(215)"/>
<use href="#lf" transform="translate(99,5.2) rotate(299)"/>
<use href="#lf" transform="translate(78.5,34.5) rotate(90)"/>
<use href="#lf" transform="translate(111.1,58.6) rotate(119)"/>
<use href="#lf" transform="translate(103.3,55.1) rotate(69)"/>
<use href="#lf" transform="translate(110.8,38.5) rotate(180)"/>
<use href="#lf" transform="translate(120.3,43.8) rotate(290)"/>
<use href="#lf" transform="translate(147,62.6) rotate(239)"/>
<use href="#lf" transform="translate(88.9,12) rotate(76)"/>
<use href="#lf" transform="translate(21.2,39.2) rotate(138)"/>
<use href="#lf" transform="translate(105.2,20.3) rotate(122)"/>
<use href="#lf" transform="translate(28.1,42) rotate(58)"/>
<use href="#lf" transform="translate(71.1,23.4) rotate(218)"/>
<use href="#lf" transform="translate(135.1,36.3) rotate(218)"/>
<use href="#lf" transform="translate(101.7,70.7) rotate(174)"/>
<use href="#lf" transform="translate(53.8,52.5) rotate(208)"/>
<use href="#lf" transform="translate(42.4,22.2) rotate(231)"/>
<use href="#lf" transform="translate(154.2,12.4) rotate(312)"/>
<use href="#lf" transform="translate(53.8,75.4) rotate(219)"/>
<use href="#lf" transform="translate(154.5,19.9) rotate(267)"/>
<use href="#lf" transform="translate(43.3,63.5) rotate(351)"/>
<use href="#lf" transform="translate(55.2,20.3) rotate(294)"/>
<use href="#lf" transform="translate(40.4,65.4) rotate(181)"/>
<use href="#lf" transform="translate(84.8,46.7) rotate(349)"/>
<use href="#lf" transform="translate(118.3,52.5) rotate(13)"/>
<use href="#lf" transform="translate(49.9,61.3) rotate(249)"/>
<use href="#lf" transform="translate(144.9,28.4) rotate(133)"/>
<use href="#lf" transform="translate(107.5,47.3) rotate(217)"/>
<use href="#lf" transform="translate(51.8,37.7) rotate(83)"/>
<use href="#lf" transform="translate(68.3,20.1) rotate(267)"/>
<use href="#lf" transform="translate(91.8,15.3) rotate(142)"/>
<use href="#lf" transform="translate(113.1,47) rotate(219)"/>
<use href="#lf" transform="translate(109.7,73.6) rotate(54)"/>
<use href="#lf" transform="translate(156.7,14.2) rotate(152)"/>
<use href="#lf" transform="translate(113,70.4) rotate(32)"/>
<use href="#lf" transform="translate(128.3,10.6) rotate(120)"/>
<use href="#lf" transform="translate(157.5,11.3) rotate(182)"/>
<use href="#lf" transform="translate(105.7,18.7) rotate(328)"/>
<use href="#lf" transform="translate(74.7,31) rotate(180)"/>
<use href="#lf" transform="translate(48.5,33.2) rotate(137)"/>
<use href="#lf" transform="translate(78.4,53.4) rotate(53)"/>
<use href="#lf" transform="translate(118.2,78.8) rotate(290)"/>
<use href="#lf" transform="translate(81.6,69.1) rotate(309)"/>
<use href="#lf" transform="translate(83.4,59.3) rotate(328)"/>
<use href="#lf" transform="translate(147.5,50.4) rotate(173)"/>
<use href="#lf" transform="translate(111.7,42.7) rotate(7)"/>
<use href="#lf" transform="translate(42.2,17.8) rotate(206)"/>
<use href="#lf" transform="translate(94.8,16.7) rotate(318)"/>
<use href="#lf" transform="translate(151.2,27.4) rotate(263)"/>
<use href="#lf" transform="translate(73.9,40.5) rotate(223)"/>
<use href="#lf" transform="translate(113.7,30.6) rotate(30)"/>
<use href="#lf" transform="translate(62.7,39.7) rotate(301)"/>
<use href="#lf" transform="translate(23.4,37.6) rotate(317)"/>
<use href="#lf" transform="translate(26.9,23.3) rotate(106)"/>
<use href="#lf" transform="translate(30.5,43.5) rotate(80)"/>
<use href="#lf" transform="translate(120.3,84.6) rotate(3)"/>
<use href="#lf" transform="translate(143.1,17.2) rotate(38)"/>
<use href="#lf" transform="translate(140.7,59.7) rotate(343)"/>
<use href="#lf" transform="translate(93.8,56.2) rotate(29)"/>
<use href="#lf" transform="translate(131,90.9) rotate(70)"/>
<use href="#lf" transform="translate(99.2,3.1) rotate(237)"/>
<use href="#lf" transform="translate(112.8,91.9) rotate(139)"/>
<use href="#lf" transform="translate(60.4,43.3) rotate(174)"/>
<use href="#lf" transform="translate(77.4,54.1) rotate(212)"/>
<use href="#lf" transform="translate(68.9,44.9) rotate(298)"/>
<use href="#lf" transform="translate(57.3,55.5) rotate(57)"/>
<use href="#lf" transform="translate(113,78.2) rotate(281)"/>
<use href="#lf" transform="translate(68.6,53.2) rotate(233)"/>
<use href="#lf" transform="translate(117.5,25.5) rotate(99)"/>
<use href="#lf" transform="translate(72.7,63.8) rotate(102)"/>
<use href="#lf" transform="translate(78.6,24.3) rotate(287)"/>
<use href="#lf" transform="translate(59.8,24.9) rotate(352)"/>
<use href="#lf" transform="translate(118.7,75.6) rotate(96)"/>
<use href="#lf" transform="translate(34.3,31.4) rotate(101)"/>
<use href="#lf" transform="translate(34.3,35.9) rotate(120)"/>
<use href="#lf" transform="translate(124.1,47.8) rotate(135)"/>
<use href="#lf" transform="translate(46.7,46.4) rotate(290)"/>
<use href="#lf" transform="translate(17.3,46.2) rotate(47)"/>
<use href="#lf" transform="translate(115,89.2) rotate(206)"/>
<use href="#lf" transform="translate(113.9,41.7) rotate(37)"/>
<use href="#lf" transform="translate(120.9,73.9) rotate(61)"/>
<use href="#lf" transform="translate(104,32.7) rotate(149)"/>
<use href="#lf" transform="translate(133.1,24.2) rotate(6)"/>
<use href="#lf" transform="translate(70.2,65.8) rotate(261)"/>
<use href="#lf" transform="translate(147.7,29.1) rotate(185)"/>
<use href="#lf" transform="translate(127.9,89) rotate(225)"/>
<use href="#lf" transform="translate(33.7,20.2) rotate(341)"/>
<use href="#lf" transform="translate(111.2,31.7) rotate(100)"/>
<use href="#lf" transform="translate(133.2,80.1) rotate(213)"/>
<use href="#lf" transform="translate(119.8,54.2) rotate(199)"/>
<use href="#lf" transform="translate(105.6,45.2) rotate(84)"/>
<use href="#lf" transform="translate(124.4,5.1) rotate(226)"/>
<use href="#lf" transform="translate(60.4,28.7) rotate(234)"/>
<use href="#lf" transform="translate(132.5,95.1) rotate(254)"/>
<use href="#lf" transform="translate(25.3,53.4) rotate(168)"/>
<use href="#lf" transform="translate(88.4,33.6) rotate(316)"/>
<use href="#lf" transform="translate(113,38) rotate(243)"/>
<use href="#lf" transform="translate(16.4,40.7) rotate(352)"/>
<use href="#lf" transform="translate(50.4,22.2) rotate(162)"/>
<use href="#lf" transform="translate(119.2,33.1) rotate(201)"/>
<use href="#lf" transform="translate(69.6,37.3) rotate(353)"/>
<use href="#lf" transform="translate(118.9,40.3) rotate(63)"/>
<use href="#lf" transform="translate(57.1,43.3) rotate(331)"/>
<use href="#lf" transform="translate(45.1,69.2) rotate(154)"/>
<use href="#lf" transform="translate(138.3,67.8) rotate(179)"/>
<use href="#lf" transform="translate(119,27.4) rotate(262)"/>
<use href="#lf" transform="translate(109.5,68.2) rotate(233)"/>
<use href="#lf" transform="translate(147.1,40.3) rotate(207)"/>
<use href="#lf" transform="translate(100.5,51.4) rotate(342)"/>
<use href="#lf" transform="translate(147.6,36.5) rotate(57)"/>
<use href="#lf" transform="translate(20.9,20.7) rotate(311)"/>
<use href="#lf" transform="translate(20.1,54.3) rotate(108)"/>
<use href="#lf" transform="translate(127.8,84.7) rotate(96)"/>
<use href="#lf" transform="translate(123.2,9.7) rotate(50)"/>
<use href="#lf" transform="translate(92.7,31) rotate(92)"/>
<use href="#lf" transform="translate(32.4,62.7) rotate(200)"/>
<use href="#lf" transform="translate(45.2,51.4) rotate(257)"/>
<use href="#lf" transform="translate(15.4,36.7) rotate(31)"/>
<use href="#lf" transform="translate(139.2,73) rotate(317)"/>
<use href="#lf" transform="translate(64.1,31.9) rotate(202)"/>
<use href="#lf" transform="translate(126.3,51.6) rotate(146)"/>
<use href="#lf" transform="translate(47.4,65.4) rotate(20)"/>
<use href="#lf" transform="translate(101.8,22) rotate(329)"/>
<use href="#lf" transform="translate(122.6,53.6) rotate(250)"/>
<use href="#lf" transform="translate(149.7,42.4) rotate(175)"/>
<use href="#lf" transform="translate(128.9,86) rotate(31)"/>
<use href="#lf" transform="translate(134.9,60.5) rotate(286)"/>
<use href="#lf" transform="translate(94,7.5) rotate(115)"/>
<use href="#lf" transform="translate(129.8,51.3) rotate(355)"/>
<use href="#lf" transform="translate(41.3,60.7) rotate(320)"/>
<use href="#lf" transform="translate(98.3,24.2) rotate(86)"/>
<use href="#lf" transform="translate(93,39.9) rotate(254)"/>
<use href="#lf" transform="translate(48.5,12.5) rotate(165)"/>
<use href="#lf" transform="translate(58.7,67.9) rotate(172)"/>
<use href="#lf" transform="translate(149.1,21.8) rotate(287)"/>
<use href="#lf" transform="translate(14.6,43.5) rotate(270)"/>
<use href="#lf" transform="translate(95.5,28.5) rotate(122)"/>
<use href="#lf" transform="translate(130.3,84.3) rotate(26)"/>
<use href="#lf" transform="translate(60.9,55.8) rotate(50)"/>
<use href="#lf" transform="translate(132,35.9) rotate(91)"/>
<use href="#lf" transform="translate(89,17) rotate(260)"/>
<use href="#lf" transform="translate(51.8,70.1) rotate(82)"/>
<use href="#lf" transform="translate(23.9,43.9) rotate(169)"/>
<use href="#lf" transform="translate(136.2,82.4) rotate(129)"/>
<use href="#lf" transform="translate(62.2,57.5) rotate(80)"/>
<use href="#lf" transform="translate(97.5,34.7) rotate(48)"/>
<use href="#lf" transform="translate(62.5,67.8) rotate(40)"/>
<use href="#lf" transform="translate(35.7,61.4) rotate(355)"/>
<use href="#lf" transform="translate(84,49.8) rotate(292)"/>
<use href="#lf" transform="translate(61.2,37) rotate(19)"/>
<use href="#lf" transform="translate(76.7,39.6) rotate(190)"/>
<use href="#lf" transform="translate(54.1,47.2) rotate(356)"/>
<use href="#lf" transform="translate(32.5,56.1) rotate(10)"/>
<use href="#lf" transform="translate(145.6,16.7) rotate(261)"/>
<use href="#lf" transform="translate(67.6,41) rotate(76)"/>
<use href="#lf" transform="translate(98,51.8) rotate(50)"/>
<use href="#lf" transform="translate(83,28.4) rotate(118)"/>
<use href="#lf" transform="translate(135.1,76.2) rotate(322)"/>
<use href="#lf" transform="translate(131.5,14.7) rotate(261)"/>
<use href="#lf" transform="translate(50.5,33.5) rotate(71)"/>
<use href="#lf" transform="translate(94.2,14.4) rotate(17)"/>
<use href="#lf" transform="translate(125.4,39.6) rotate(289)"/>
<use href="#lf" transform="translate(80.1,58.7) rotate(147)"/>
<use href="#lf" transform="translate(75.7,48.4) rotate(160)"/>
<use href="#lf" transform="translate(48.3,23.6) rotate(209)"/>
<use href="#lf" transform="translate(138,21) rotate(202)"/>
<use href="#lf" transform="translate(16.8,49.5) rotate(49)"/>
<use href="#lf" transform="translate(32.3,45.6) rotate(8)"/>
<use href="#lf" transform="translate(26.7,39.9) rotate(111)"/>
<use href="#lf" transform="translate(51.9,63.1) rotate(355)"/>
<use href="#lf" transform="translate(139.4,85.8) rotate(114)"/>
<use href="#lf" transform="translate(93.8,62.7) rotate(63)"/>
<use href="#lf" transform="translate(147.2,71.4) rotate(246)"/>
<use href="#lf" transform="translate(43.8,26.3) rotate(284)"/>
<use href="#lf" transform="translate(133.4,58.2) rotate(352)"/>
<use href="#lf" transform="translate(133.6,90.7) rotate(90)"/>
<use href="#lf" transform="translate(76.2,33.6) rotate(158)"/>
<use href="#lf" transform="translate(62.7,42.1) rotate(284)"/>
<use href="#lf" transform="translate(134.3,9.5) rotate(269)"/>
<use href="#lf" transform="translate(111.3,19.4) rotate(282)"/>
<use href="#lf" transform="translate(26.8,46.7) rotate(161)"/>
<use href="#lf" transform="translate(128.9,17.2) rotate(212)"/>
<use href="#lf" transform="translate(119.6,16.2) rotate(154)"/>
<use href="#lf" transform="translate(143,30.2) rotate(79)"/>
<use href="#lf" transform="translate(79.2,40.5) rotate(275)"/>
<use href="#lf" transform="translate(119,22.4) rotate(161)"/>
<use href="#lf" transform="translate(25.4,28.6) rotate(250)"/>
<use href="#lf" transform="translate(129,21.3) rotate(287)"/>
<use href="#lf" transform="translate(55.6,30.2) rotate(233)"/>
<use href="#lf" transform="translate(120.7,69.8) rotate(133)"/>
<use href="#lf" transform="translate(117.4,19.4) rotate(317)"/>
<use href="#lf" transform="translate(138.8,6.2) rotate(78)"/>
<use href="#lf" transform="translate(120.7,58.4) rotate(146)"/>
<use href="#lf" transform="translate(138.4,55) rotate(195)"/>
<use href="#lf" transform="translate(105.2,26.1) rotate(196)"/>
<use href="#lf" transform="translate(106.4,59.4) rotate(278)"/>
<use href="#lf" transform="translate(13.9,35.5) rotate(28)"/>
<use href="#lf" transform="translate(143.7,58.1) rotate(55)"/>
<use href="#lf" transform="translate(49,42.1) rotate(287)"/>
<use href="#lf" transform="translate(126.2,31.9) rotate(242)"/>
<use href="#lf" transform="translate(112.7,17) rotate(89)"/>
<use href="#lf" transform="translate(121.3,19.1) rotate(185)"/>
<use href="#lf" transform="translate(75.1,53.6) rotate(344)"/>
<use href="#lf" transform="translate(50.1,58.3) rotate(189)"/>
<use href="#lf" transform="translate(32.7,28.5) rotate(307)"/>
<use href="#lf" transform="translate(116.2,52.4) rotate(140)"/>
<use href="#lf" transform="translate(143.8,68.2) rotate(109)"/>
<use href="#lf" transform="translate(101.6,44.8) rotate(252)"/>
<use href="#lf" transform="translate(145,78.4) rotate(25)"/>
<use href="#lf" transform="translate(69.4,28.5) rotate(148)"/>
<use href="#lf" transform="translate(62.5,46.8) rotate(322)"/>
<use href="#lf" transform="translate(91,23.3) rotate(236)"/>
<use href="#lf" transform="translate(31.7,49.7) rotate(296)"/>
<use href="#lf" transform="translate(153.9,19) rotate(342)"/>
<use href="#lf" transform="translate(62.1,52.4) rotate(27)"/>
<use href="#lf" transform="translate(86.6,21.8) rotate(64)"/>
<use href="#lf" transform="translate(110,61.8) rotate(12)"/>
<use href="#lf" transform="translate(145.5,9.2) rotate(218)"/>
<use href="#lf" transform="translate(142.4,40.5) rotate(260)"/>
<use href="#lf" transform="translate(134.1,47.2) rotate(243)"/>
<use href="#lf" transform="translate(140.2,28.1) rotate(338)"/>
<use href="#lf" transform="translate(39.4,50) rotate(160)"/>
<use href="#lf" transform="translate(120.3,31.1) rotate(106)"/>
<use href="#lf" transform="translate(48.4,73.1) rotate(167)"/>
<use href="#lf" transform="translate(106.1,90.3) rotate(175)"/>
<use href="#lf" transform="translate(140.1,11.2) rotate(109)"/>
<use href="#lf" transform="translate(136.8,47.9) rotate(221)"/>
<use href="#lf" transform="translate(135.3,12.8) rotate(201)"/>
<use href="#lf" transform="translate(90.1,21.9) rotate(331)"/>
<use href="#lf" transform="translate(37.1,42.4) rotate(166)"/>
<use href="#lf" transform="translate(126.2,92.4) rotate(232)"/>
<use href="#lf" transform="translate(88.1,46) rotate(45)"/>
<use href="#lf" transform="translate(76.4,71) rotate(8)"/>
<use href="#lf" transform="translate(45.7,47.9) rotate(7)"/>
<use href="#lf" transform="translate(114.5,22.9) rotate(61)"/>
<use href="#lf" transform="translate(86.5,7.3) rotate(108)"/>
<use href="#lf" transform="translate(121.4,93.4) rotate(59)"/>
<use href="#lf" transform="translate(37.5,45.4) rotate(202)"/>
<use href="#lf" transform="translate(96.8,24.2) rotate(290)"/>
<use href="#lf" transform="translate(39.2,32.9) rotate(142)"/>
<use href="#lf" transform="translate(46,23.8) rotate(285)"/>
<use href="#lf" transform="translate(117.3,68.9) rotate(62)"/>
<use href="#lf" transform="translate(108.1,82.4) rotate(344)"/>
<use href="#lf" transform="translate(66,34.6) rotate(77)"/>
<use href="#lf" transform="translate(146.8,14.1) rotate(352)"/>
<use href="#lf" transform="translate(101,14.1) rotate(176)"/>
<use href="#lf" transform="translate(132.1,49.9) rotate(95)"/>
<use href="#lf" transform="translate(109.7,93.3) rotate(81)"/>
<use href="#lf" transform="translate(73.4,37.5) rotate(170)"/>
<use href="#lf" transform="translate(141.7,89) rotate(213)"/>
<use href="#lf" transform="translate(33.3,35) rotate(9)"/>
<use href="#lf" transform="translate(30.8,34.8) rotate(262)"/>
<use href="#lf" transform="translate(109.1,28.2) rotate(209)"/>
<use href="#lf" transform="translate(84.4,44) rotate(33)"/>
<use href="#lf" transform="translate(79.1,46.8) rotate(30)"/>
<use href="#lf" transform="translate(26.6,36.7) rotate(115)"/>
<use href="#lf" transform="translate(59.1,53.5) rotate(168)"/>
<use href="#lf" transform="translate(55.9,33.6) rotate(51)"/>
<use href="#lf" transform="translate(20.5,42.6) rotate(75)"/>
<use href="#lf" transform="translate(102.1,40.3) rotate(297)"/>
<use href="#lf" transform="translate(98.5,35.6) rotate(38)"/>
<use href="#lf" transform="translate(79.1,67.4) rotate(1)"/>
<use href="#lf" transform="translate(15.9,26.1) rotate(71)"/>
<use href="#lf" transform="translate(115.1,50.5) rotate(330)"/>
<use href="#lf" transform="translate(62.1,16) rotate(207)"/>
<use href="#lf" transform="translate(86.5,29.4) rotate(3)"/>
<use href="#lf" transform="translate(47.5,59.5) rotate(70)"/>
<use href="#lf" transform="translate(117,77.4) rotate(233)"/>
<use href="#lf" transform="translate(57.7,19.9) rotate(94)"/>
<use href="#lf" transform="translate(126.1,8.2) rotate(4)"/>
<use href="#lf" transform="translate(135.7,69.1) rotate(194)"/>
<use href="#lf" transform="translate(96.3,62.1) rotate(108)"/>
<use href="#lf" transform="translate(111.3,3.5) rotate(176)"/>
<use href="#lf" transform="translate(34.9,55.5) rotate(88)"/>
<use href="#lf" transform="translate(60,74) rotate(251)"/>
<use href="#lf" transform="translate(39.8,59.2) rotate(277)"/>
<use href="#lf" transform="translate(70.1,69.3) rotate(142)"/>
<use href="#lf" transform="translate(95.5,3.7) rotate(242)"/>
<use href="#lf" transform="translate(38.1,17.9) rotate(27)"/>
<use href="#lf" transform="translate(124.7,10.8) rotate(116)"/>
<use href="#lf" transform="translate(141.8,14.7) rotate(359)"/>
<use href="#lf" transform="translate(152.9,25.3) rotate(332)"/>
<use href="#lf" transform="translate(67.3,30.1) rotate(48)"/>
<use href="#lf" transform="translate(121.9,68.5) rotate(67)"/>
<use href="#lf" transform="translate(21.6,24) rotate(57)"/>
<use href="#lf" transform="translate(131.5,56.3) rotate(265)"/>
<use href="#lf" transform="translate(143.9,34.1) rotate(51)"/>
<use href="#lf" transform="translate(108.5,90.2) rotate(222)"/>
<use href="#lf" transform="translate(115.4,11.6) rotate(54)"/>
<use href="#lf" transform="translate(130.6,72.2) rotate(216)"/>
<use href="#lf" transform="translate(69.7,30.3) rotate(219)"/>
<use href="#lf" transform="translate(123.8,89.3) rotate(62)"/>
<use href="#lf" transform="translate(130.3,59.7) rotate(298)"/>
<use href="#lf" transform="translate(99.6,74.1) rotate(283)"/>
<use href="#lf" transform="translate(121.9,71.2) rotate(347)"/>
<use href="#lf" transform="translate(12.6,46.3) rotate(154)"/>
<use href="#lf" transform="translate(31.8,18.3) rotate(176)"/>
<use href="#lf" transform="translate(140.9,8.3) rotate(195)"/>
<use href="#lf" transform="translate(137.1,27.4) rotate(77)"/>
<use href="#lf" transform="translate(91.3,5.2) rotate(58)"/>
<use href="#lf" transform="translate(81.8,43.5) rotate(301)"/>
<use href="#lf" transform="translate(136.7,43.6) rotate(314)"/>
<use href="#lf" transform="translate(143.4,36.7) rotate(82)"/>
<use href="#lf" transform="translate(118,87.9) rotate(124)"/>
<use href="#lf" transform="translate(62.7,66) rotate(259)"/>
<use href="#lf" transform="translate(109.9,16.2) rotate(180)"/>
<use href="#lf" transform="translate(64.4,54.8) rotate(72)"/>
<use href="#lf" transform="translate(131.4,78.3) rotate(114)"/>
<use href="#lf" transform="translate(135.6,75.5) rotate(322)"/>
<use href="#lf" transform="translate(30.8,52.1) rotate(311)"/>
<use href="#lf" transform="translate(135.6,81.1) rotate(129)"/>
<use href="#lf" transform="translate(147.3,68.4) rotate(100)"/>
<use href="#lf" transform="translate(30.9,36) rotate(185)"/>
<use href="#lf" transform="translate(110.2,37.9) rotate(286)"/>
<use href="#lf" transform="translate(37.1,62.7) rotate(123)"/>
<use href="#lf" transform="translate(147.1,57.3) rotate(79)"/>
<use href="#lf" transform="translate(49.9,38.9) rotate(123)"/>
<use href="#lf" transform="translate(101.9,27.9) rotate(127)"/>
<use href="#lf" transform="translate(114.5,38.7) rotate(38)"/>
<use href="#lf" transform="translate(123.4,77.4) rotate(39)"/>
<use href="#lf" transform="translate(43.2,54.4) rotate(306)"/>
<use href="#lf" transform="translate(89.5,32.3) rotate(159)"/>
<use href="#lf" transform="translate(22.8,25.9) rotate(306)"/>
<use href="#lf" transform="translate(53.7,54.2) rotate(130)"/>
<use href="#lf" transform="translate(124.8,43.2) rotate(232)"/>
<use href="#lf" transform="translate(130.4,39.4) rotate(195)"/>
<use href="#lf" transform="translate(107.7,57.7) rotate(49)"/>
<use href="#lf" transform="translate(46.8,71.4) rotate(237)"/>
<use href="#lf" transform="translate(33.8,52.1) rotate(268)"/>
<use href="#lf" transform="translate(135.2,6) rotate(262)"/>
<use href="#lf" transform="translate(77.8,50.5) rotate(125)"/>
<use href="#lf" transform="translate(78.2,42) rotate(46)"/>
<use href="#lf" transform="translate(107.9,49.3) rotate(148)"/>
<use href="#lf" transform="translate(134.1,72.2) rotate(344)"/>
<use href="#lf" transform="translate(118,42) rotate(293)"/>
<use href="#lf" transform="translate(91.2,39.8) rotate(217)"/>
<use href="#lf" transform="translate(57.5,15.9) rotate(13)"/>
<use href="#lf" transform="translate(67.6,54.7) rotate(199)"/>
<use href="#lf" transform="translate(115.2,22.3) rotate(53)"/>
<use href="#lf" transform="translate(55.8,14.3) rotate(55)"/>
<use href="#lf" transform="translate(60.7,61.9) rotate(38)"/>
<use href="#lf" transform="translate(137.3,70) rotate(333)"/>
<use href="#lf" transform="translate(147.1,24.5) rotate(24)"/>
<use href="#lf" transform="translate(10.7,51.7) rotate(22)"/>
<use href="#lf" transform="translate(134.4,33.6) rotate(212)"/>
<use href="#lf" transform="translate(71.7,61.5) rotate(184)"/>
<use href="#lf" transform="translate(144.7,15.6) rotate(272)"/>
<use href="#lf" transform="translate(91.7,48.3) rotate(159)"/>
<use href="#lf" transform="translate(124.1,67.6) rotate(182)"/>
<use href="#lf" transform="translate(41.5,67.3) rotate(276)"/>
<use href="#lf" transform="translate(72.2,27.4) rotate(350)"/>
<use href="#lf" transform="translate(13.8,48.6) rotate(205)"/>
<use href="#lf" transform="translate(126.7,96.7) rotate(16)"/>
<use href="#lf" transform="translate(80.2,61.1) rotate(130)"/>
<use href="#lf" transform="translate(152.6,37.8) rotate(331)"/>
<use href="#lf" transform="translate(132.5,52.7) rotate(95)"/>
<use href="#lf" transform="translate(87.4,13.7) rotate(204)"/>
<use href="#lf" transform="translate(113.7,61.6) rotate(268)"/>
<use href="#lf" transform="translate(154.7,27.4) rotate(99)"/>
<use href="#lf" transform="translate(99.2,27.1) rotate(171)"/>
<use href="#lf" transform="translate(83,64.3) rotate(293)"/>
<use href="#lf" transform="translate(118.5,56.1) rotate(137)"/>
<use href="#lf" transform="translate(19.3,26.2) rotate(261)"/>
<use href="#lf" transform="translate(101.3,84.4) rotate(300)"/>
<use href="#lf" transform="translate(130.6,65) rotate(224)"/>
<use href="#lf" transform="translate(132.6,15.1) rotate(21)"/>
<use href="#lf" transform="translate(82,31.3) rotate(182)"/>
<use href="#lf" transform="translate(74.9,27.3) rotate(53)"/>
<use href="#lf" transform="translate(36.8,63.5) rotate(298)"/>
<use href="#lf" transform="translate(142.8,12.2) rotate(231)"/>
<use href="#lf" transform="translate(155,31.9) rotate(166)"/>
<use href="#lf" transform="translate(98.5,68.8) rotate(124)"/>
<use href="#lf" transform="translate(20.4,31.8) rotate(268)"/>
<use href="#lf" transform="translate(51.9,52.9) rotate(101)"/>
<use href="#lf" transform="translate(121.7,14.7) rotate(125)"/>
<use href="#lf" transform="translate(138.1,34.9) rotate(178)"/>
<use href="#lf" transform="translate(121.9,85.1) rotate(132)"/>
<use href="#lf" transform="translate(127.8,34.8) rotate(81)"/>
<use href="#lf" transform="translate(140.1,19.4) rotate(103)"/>
<use href="#lf" transform="translate(19.2,37.1) rotate(112)"/>
<use href="#lf" transform="translate(73.7,59) rotate(186)"/>
<use href="#lf" transform="translate(108,37.1) rotate(289)"/>
<use href="#lf" transform="translate(73.7,53.3) rotate(332)"/>
<use href="#lf" transform="translate(142.4,72.6) rotate(172)"/>
<use href="#lf" transform="translate(9.3,50.4) rotate(174)"/>
<use href="#lf" transform="translate(26.3,19.2) rotate(159)"/>
<use href="#lf" transform="translate(64.7,60) rotate(59)"/>
<use href="#lf" transform="translate(14,53.1) rotate(195)"/>
<use href="#lf" transform="translate(112.8,66.8) rotate(57)"/>
<use href="#lf" transform="translate(71.8,46) rotate(220)"/>
<use href="#lf" transform="translate(124,80.6) rotate(236)"/>
<use href="#lf" transform="translate(145.6,20) rotate(49)"/>
<use href="#lf" transform="translate(147.1,42.4) rotate(98)"/>
<use href="#lf" transform="translate(116.5,48.4) rotate(339)"/>
<use href="#lf" transform="translate(53.9,50.1) rotate(267)"/>
<use href="#lf" transform="translate(25.2,54.7) rotate(44)"/>
<use href="#lf" transform="translate(55,36.1) rotate(129)"/>
<use href="#lf" transform="translate(82.7,51.4) rotate(59)"/>
<use href="#lf" transform="translate(35.7,27.2) rotate(225)"/>
<use href="#lf" transform="translate(147.3,32.6) rotate(235)"/>
<use href="#lf" transform="translate(125.8,25.5) rotate(60)"/>
<use href="#lf" transform="translate(107.8,61.5) rotate(302)"/>
<use href="#lf" transform="translate(143.4,43.7) rotate(300)"/>
<use href="#lf" transform="translate(93.2,60) rotate(133)"/>
<use href="#lf" transform="translate(73.2,25.1) rotate(15)"/>
<use href="#lf" transform="translate(84.2,38.7) rotate(83)"/>
<use href="#lf" transform="translate(98.2,65.4) rotate(220)"/>
<use href="#lf" transform="translate(101.2,8.5) rotate(287)"/>
<use href="#lf" transform="translate(109.8,9.5) rotate(55)"/>
<use href="#lf" transform="translate(95,64.3) rotate(2)"/>
<use href="#lf" transform="translate(116.5,71.9) rotate(199)"/>
<use href="#lf" transform="translate(123.9,55.8) rotate(89)"/>
<use href="#lf" transform="translate(98.1,46.2) rotate(275)"/>
<use href="#lf" transform="translate(41.8,44.2) rotate(253)"/>
<use href="#lf" transform="translate(25.3,33.5) rotate(246)"/>
<use href="#lf" transform="translate(113.1,52.1) rotate(49)"/>
<use href="#lf" transform="translate(99.9,11.8) rotate(50)"/>
<use href="#lf" transform="translate(121.9,37.1) rotate(213)"/>
<use href="#lf" transform="translate(103.8,5.6) rotate(78)"/>
<use href="#lf" transform="translate(67.3,24.7) rotate(337)"/>
<use href="#lf" transform="translate(117,31.9) rotate(35)"/>
<use href="#lf" transform="translate(113.4,87.7) rotate(86)"/>
<use href="#lf" transform="translate(17.8,30.8) rotate(329)"/>
<use href="#lf" transform="translate(49.6,68.8) rotate(19)"/>
<use href="#lf" transform="translate(97.6,21.4) rotate(301)"/>
<use href="#lf" transform="translate(118.7,4.7) rotate(129)"/>
<use href="#lf" transform="translate(55.5,73.6) rotate(197)"/>
<use href="#lf" transform="translate(122.2,81.4) rotate(161)"/>
<use href="#lf" transform="translate(142.1,24.9) rotate(60)"/>
<use href="#lf" transform="translate(92.9,51.9) rotate(47)"/>
<use href="#lf" transform="translate(22.1,32.3) rotate(262)"/>
<use href="#lf" transform="translate(104.9,9.1) rotate(188)"/>
<use href="#lf" transform="translate(112.7,5.8) rotate(65)"/>
<use href="#lf" transform="translate(39.5,26.8) rotate(207)"/>
<use href="#lf" transform="translate(141.7,45) rotate(189)"/>
<use href="#lf" transform="translate(136.4,86.8) rotate(88)"/>
<use href="#lf" transform="translate(110,23.4) rotate(121)"/>
<use href="#lf" transform="translate(34.3,24.9) rotate(127)"/>
<use href="#lf" transform="translate(119.8,95.9) rotate(37)"/>
<use href="#lf" transform="translate(46.7,52.5) rotate(349)"/>
<use href="#lf" transform="translate(149.4,25.4) rotate(237)"/>
<use href="#lf" transform="translate(63.2,60.9) rotate(152)"/>
<use href="#lf" transform="translate(133.1,38.9) rotate(224)"/>
<use href="#lf" transform="translate(62,34) rotate(51)"/>
<use href="#lf" transform="translate(136.1,9.2) rotate(79)"/>
<use href="#lf" transform="translate(29.2,41) rotate(21)"/>
<use href="#lf" transform="translate(63.8,25.2) rotate(337)"/>
<use href="#lf" transform="translate(56.9,66.1) rotate(297)"/>
<use href="#lf" transform="translate(136.5,18.5) rotate(133)"/>
<use href="#lf" transform="translate(134.6,24.3) rotate(135)"/>
<use href="#lf" transform="translate(18.2,34.1) rotate(241)"/>
<use href="#lf" transform="translate(138.8,46.3) rotate(193)"/>
<use href="#lf" transform="translate(149.4,9.3) rotate(124)"/>
<use href="#lf" transform="translate(34,39.3) rotate(24)"/>
<use href="#lf" transform="translate(75.5,44.4) rotate(215)"/>
<use href="#lf" transform="translate(138.7,30) rotate(355)"/>
<use href="#lf" transform="translate(99.4,44.1) rotate(200)"/>
<use href="#lf" transform="translate(129.7,80.5) rotate(199)"/>
<use href="#lf" transform="translate(143.1,85.6) rotate(314)"/>
<use href="#lf" transform="translate(90.3,8.7) rotate(53)"/>
<use href="#lf" transform="translate(134.2,55.5) rotate(94)"/>
<use href="#lf" transform="translate(131.7,87.7) rotate(164)"/>
<use href="#lf" transform="translate(101.7,57.4) rotate(272)"/>
<use href="#lf" transform="translate(103.9,87.6) rotate(235)"/>
<use href="#lf" transform="translate(122.1,26.6) rotate(170)"/>
<use href="#lf" transform="translate(130.1,28.5) rotate(126)"/>
<use href="#lf" transform="translate(64.6,64.7) rotate(125)"/>
<use href="#lf" transform="translate(138.3,76.8) rotate(32)"/>
<use href="#lf" transform="translate(85.7,66.1) rotate(205)"/>
<use href="#lf" transform="translate(129.4,30.3) rotate(87)"/>
<use href="#lf" transform="translate(138.6,53) rotate(308)"/>
<use href="#lf" transform="translate(50.5,47.5) rotate(138)"/>
<use href="#lf" transform="translate(93.2,11) rotate(298)"/>
<use href="#lf" transform="translate(137.7,58.7) rotate(30)"/>
<use href="#lf" transform="translate(28,56.5) rotate(292)"/>
<use href="#lf" transform="translate(93.7,44) rotate(255)"/>
<use href="#lf" transform="translate(53.3,58.2) rotate(192)"/>
<use href="#lf" transform="translate(142.6,55) rotate(319)"/>
<use href="#lf" transform="translate(42.6,45.9) rotate(80)"/>
<use href="#lf" transform="translate(87.9,43.4) rotate(68)"/>
<use href="#lf" transform="translate(122,97) rotate(163)"/>
<use href="#lf" transform="translate(147.6,64.3) rotate(4)"/>
<use href="#lf" transform="translate(46.3,60.9) rotate(346)"/>
<use href="#lf" transform="translate(115.6,45.1) rotate(171)"/>
<use href="#lf" transform="translate(89.6,56.8) rotate(91)"/>
<use href="#lf" transform="translate(106.3,41.8) rotate(279)"/>
<use href="#lf" transform="translate(103.7,85.1) rotate(271)"/>
<use href="#lf" transform="translate(138,80.9) rotate(335)"/>
<use href="#lf" transform="translate(111,22) rotate(268)"/>
<use href="#lf" transform="translate(53.5,64.8) rotate(39)"/>
<use href="#lf" transform="translate(48.1,54.8) rotate(264)"/>
<use href="#lf" transform="translate(52,15.4) rotate(169)"/>
<use href="#lf" transform="translate(14.4,30.5) rotate(345)"/>
<use href="#lf" transform="translate(81.1,48.8) rotate(71)"/>
<use href="#lf" transform="translate(46.8,40.6) rotate(199)"/>
<use href="#lf" transform="translate(68.8,58.7) rotate(336)"/>
<use href="#lf" transform="translate(84.8,32.2) rotate(20)"/>
<use href="#lf" transform="translate(131.3,67.1) rotate(32)"/>
<use href="#lf" transform="translate(75.5,56.5) rotate(51)"/>
<use href="#lf" transform="translate(103.7,76) rotate(351)"/>
<use href="#lf" transform="translate(8.6,42) rotate(121)"/>
<use href="#lf" transform="translate(115.6,84.1) rotate(105)"/>
<use href="#lf" transform="translate(48.1,49.8) rotate(154)"/>
<use href="#lf" transform="translate(138.8,62.8) rotate(265)"/>
<use href="#lf" transform="translate(101.7,63.8) rotate(40)"/>
<use href="#lf" transform="translate(110,88.2) rotate(65)"/>
<use href="#lf" transform="translate(87.7,23.2) rotate(336)"/>
<use href="#lf" transform="translate(151.2,18.2) rotate(143)"/>
<use href="#lf" transform="translate(128.8,33.2) rotate(344)"/>
<use href="#lf" transform="translate(106.9,68.9) rotate(196)"/>
<use href="#lf" transform="translate(78.5,64.3) rotate(132)"/>
<use href="#lf" transform="translate(145.9,63.9) rotate(166)"/>
<use href="#lf" transform="translate(100.9,29.1) rotate(34)"/>
<use href="#lf" transform="translate(59.7,31.1) rotate(197)"/>
<use href="#lf" transform="translate(89.5,60.7) rotate(303)"/>
<use href="#lf" transform="translate(120,49.9) rotate(150)"/>
<use href="#lf" transform="translate(97,48.4) rotate(199)"/>
<use href="#lf" transform="translate(91.6,26.7) rotate(69)"/>
<use href="#lf" transform="translate(91,37.2) rotate(38)"/>
<use href="#lf" transform="translate(141.3,21.8) rotate(272)"/>
<use href="#lf" transform="translate(115.4,14.6) rotate(8)"/>
<use href="#lf" transform="translate(52.6,43.3) rotate(40)"/>
<use href="#lf" transform="translate(27,22) rotate(64)"/>
<use href="#lf" transform="translate(82.2,54.5) rotate(33)"/>
<use href="#lf" transform="translate(105.7,87.2) rotate(141)"/>
<use href="#lf" transform="translate(30,30.6) rotate(75)"/>
<use href="#lf" transform="translate(139.7,34.2) rotate(25)"/>
<use href="#lf" transform="translate(105.4,2.4) rotate(324)"/>
<use href="#lf" transform="translate(126.1,58.9) rotate(69)"/>
<use href="#lf" transform="translate(135.4,30.1) rotate(168)"/>
<use href="#lf" transform="translate(112.6,82.9) rotate(316)"/>
<use href="#lf" transform="translate(55.2,12.6) rotate(74)"/>
<use href="#lf" transform="translate(144,46.8) rotate(353)"/>
<use href="#lf" transform="translate(58.2,72.3) rotate(182)"/>
<use href="#lf" transform="translate(47.9,20.8) rotate(154)"/>
<use href="#lf" transform="translate(134.2,83.2) rotate(160)"/>
<use href="#lf" transform="translate(111.7,79.6) rotate(110)"/>
<use href="#lf" transform="translate(58.5,59.2) rotate(119)"/>
<use href="#lf" transform="translate(76.9,35.7) rotate(109)"/>
<use href="#lf" transform="translate(47,41.8) rotate(142)"/>
<use href="#lf" transform="translate(119.9,87.7) rotate(100)"/>
<use href="#lf" transform="translate(121.5,61.1) rotate(297)"/>
<use href="#lf" transform="translate(33.7,19.1) rotate(71)"/>
<use href="#lf" transform="translate(125.8,72.6) rotate(345)"/>
<use href="#lf" transform="translate(55.9,39.4) rotate(159)"/>
<use href="#lf" transform="translate(125.6,77.1) rotate(190)"/>
<use href="#lf" transform="translate(35.6,32.8) rotate(219)"/>
<use href="#lf" transform="translate(104.2,17.4) rotate(206)"/>
<use href="#lf" transform="translate(94.8,67.2) rotate(148)"/>
<use href="#lf" transform="translate(46.4,16.2) rotate(266)"/>
<use href="#lf" transform="translate(70.5,43.4) rotate(216)"/>
<use href="#lf" transform="translate(39.6,31.5) rotate(161)"/>
<use href="#lf" transform="translate(103.1,75.7) rotate(279)"/>
<use href="#lf" transform="translate(43.2,71.8) rotate(81)"/>
<use href="#lf" transform="translate(108.9,51.1) rotate(41)"/>
<use href="#lf" transform="translate(62.2,20.9) rotate(55)"/>
<use href="#lf" transform="translate(125.9,87) rotate(96)"/>
<use href="#lf" transform="translate(23.6,31.9) rotate(165)"/>
<use href="#lf" transform="translate(117.1,27.8) rotate(136)"/>
<use href="#lf" transform="translate(28.7,21.1) rotate(177)"/>
<use href="#lf" transform="translate(118.2,65.3) rotate(100)"/>
<use href="#lf" transform="translate(64.9,21.7) rotate(316)"/>
<use href="#lf" transform="translate(40.9,52.8) rotate(144)"/>
<use href="#lf" transform="translate(73.5,22.2) rotate(284)"/>
<use href="#lf" transform="translate(80.9,28.6) rotate(289)"/>
<use href="#lf" transform="translate(60.3,17.6) rotate(111)"/>
<use href="#lf" transform="translate(51.4,24.6) rotate(298)"/>
<use href="#lf" transform="translate(105.4,15.3) rotate(333)"/>
<use href="#lf" transform="translate(127.7,25.5) rotate(349)"/>
<use href="#lf" transform="translate(67.2,41.8) rotate(83)"/>
<use href="#lf" transform="translate(90,37.3) rotate(283)"/>
<use href="#lf" transform="translate(133.2,20.8) rotate(110)"/>
<use href="#lf" transform="translate(100.7,50.6) rotate(191)"/>
<use href="#lf" transform="translate(122.6,33.9) rotate(252)"/>
<use href="#lf" transform="translate(91,51.3) rotate(266)"/>
<use href="#lf" transform="translate(123.6,75.6) rotate(268)"/>
<use href="#lf" transform="translate(134,65) rotate(332)"/>
<use href="#lf" transform="translate(10.9,37.6) rotate(312)"/>
<use href="#lf" transform="translate(73.3,68) rotate(160)"/>
<use href="#lf" transform="translate(88.7,68.6) rotate(109)"/>
<use href="#lf" transform="translate(96.8,14.7) rotate(113)"/>
<use href="#lf" transform="translate(103.6,50.5) rotate(234)"/>
<use href="#lf" transform="translate(43.9,40.1) rotate(160)"/>
<use href="#lf" transform="translate(99,70) rotate(160)"/>
<use href="#lf" transform="translate(30.5,26.1) rotate(337)"/>
<use href="#lf" transform="translate(21.6,52.6) rotate(151)"/>
<use href="#lf" transform="translate(73.8,62.6) rotate(250)"/>
<use href="#lf" transform="translate(100.6,77.4) rotate(127)"/>
<use href="#lf" transform="translate(130,9.8) rotate(146)"/>
<use href="#lf" transform="translate(68.9,72.2) rotate(180)"/>
<use href="#lf" transform="translate(106.2,24.2) rotate(332)"/>
<use href="#lf" transform="translate(55.4,48.8) rotate(63)"/>
<use href="#lf" transform="translate(127.2,19.7) rotate(63)"/>
<use href="#lf" transform="translate(40.7,39.1) rotate(15)"/>
<use href="#lf" transform="translate(82.8,23.3) rotate(336)"/>
<use href="#lf" transform="translate(91.7,69.5) rotate(132)"/>
<use href="#lf" transform="translate(131.5,61.4) rotate(59)"/>
<use href="#lf" transform="translate(97,58.1) rotate(234)"/>
<use href="#lf" transform="translate(14.2,33.3) rotate(98)"/>
<use href="#lf" transform="translate(56.2,63.1) rotate(163)"/>
<use href="#lf" transform="translate(105.3,64.5) rotate(245)"/>
<use href="#lf" transform="translate(28.8,48.7) rotate(218)"/>
<use href="#lf" transform="translate(115.6,34.5) rotate(229)"/>
<use href="#lf" transform="translate(112.6,28.5) rotate(106)"/>
<use href="#lf" transform="translate(108,55) rotate(240)"/>
<use href="#lf" transform="translate(46.4,28.7) rotate(306)"/>
<use href="#lf" transform="translate(52.3,67.7) rotate(132)"/>
<use href="#lf" transform="translate(99.1,40.7) rotate(3)"/>
<use href="#lf" transform="translate(151,10.7) rotate(105)"/>
<use href="#lf" transform="translate(41.7,29.3) rotate(272)"/>
<use href="#lf" transform="translate(37.6,41.3) rotate(64)"/>
<use href="#lf" transform="translate(131.8,75.8) rotate(196)"/>
<use href="#lf" transform="translate(98.6,55) rotate(147)"/>
<use href="#lf" transform="translate(131.5,42.7) rotate(116)"/>
<use href="#lf" transform="translate(151,19.9) rotate(162)"/>
<use href="#lf" transform="translate(104.1,40) rotate(298)"/>
<use href="#lf" transform="translate(42,24.9) rotate(40)"/>
<use href="#lf" transform="translate(38,51.8) rotate(181)"/>
<use href="#lf" transform="translate(58.5,27.7) rotate(304)"/>
<use href="#lf" transform="translate(118.1,62.2) rotate(189)"/>
<use href="#lf" transform="translate(76.6,29.6) rotate(317)"/>
<use href="#lf" transform="translate(53.6,26.3) rotate(7)"/>
<use href="#lf" transform="translate(96.7,42.4) rotate(51)"/>
<use href="#lf" transform="translate(86.3,16.6) rotate(227)"/>
<use href="#lf" transform="translate(43.2,33.7) rotate(75)"/>
<use href="#lf" transform="translate(144,72.6) rotate(204)"/>
<use href="#lf" transform="translate(34.8,43.1) rotate(94)"/>
<use href="#lf" transform="translate(91.3,18.1) rotate(83)"/>
<use href="#lf" transform="translate(66.3,37.7) rotate(76)"/>
<use href="#lf" transform="translate(142.5,74.8) rotate(10)"/>
<use href="#lf" transform="translate(113.3,82) rotate(193)"/>
<use href="#lf" transform="translate(143.1,50.2) rotate(166)"/>
<use href="#lf" transform="translate(137.7,15.3) rotate(99)"/>
<use href="#lf" transform="translate(85.9,38.6) rotate(3)"/>
<use href="#lf" transform="translate(141,65.2) rotate(333)"/>
<use href="#lf" transform="translate(129.7,55.8) rotate(332)"/>
<use href="#lf" transform="translate(133.3,31.5) rotate(172)"/>
<use href="#lf" transform="translate(111.1,6.4) rotate(279)"/>
<use href="#lf" transform="translate(89.5,30.3) rotate(226)"/>
<use href="#lf" transform="translate(53.5,31.1) rotate(192)"/>
<use href="#lf" transform="translate(110.7,10.7) rotate(207)"/>
<use href="#lf" transform="translate(29.7,45.2) rotate(99)"/>
<use href="#lf" transform="translate(108.1,33.1) rotate(62)"/>
<use href="#lf" transform="translate(65.9,45.4) rotate(80)"/>
<use href="#lf" transform="translate(101.9,79.7) rotate(160)"/>
<use href="#lf" transform="translate(27.9,31.8) rotate(174)"/>
<use href="#lf" transform="translate(111,56.7) rotate(77)"/>
<use href="#lf" transform="translate(114.8,56.6) rotate(327)"/>
<use href="#lf" transform="translate(128.7,62.6) rotate(184)"/>
<use href="#lf" transform="translate(108.4,21.3) rotate(150)"/>
<use href="#lf" transform="translate(80.7,38.1) rotate(270)"/>
<use href="#lf" transform="translate(106.1,73.6) rotate(85)"/>
<use href="#lf" transform="translate(95.7,30.8) rotate(347)"/>
<use href="#lf" transform="translate(126.1,15.7) rotate(264)"/>
<use href="#lf" transform="translate(116.3,94) rotate(146)"/>
<use href="#lf" transform="translate(102.7,61.4) rotate(74)"/>
<use href="#lf" transform="translate(37.1,57.5) rotate(272)"/>
<use href="#lf" transform="translate(46.8,56.9) rotate(55)"/>
<use href="#lf" transform="translate(150.7,35.7) rotate(3)"/>
<use href="#lf" transform="translate(65.4,38.5) rotate(2)"/>
<use href="#lf" transform="translate(122.3,10.7) rotate(12)"/>
<use href="#lf" transform="translate(131.6,94.5) rotate(35)"/>
<use href="#lf" transform="translate(112.9,8.1) rotate(315)"/>
<use href="#lf" transform="translate(125.4,37.3) rotate(92)"/>
<use href="#lf" transform="translate(131.5,45.2) rotate(303)"/>
<use href="#lf" transform="translate(128.2,68.8) rotate(133)"/>
<use href="#lf" transform="translate(71,54.3) rotate(49)"/>
<use href="#lf" transform="translate(86.2,12.8) rotate(48)"/>
<use href="#lf" transform="translate(142.4,80.8) rotate(329)"/>
<use href="#lf" transform="translate(91.5,46.5) rotate(245)"/>
<use href="#lf" transform="translate(89.9,57.6) rotate(93)"/>
<use href="#lf" transform="translate(41.7,37.2) rotate(208)"/>
<use href="#lf" transform="translate(129.3,5.1) rotate(136)"/>
<use href="#lf" transform="translate(85.2,62.2) rotate(339)"/>
<use href="#lf" transform="translate(18.9,52) rotate(353)"/>
<use href="#lf" transform="translate(74,70.9) rotate(161)"/>
<use href="#lf" transform="translate(121.9,24.7) rotate(230)"/>
<use href="#lf" transform="translate(103.1,68.1) rotate(73)"/>
<use href="#lf" transform="translate(133.1,11.3) rotate(86)"/>
<use href="#lf" transform="translate(113.3,33.6) rotate(316)"/>
<use href="#lf" transform="translate(103.4,37.5) rotate(308)"/>
<use href="#lf" transform="translate(36.2,21.3) rotate(192)"/>
<use href="#lf" transform="translate(47,29.6) rotate(34)"/>
<use href="#lf" transform="translate(113.1,89) rotate(181)"/>
<use href="#lf" transform="translate(77.4,57.7) rotate(356)"/>
<use href="#lf" transform="translate(104.1,53.8) rotate(139)"/>
<use href="#lf" transform="translate(40.4,47.2) rotate(146)"/>
<use href="#lf" transform="translate(143.6,83.9) rotate(9)"/>
<use href="#lf" transform="translate(104.2,13.1) rotate(293)"/>
<use href="#lf" transform="translate(20.2,50.3) rotate(81)"/>
<use href="#lf" transform="translate(103.2,42.2) rotate(334)"/>
<use href="#lf" transform="translate(126.6,63.8) rotate(208)"/>
<use href="#lf" transform="translate(107.9,29.8) rotate(26)"/>
<use href="#lf" transform="translate(17.5,40.8) rotate(257)"/>
<use href="#lf" transform="translate(120.3,6.3) rotate(299)"/>
<use href="#lf" transform="translate(100,34.7) rotate(155)"/>
<use href="#lf" transform="translate(87.8,6.4) rotate(166)"/>
<use href="#lf" transform="translate(63.1,35.4) rotate(287)"/>
<use href="#lf" transform="translate(116.4,65.7) rotate(357)"/>
<use href="#lf" transform="translate(30.7,57.3) rotate(65)"/>
<use href="#lf" transform="translate(84.8,69.3) rotate(34)"/>
<use href="#lf" transform="translate(104.5,72.2) rotate(26)"/>
<use href="#lf" transform="translate(4.9,45.7) rotate(281)"/>
<use href="#lf" transform="translate(64.6,49.8) rotate(160)"/>
<use href="#lf" transform="translate(107.2,80.3) rotate(239)"/>
<use href="#lf" transform="translate(109.5,64.8) rotate(303)"/>
<use href="#lf" transform="translate(83.8,36.7) rotate(237)"/>
<use href="#lf" transform="translate(95.5,35.9) rotate(77)"/>
<use href="#lf" transform="translate(149.3,45.1) rotate(287)"/>
<use href="#lf" transform="translate(126.4,47.3) rotate(246)"/>
<use href="#lf" transform="translate(25.4,24.3) rotate(160)"/>
<use href="#lf" transform="translate(46.7,36.8) rotate(17)"/>
<use href="#lf" transform="translate(108.4,41.1) rotate(145)"/>
<use href="#lf" transform="translate(138.1,48.8) rotate(350)"/>
<use href="#lf" transform="translate(106.1,10.5) rotate(137)"/>
<use href="#lf" transform="translate(59.6,33.1) rotate(222)"/>
<use href="#lf" transform="translate(124.5,62.1) rotate(5)"/>
<use href="#lf" transform="translate(42.7,49.2) rotate(138)"/>
<use href="#lf" transform="translate(117.7,12.6) rotate(95)"/>
<use href="#lf" transform="translate(96.1,12.5) rotate(160)"/>
<use href="#lf" transform="translate(68.3,50.3) rotate(237)"/>
<use href="#lf" transform="translate(36,48.3) rotate(194)"/>
<use href="#lf" transform="translate(66.1,67.5) rotate(139)"/>
<use href="#lf" transform="translate(107.3,71.3) rotate(69)"/>
<use href="#lf" transform="translate(50.1,30.8) rotate(319)"/>
<use href="#lf" transform="translate(128.7,73.9) rotate(147)"/>
<use href="#lf" transform="translate(124,17.9) rotate(36)"/>
<use href="#lf" transform="translate(112.8,74.3) rotate(94)"/>
<use href="#lf" transform="translate(99.8,61.2) rotate(188)"/>
<use href="#lf" transform="translate(99.5,80.5) rotate(25)"/>
<use href="#lf" transform="translate(104.6,25.1) rotate(69)"/>
<use href="#lf" transform="translate(146.3,73.7) rotate(27)"/>
<use href="#lf" transform="translate(106.1,6.2) rotate(322)"/>
<use href="#lf" transform="translate(52.1,76.3) rotate(162)"/>
<use href="#lf" transform="translate(94.3,46) rotate(244)"/>
<use href="#lf" transform="translate(139.6,78.8) rotate(261)"/>
<use href="#lf" transform="translate(123.7,40.8) rotate(186)"/>
<use href="#lf" transform="translate(111,66.4) rotate(192)"/>
<use href="#lf" transform="translate(12,41.2) rotate(269)"/>
<use href="#lf" transform="translate(86,52.2) rotate(63)"/>
<use href="#lf" transform="translate(147.1,76.6) rotate(270)"/>
<use href="#lf" transform="translate(17.8,42.8) rotate(38)"/>
<use href="#lf" transform="translate(127.7,41.8) rotate(27)"/>
<use href="#lf" transform="translate(139.1,43.2) rotate(236)"/>
<use href="#lf" transform="translate(137,38.7) rotate(322)"/>
<use href="#lf" transform="translate(39.4,23.9) rotate(313)"/>
<use href="#lf" transform="translate(71.6,50.1) rotate(314)"/>
<use href="#lf" transform="translate(37.8,36.6) rotate(168)"/>
<use href="#lf" transform="translate(140.5,51.2) rotate(309)"/>
<use href="#lf" transform="translate(56.8,25) rotate(143)"/>
<use href="#lf" transform="translate(91.3,65.6) rotate(91)"/>
<use href="#lf" transform="translate(143.4,63.1) rotate(112)"/>
<use href="#lf" transform="translate(57.9,46.1) rotate(237)"/>
<use href="#lf" transform="translate(145.9,38.6) rotate(354)"/>
<use href="#lf" transform="translate(48.3,36.8) rotate(108)"/>
<use href="#lf" transform="translate(85.9,54.8) rotate(69)"/>
<use href="#lf" transform="translate(56.6,67) rotate(151)"/>
<use href="#lf" transform="translate(120.4,7.3) rotate(0)"/>
<use href="#lf" transform="translate(89.9,48.4) rotate(33)"/>
<use href="#lf" transform="translate(55.9,19.3) rotate(85)"/>
<use href="#lf" transform="translate(103.3,31.9) rotate(180)"/>
<use href="#lf" transform="translate(79.3,70) rotate(167)"/>
<use href="#lf" transform="translate(62.2,69.9) rotate(258)"/>
<use href="#lf" transform="translate(46.9,17.9) rotate(145)"/>
<use href="#lf" transform="translate(95,5.1) rotate(252)"/>
<use href="#lf" transform="translate(77.3,47.2) rotate(57)"/>
<use href="#lf" transform="translate(135.9,93.1) rotate(184)"/>
<use href="#lf" transform="translate(85.9,24.2) rotate(103)"/>
<use href="#lf" transform="translate(150.3,30.3) rotate(122)"/>
<use href="#lf" transform="translate(67.9,32.8) rotate(344)"/>
<use href="#lf" transform="translate(39.3,22.3) rotate(341)"/>
<use href="#lf" transform="translate(95.8,55.7) rotate(310)"/>
<use href="#lf" transform="translate(132.1,18.9) rotate(301)"/>
<use href="#lf" transform="translate(54,17) rotate(326)"/>
<use href="#lf" transform="translate(109.8,77.4) rotate(31)"/>
<use href="#lf" transform="translate(137.4,66.4) rotate(279)"/>
<use href="#lf" transform="translate(119,45.1) rotate(54)"/>
<use href="#lf" transform="translate(152.8,34.1) rotate(292)"/>
<use href="#lf" transform="translate(122.8,45.4) rotate(161)"/>
<use href="#lf" transform="translate(52.4,64.4) rotate(148)"/>
<use href="#lf" transform="translate(8.4,47.3) rotate(355)"/>
<use href="#lf" transform="translate(29.8,25.1) rotate(172)"/>
<use href="#lf" transform="translate(143.7,53.2) rotate(245)"/>
<use href="#lf" transform="translate(116,58.7) rotate(177)"/>
<use href="#lf" transform="translate(431.2,65.6) rotate(321)"/>
<use href="#lf" transform="translate(425.8,33.9) rotate(265)"/>
<use href="#lf" transform="translate(464.9,15.2) rotate(311)"/>
<use href="#lf" transform="translate(388.2,36.3) rotate(129)"/>
<use href="#lf" transform="translate(408.3,26.4) rotate(96)"/>
<use href="#lf" transform="translate(434.3,11.5) rotate(228)"/>
<use href="#lf" transform="translate(427.4,15.1) rotate(59)"/>
<use href="#lf" transform="translate(470.2,26.2) rotate(150)"/>
<use href="#lf" transform="translate(383.9,49.2) rotate(188)"/>
<use href="#lf" transform="translate(438.5,22.7) rotate(335)"/>
<use href="#lf" transform="translate(418.6,45.3) rotate(212)"/>
<use href="#lf" transform="translate(436.1,42.4) rotate(275)"/>
<use href="#lf" transform="translate(427.9,50) rotate(227)"/>
<use href="#lf" transform="translate(375.1,29.3) rotate(198)"/>
<use href="#lf" transform="translate(406.6,67.4) rotate(56)"/>
<use href="#lf" transform="translate(445.2,20) rotate(281)"/>
<use href="#lf" transform="translate(396.5,36.2) rotate(121)"/>
<use href="#lf" transform="translate(475.8,24.3) rotate(217)"/>
<use href="#lf" transform="translate(398.6,45.6) rotate(217)"/>
<use href="#lf" transform="translate(455.3,25.6) rotate(181)"/>
<use href="#lf" transform="translate(470.2,45.1) rotate(322)"/>
<use href="#lf" transform="translate(447.7,39.6) rotate(355)"/>
<use href="#lf" transform="translate(485.4,35.8) rotate(276)"/>
<use href="#lf" transform="translate(412.8,64.8) rotate(136)"/>
<use href="#lf" transform="translate(425.3,22.5) rotate(167)"/>
<use href="#lf" transform="translate(402.1,71.5) rotate(5)"/>
<use href="#lf" transform="translate(419.6,64.3) rotate(280)"/>
<use href="#lf" transform="translate(438.1,35.1) rotate(98)"/>
<use href="#lf" transform="translate(447.8,19.9) rotate(46)"/>
<use href="#lf" transform="translate(379.1,63.9) rotate(92)"/>
<use href="#lf" transform="translate(420.1,66.8) rotate(126)"/>
<use href="#lf" transform="translate(442.3,36.6) rotate(95)"/>
<use href="#lf" transform="translate(473.9,42) rotate(215)"/>
<use href="#lf" transform="translate(374.3,41.9) rotate(283)"/>
<use href="#lf" transform="translate(410.1,56.2) rotate(160)"/>
<use href="#lf" transform="translate(367.6,47.2) rotate(229)"/>
<use href="#lf" transform="translate(414.3,36.9) rotate(359)"/>
<use href="#lf" transform="translate(432.4,13.5) rotate(357)"/>
<use href="#lf" transform="translate(396.4,32.8) rotate(352)"/>
<use href="#lf" transform="translate(410.2,23.3) rotate(155)"/>
<use href="#lf" transform="translate(468.5,7) rotate(184)"/>
<use href="#lf" transform="translate(431.5,41.3) rotate(316)"/>
<use href="#lf" transform="translate(446.2,48) rotate(132)"/>
<use href="#lf" transform="translate(476.3,34.5) rotate(222)"/>
<use href="#lf" transform="translate(382.8,63.6) rotate(320)"/>
<use href="#lf" transform="translate(408.2,65.7) rotate(106)"/>
<use href="#lf" transform="translate(423.7,30.6) rotate(259)"/>
<use href="#lf" transform="translate(457.8,11.1) rotate(227)"/>
<use href="#lf" transform="translate(427.8,27.7) rotate(184)"/>
<use href="#lf" transform="translate(436.3,23.7) rotate(157)"/>
<use href="#lf" transform="translate(418.5,29.6) rotate(340)"/>
<use href="#lf" transform="translate(453.5,37.8) rotate(182)"/>
<use href="#lf" transform="translate(437.4,40) rotate(282)"/>
<use href="#lf" transform="translate(413.3,32.5) rotate(283)"/>
<use href="#lf" transform="translate(405.6,55.8) rotate(310)"/>
<use href="#lf" transform="translate(389.4,62.8) rotate(93)"/>
<use href="#lf" transform="translate(472.2,14.7) rotate(280)"/>
<use href="#lf" transform="translate(397,54.7) rotate(68)"/>
<use href="#lf" transform="translate(379.2,43.9) rotate(226)"/>
<use href="#lf" transform="translate(370.1,52.8) rotate(321)"/>
<use href="#lf" transform="translate(390.8,35) rotate(44)"/>
<use href="#lf" transform="translate(417.6,35.9) rotate(165)"/>
<use href="#lf" transform="translate(396.8,56.9) rotate(57)"/>
<use href="#lf" transform="translate(459.4,12.7) rotate(111)"/>
<use href="#lf" transform="translate(400.6,32.6) rotate(338)"/>
<use href="#lf" transform="translate(420.1,73.4) rotate(152)"/>
<use href="#lf" transform="translate(426.5,51.2) rotate(235)"/>
<use href="#lf" transform="translate(425.6,62.2) rotate(293)"/>
<use href="#lf" transform="translate(430.7,27.5) rotate(316)"/>
<use href="#lf" transform="translate(452,18.1) rotate(109)"/>
<use href="#lf" transform="translate(461.5,41.7) rotate(215)"/>
<use href="#lf" transform="translate(406,28.3) rotate(159)"/>
<use href="#lf" transform="translate(465.1,11.7) rotate(191)"/>
<use href="#lf" transform="translate(474.3,8.2) rotate(79)"/>
<use href="#lf" transform="translate(401.6,81.5) rotate(97)"/>
<use href="#lf" transform="translate(444.5,26.6) rotate(288)"/>
<use href="#lf" transform="translate(417.6,48.1) rotate(23)"/>
<use href="#lf" transform="translate(472.1,46.2) rotate(1)"/>
<use href="#lf" transform="translate(427.5,17.2) rotate(169)"/>
<use href="#lf" transform="translate(396.7,73.6) rotate(207)"/>
<use href="#lf" transform="translate(423.8,59.5) rotate(57)"/>
<use href="#lf" transform="translate(381.5,56.6) rotate(159)"/>
<use href="#lf" transform="translate(476.5,19.8) rotate(199)"/>
<use href="#lf" transform="translate(394.9,23.6) rotate(355)"/>
<use href="#lf" transform="translate(436.9,33.6) rotate(282)"/>
<use href="#lf" transform="translate(424.6,18.2) rotate(194)"/>
<use href="#lf" transform="translate(483.3,21.5) rotate(234)"/>
<use href="#lf" transform="translate(404.3,43.3) rotate(26)"/>
<use href="#lf" transform="translate(449.4,13.6) rotate(237)"/>
<use href="#lf" transform="translate(386,43) rotate(107)"/>
<use href="#lf" transform="translate(409.8,74) rotate(5)"/>
<use href="#lf" transform="translate(447,32.2) rotate(291)"/>
<use href="#lf" transform="translate(461.6,25.1) rotate(185)"/>
<use href="#lf" transform="translate(438.5,30.2) rotate(37)"/>
<use href="#lf" transform="translate(387.7,24.8) rotate(298)"/>
<use href="#lf" transform="translate(389.2,29) rotate(115)"/>
<use href="#lf" transform="translate(401.9,45) rotate(65)"/>
<use href="#lf" transform="translate(424.5,47.5) rotate(333)"/>
<use href="#lf" transform="translate(377.5,37.5) rotate(119)"/>
<use href="#lf" transform="translate(391.7,29.1) rotate(86)"/>
<use href="#lf" transform="translate(466.8,24.9) rotate(92)"/>
<use href="#lf" transform="translate(432.4,53.1) rotate(77)"/>
<use href="#lf" transform="translate(483,13.7) rotate(225)"/>
<use href="#lf" transform="translate(396.3,26.8) rotate(84)"/>
<use href="#lf" transform="translate(391.8,72.3) rotate(346)"/>
<use href="#lf" transform="translate(401.2,59.6) rotate(347)"/>
<use href="#lf" transform="translate(424.2,35.2) rotate(186)"/>
<use href="#lf" transform="translate(376.8,30.4) rotate(296)"/>
<use href="#lf" transform="translate(376.3,53) rotate(15)"/>
<use href="#lf" transform="translate(409.1,77.6) rotate(119)"/>
<use href="#lf" transform="translate(478.2,9.3) rotate(152)"/>
<use href="#lf" transform="translate(483.5,18.2) rotate(68)"/>
<use href="#lf" transform="translate(371.2,33.6) rotate(171)"/>
<use href="#lf" transform="translate(437.9,46.8) rotate(146)"/>
<use href="#lf" transform="translate(439.9,27.9) rotate(180)"/>
<use href="#lf" transform="translate(416.3,57.4) rotate(163)"/>
<use href="#lf" transform="translate(445.4,16.3) rotate(339)"/>
<use href="#lf" transform="translate(466.9,16.9) rotate(40)"/>
<use href="#lf" transform="translate(371.9,48) rotate(345)"/>
<use href="#lf" transform="translate(393,47.2) rotate(297)"/>
<use href="#lf" transform="translate(374.5,60.6) rotate(41)"/>
<use href="#lf" transform="translate(452.1,49.1) rotate(249)"/>
<use href="#lf" transform="translate(455.1,19.6) rotate(5)"/>
<use href="#lf" transform="translate(452,14.3) rotate(213)"/>
<use href="#lf" transform="translate(445.5,24.3) rotate(147)"/>
<use href="#lf" transform="translate(446.5,35.3) rotate(269)"/>
<use href="#lf" transform="translate(453,59.1) rotate(161)"/>
<use href="#lf" transform="translate(412.4,58.9) rotate(101)"/>
<use href="#lf" transform="translate(465.2,35.6) rotate(341)"/>
<use href="#lf" transform="translate(453.9,33.6) rotate(260)"/>
<use href="#lf" transform="translate(405.8,19.6) rotate(283)"/>
<use href="#lf" transform="translate(395,31.3) rotate(57)"/>
<use href="#lf" transform="translate(433,30.2) rotate(339)"/>
<use href="#lf" transform="translate(397.9,38.1) rotate(286)"/>
<use href="#lf" transform="translate(482.2,6.4) rotate(278)"/>
<use href="#lf" transform="translate(480.6,45.4) rotate(239)"/>
<use href="#lf" transform="translate(402.1,78) rotate(35)"/>
<use href="#lf" transform="translate(382.5,58.1) rotate(187)"/>
<use href="#lf" transform="translate(442.3,47.6) rotate(290)"/>
<use href="#lf" transform="translate(368.8,39) rotate(1)"/>
<use href="#lf" transform="translate(422.1,42.6) rotate(173)"/>
<use href="#lf" transform="translate(411.3,68.6) rotate(270)"/>
<use href="#lf" transform="translate(409.6,62.8) rotate(115)"/>
<use href="#lf" transform="translate(467.1,43.4) rotate(111)"/>
<use href="#lf" transform="translate(448.3,44.9) rotate(211)"/>
<use href="#lf" transform="translate(411.5,70.2) rotate(109)"/>
<use href="#lf" transform="translate(409.6,51.5) rotate(289)"/>
<use href="#lf" transform="translate(375.9,39.4) rotate(35)"/>
<use href="#lf" transform="translate(431.9,66.9) rotate(201)"/>
<use href="#lf" transform="translate(434,62.6) rotate(11)"/>
<use href="#lf" transform="translate(383.1,38.2) rotate(189)"/>
<use href="#lf" transform="translate(421,31.5) rotate(193)"/>
<use href="#lf" transform="translate(370.6,37.5) rotate(17)"/>
<use href="#lf" transform="translate(419.6,58.9) rotate(279)"/>
<use href="#lf" transform="translate(416.7,53.2) rotate(199)"/>
<use href="#lf" transform="translate(465.2,30.6) rotate(147)"/>
<use href="#lf" transform="translate(462.8,43.9) rotate(128)"/>
<use href="#lf" transform="translate(457.7,15.5) rotate(110)"/>
<use href="#lf" transform="translate(470.9,44) rotate(70)"/>
<use href="#lf" transform="translate(485.3,40.1) rotate(332)"/>
<use href="#lf" transform="translate(456.6,51) rotate(180)"/>
<use href="#lf" transform="translate(411.3,51.4) rotate(4)"/>
<use href="#lf" transform="translate(411.3,45) rotate(260)"/>
<use href="#lf" transform="translate(459.2,34.6) rotate(338)"/>
<use href="#lf" transform="translate(405.4,30.9) rotate(26)"/>
<use href="#lf" transform="translate(379.6,39.1) rotate(155)"/>
<use href="#lf" transform="translate(409.6,79.8) rotate(24)"/>
<use href="#lf" transform="translate(471.8,28.3) rotate(144)"/>
<use href="#lf" transform="translate(443.8,52.3) rotate(214)"/>
<use href="#lf" transform="translate(434.6,31.9) rotate(239)"/>
<use href="#lf" transform="translate(483.1,34.2) rotate(155)"/>
<use href="#lf" transform="translate(436.9,27.4) rotate(319)"/>
<use href="#lf" transform="translate(482.5,35.7) rotate(198)"/>
<use href="#lf" transform="translate(441.9,12.6) rotate(197)"/>
<use href="#lf" transform="translate(479.1,41.7) rotate(181)"/>
<use href="#lf" transform="translate(415.2,54.2) rotate(333)"/>
<use href="#lf" transform="translate(459.4,17) rotate(0)"/>
<use href="#lf" transform="translate(453.9,57.4) rotate(19)"/>
<use href="#lf" transform="translate(379.9,19.4) rotate(132)"/>
<use href="#lf" transform="translate(372,44.7) rotate(182)"/>
<use href="#lf" transform="translate(375.8,44.7) rotate(163)"/>
<use href="#lf" transform="translate(398.1,18.1) rotate(211)"/>
<use href="#lf" transform="translate(422.2,71.1) rotate(298)"/>
<use href="#lf" transform="translate(433.6,38.8) rotate(110)"/>
<use href="#lf" transform="translate(470.8,49.1) rotate(57)"/>
<use href="#lf" transform="translate(477.6,44.5) rotate(16)"/>
<use href="#lf" transform="translate(378.4,25) rotate(198)"/>
<use href="#lf" transform="translate(449.2,42.3) rotate(106)"/>
<use href="#lf" transform="translate(435.8,54.4) rotate(152)"/>
<use href="#lf" transform="translate(451.9,44.7) rotate(296)"/>
<use href="#lf" transform="translate(476.6,25.8) rotate(235)"/>
<use href="#lf" transform="translate(445.6,12.8) rotate(150)"/>
<use href="#lf" transform="translate(403.2,48.9) rotate(237)"/>
<use href="#lf" transform="translate(382.6,43.5) rotate(321)"/>
<use href="#lf" transform="translate(414.9,48.7) rotate(5)"/>
<use href="#lf" transform="translate(375.7,59.2) rotate(280)"/>
<use href="#lf" transform="translate(459.7,37.5) rotate(327)"/>
<use href="#lf" transform="translate(450.1,28.9) rotate(9)"/>
<use href="#lf" transform="translate(448.5,27.6) rotate(86)"/>
<use href="#lf" transform="translate(426.5,20.5) rotate(130)"/>
<use href="#lf" transform="translate(445.4,56.3) rotate(207)"/>
<use href="#lf" transform="translate(421.4,47.1) rotate(172)"/>
<use href="#lf" transform="translate(399.8,31.1) rotate(186)"/>
<use href="#lf" transform="translate(485.5,12.4) rotate(98)"/>
<use href="#lf" transform="translate(383.6,45.8) rotate(60)"/>
<use href="#lf" transform="translate(472.8,52.1) rotate(74)"/>
<use href="#lf" transform="translate(398,51.6) rotate(126)"/>
<use href="#lf" transform="translate(479.7,48.5) rotate(345)"/>
<use href="#lf" transform="translate(434.7,18.6) rotate(59)"/>
<use href="#lf" transform="translate(416.1,32.2) rotate(228)"/>
<use href="#lf" transform="translate(391.4,42.6) rotate(160)"/>
<use href="#lf" transform="translate(418.6,40.7) rotate(9)"/>
<use href="#lf" transform="translate(455.3,46.7) rotate(10)"/>
<use href="#lf" transform="translate(483.3,11.3) rotate(197)"/>
<use href="#lf" transform="translate(389.9,46.1) rotate(310)"/>
<use href="#lf" transform="translate(450.7,49.7) rotate(343)"/>
<use href="#lf" transform="translate(435,27.1) rotate(39)"/>
<use href="#lf" transform="translate(419.9,28.4) rotate(196)"/>
<use href="#lf" transform="translate(453.1,55.2) rotate(320)"/>
<use href="#lf" transform="translate(434.5,57.8) rotate(165)"/>
<use href="#lf" transform="translate(383.9,53.8) rotate(244)"/>
<use href="#lf" transform="translate(430.4,35.6) rotate(92)"/>
<use href="#lf" transform="translate(420.4,23.9) rotate(160)"/>
<use href="#lf" transform="translate(416.6,77) rotate(133)"/>
<use href="#lf" transform="translate(472.7,23.8) rotate(17)"/>
<use href="#lf" transform="translate(416.7,61.7) rotate(303)"/>
<use href="#lf" transform="translate(439.6,54.8) rotate(209)"/>
<use href="#lf" transform="translate(395.3,65.1) rotate(197)"/>
<use href="#lf" transform="translate(396.2,21.9) rotate(271)"/>
<use href="#lf" transform="translate(391.9,16.5) rotate(40)"/>
<use href="#lf" transform="translate(453.3,24.9) rotate(163)"/>
<use href="#lf" transform="translate(395.1,59.4) rotate(232)"/>
<use href="#lf" transform="translate(475.1,11.3) rotate(137)"/>
<use href="#lf" transform="translate(404.3,18.2) rotate(113)"/>
<use href="#lf" transform="translate(425.5,58.9) rotate(305)"/>
<use href="#lf" transform="translate(464.6,40.9) rotate(325)"/>
<use href="#lf" transform="translate(473.6,6.4) rotate(116)"/>
<use href="#lf" transform="translate(449.4,25.1) rotate(317)"/>
<use href="#lf" transform="translate(441.3,53.1) rotate(176)"/>
<use href="#lf" transform="translate(388.1,47.1) rotate(58)"/>
<use href="#lf" transform="translate(405.3,70) rotate(14)"/>
<use href="#lf" transform="translate(444.5,34.5) rotate(265)"/>
<use href="#lf" transform="translate(420.7,35.7) rotate(120)"/>
<use href="#lf" transform="translate(383,32.2) rotate(241)"/>
<use href="#lf" transform="translate(380.5,62) rotate(319)"/>
<use href="#lf" transform="translate(412.8,77.2) rotate(141)"/>
<use href="#lf" transform="translate(444.3,38.4) rotate(220)"/>
<use href="#lf" transform="translate(441.8,53.9) rotate(318)"/>
<use href="#lf" transform="translate(384,23.2) rotate(210)"/>
<use href="#lf" transform="translate(393.1,61.8) rotate(121)"/>
<use href="#lf" transform="translate(374.8,36.1) rotate(158)"/>
<use href="#lf" transform="translate(406.7,79.8) rotate(10)"/>
<use href="#lf" transform="translate(459.4,40.4) rotate(64)"/>
<use href="#lf" transform="translate(448.6,53.2) rotate(5)"/>
<use href="#lf" transform="translate(389.8,49.9) rotate(301)"/>
<use href="#lf" transform="translate(457.6,29.8) rotate(348)"/>
<use href="#lf" transform="translate(418.5,67.7) rotate(348)"/>
<use href="#lf" transform="translate(402.5,64.8) rotate(106)"/>
<use href="#lf" transform="translate(457.1,48.7) rotate(302)"/>
<use href="#lf" transform="translate(480.5,27.9) rotate(191)"/>
<use href="#lf" transform="translate(468,10.1) rotate(91)"/>
<use href="#lf" transform="translate(385.1,30.4) rotate(69)"/>
<use href="#lf" transform="translate(441.6,44.4) rotate(339)"/>
<use href="#lf" transform="translate(383.4,51.2) rotate(56)"/>
<use href="#lf" transform="translate(402.7,29.3) rotate(280)"/>
<use href="#lf" transform="translate(481.5,39.5) rotate(177)"/>
<use href="#lf" transform="translate(471.4,31) rotate(128)"/>
<use href="#lf" transform="translate(487.6,26.6) rotate(262)"/>
<use href="#lf" transform="translate(461.5,31.3) rotate(271)"/>
<use href="#lf" transform="translate(484.3,9.6) rotate(295)"/>
<use href="#lf" transform="translate(465.2,45.4) rotate(52)"/>
<use href="#lf" transform="translate(406.1,72.7) rotate(88)"/>
<use href="#lf" transform="translate(376.8,56.1) rotate(198)"/>
<use href="#lf" transform="translate(397.7,72.2) rotate(34)"/>
<use href="#lf" transform="translate(374.3,48.6) rotate(195)"/>
<use href="#lf" transform="translate(432.6,63.6) rotate(283)"/>
<use href="#lf" transform="translate(465.2,27.8) rotate(111)"/>
<use href="#lf" transform="translate(479.7,18.6) rotate(26)"/>
<use href="#lf" transform="translate(461.3,34) rotate(4)"/>
<use href="#lf" transform="translate(396.5,63.4) rotate(85)"/>
<use href="#lf" transform="translate(427.8,67.2) rotate(317)"/>
<use href="#lf" transform="translate(485.6,24) rotate(214)"/>
<use href="#lf" transform="translate(418.6,75.4) rotate(315)"/>
<use href="#lf" transform="translate(475.3,36.7) rotate(252)"/>
<use href="#lf" transform="translate(437.7,16.6) rotate(152)"/>
<use href="#lf" transform="translate(419.6,50.7) rotate(12)"/>
<use href="#lf" transform="translate(455.8,41.6) rotate(302)"/>
<use href="#lf" transform="translate(479.4,25.1) rotate(134)"/>
<use href="#lf" transform="translate(442.3,19) rotate(102)"/>
<use href="#lf" transform="translate(413,30.9) rotate(303)"/>
<use href="#lf" transform="translate(451,20.5) rotate(306)"/>
<use href="#lf" transform="translate(426,54) rotate(72)"/>
<use href="#lf" transform="translate(394.7,41.4) rotate(203)"/>
<use href="#lf" transform="translate(421.4,21.1) rotate(117)"/>
<use href="#lf" transform="translate(480.1,13.4) rotate(93)"/>
<use href="#lf" transform="translate(392.8,39.2) rotate(323)"/>
<use href="#lf" transform="translate(425.6,63.7) rotate(1)"/>
<use href="#lf" transform="translate(391.5,65.2) rotate(123)"/>
<use href="#lf" transform="translate(393,21.5) rotate(65)"/>
<use href="#lf" transform="translate(381.9,35.5) rotate(258)"/>
<use href="#lf" transform="translate(379.3,45) rotate(8)"/>
<use href="#lf" transform="translate(442.1,22.6) rotate(99)"/>
<use href="#lf" transform="translate(387.1,22.1) rotate(236)"/>
<use href="#lf" transform="translate(395.6,61.5) rotate(251)"/>
<use href="#lf" transform="translate(428.7,45) rotate(184)"/>
<use href="#lf" transform="translate(426.8,44.5) rotate(99)"/>
<use href="#lf" transform="translate(481.5,47.8) rotate(23)"/>
<use href="#lf" transform="translate(394.6,67.9) rotate(308)"/>
<use href="#lf" transform="translate(455.8,39.4) rotate(132)"/>
<use href="#lf" transform="translate(465.3,8.4) rotate(286)"/>
<use href="#lf" transform="translate(468.4,36) rotate(37)"/>
<use href="#lf" transform="translate(391.2,19.9) rotate(206)"/>
<use href="#lf" transform="translate(472.3,35.8) rotate(66)"/>
<use href="#lf" transform="translate(393.3,33.4) rotate(26)"/>
<use href="#lf" transform="translate(400.1,62.6) rotate(133)"/>
<use href="#lf" transform="translate(378.9,33.8) rotate(162)"/>
<use href="#lf" transform="translate(404.1,78.4) rotate(135)"/>
<use href="#lf" transform="translate(404.1,24.5) rotate(184)"/>
<use href="#lf" transform="translate(417.9,33.7) rotate(21)"/>
<use href="#lf" transform="translate(482.5,29.6) rotate(62)"/>
<use href="#lf" transform="translate(386.8,38.7) rotate(333)"/>
<use href="#lf" transform="translate(438.6,14.8) rotate(177)"/>
<use href="#lf" transform="translate(382.5,25.1) rotate(1)"/>
<use href="#lf" transform="translate(463,16.7) rotate(336)"/>
<use href="#lf" transform="translate(391.7,74.2) rotate(273)"/>
<use href="#lf" transform="translate(436.2,53.4) rotate(236)"/>
<use href="#lf" transform="translate(456.2,35.7) rotate(280)"/>
<use href="#lf" transform="translate(432.7,50.3) rotate(108)"/>
<use href="#lf" transform="translate(464.8,20.9) rotate(212)"/>
<use href="#lf" transform="translate(385.9,26.8) rotate(198)"/>
<use href="#lf" transform="translate(390.1,38.4) rotate(38)"/>
<use href="#lf" transform="translate(429.4,43.3) rotate(204)"/>
<use href="#lf" transform="translate(403.4,44.4) rotate(151)"/>
<use href="#lf" transform="translate(467,29) rotate(202)"/>
<use href="#lf" transform="translate(452.9,9.6) rotate(20)"/>
<use href="#lf" transform="translate(371.6,52.8) rotate(77)"/>
<use href="#lf" transform="translate(404.9,51) rotate(131)"/>
<use href="#lf" transform="translate(406.5,18.6) rotate(326)"/>
<use href="#lf" transform="translate(422.6,38.6) rotate(338)"/>
<use href="#lf" transform="translate(385.9,51.3) rotate(252)"/>
<use href="#lf" transform="translate(471.8,40.5) rotate(77)"/>
<use href="#lf" transform="translate(478.5,10) rotate(237)"/>
<use href="#lf" transform="translate(463.1,13.8) rotate(8)"/>
<use href="#lf" transform="translate(429.2,52.8) rotate(12)"/>
<use href="#lf" transform="translate(430.6,16.3) rotate(235)"/>
<use href="#lf" transform="translate(476,38.9) rotate(327)"/>
<use href="#lf" transform="translate(473.6,32.2) rotate(31)"/>
<use href="#lf" transform="translate(409.2,34.5) rotate(90)"/>
<use href="#lf" transform="translate(425.4,66.4) rotate(292)"/>
<use href="#lf" transform="translate(455.7,16.7) rotate(356)"/>
<use href="#lf" transform="translate(387.2,17) rotate(112)"/>
<use href="#lf" transform="translate(406,64.8) rotate(343)"/>
<use href="#lf" transform="translate(470.8,21.4) rotate(173)"/>
<use href="#lf" transform="translate(463.6,45.2) rotate(56)"/>
<use href="#lf" transform="translate(452.5,29.1) rotate(234)"/>
<use href="#lf" transform="translate(389.4,32.3) rotate(98)"/>
<use href="#lf" transform="translate(379.4,27.6) rotate(119)"/>
<use href="#lf" transform="translate(403.7,55.2) rotate(297)"/>
<use href="#lf" transform="translate(407.8,50.2) rotate(253)"/>
<use href="#lf" transform="translate(414.3,61.4) rotate(135)"/>
<use href="#lf" transform="translate(382.2,50.3) rotate(278)"/>
<use href="#lf" transform="translate(488.4,33.7) rotate(224)"/>
<use href="#lf" transform="translate(451.6,51) rotate(221)"/>
<use href="#lf" transform="translate(429.7,57.3) rotate(341)"/>
<use href="#lf" transform="translate(422.6,64.4) rotate(83)"/>
<use href="#lf" transform="translate(413.6,68.4) rotate(5)"/>
<use href="#lf" transform="translate(479.1,6.4) rotate(247)"/>
<use href="#lf" transform="translate(422.9,32.3) rotate(140)"/>
<use href="#lf" transform="translate(465.8,34.4) rotate(18)"/>
<use href="#lf" transform="translate(395.9,79.3) rotate(301)"/>
<use href="#lf" transform="translate(462.1,20.8) rotate(287)"/>
<use href="#lf" transform="translate(407.9,45.8) rotate(38)"/>
<use href="#lf" transform="translate(404.3,38.8) rotate(240)"/>
<use href="#lf" transform="translate(394.2,71.4) rotate(349)"/>
<use href="#lf" transform="translate(399.9,22.5) rotate(265)"/>
<use href="#lf" transform="translate(410,48.6) rotate(103)"/>
<use href="#lf" transform="translate(384.8,16.7) rotate(107)"/>
<use href="#lf" transform="translate(389.1,55.1) rotate(162)"/>
<use href="#lf" transform="translate(401.6,75) rotate(353)"/>
<use href="#lf" transform="translate(384.2,25.9) rotate(137)"/>
<use href="#lf" transform="translate(407.8,42.1) rotate(46)"/>
<use href="#lf" transform="translate(477.3,14.1) rotate(247)"/>
<use href="#lf" transform="translate(376.7,21.2) rotate(201)"/>
<use href="#lf" transform="translate(451,34.6) rotate(101)"/>
<use href="#lf" transform="translate(374.9,23.3) rotate(159)"/>
<use href="#lf" transform="translate(395.9,48.3) rotate(223)"/>
<use href="#lf" transform="translate(419.2,70.1) rotate(228)"/>
<use href="#lf" transform="translate(417.2,56.1) rotate(121)"/>
<use href="#lf" transform="translate(481.8,42.4) rotate(132)"/>
<use href="#lf" transform="translate(459.4,48.5) rotate(319)"/>
<use href="#lf" transform="translate(439.8,59.4) rotate(59)"/>
<use href="#lf" transform="translate(458.5,25.7) rotate(226)"/>
<use href="#lf" transform="translate(405.5,33.2) rotate(41)"/>
<use href="#lf" transform="translate(423.7,27.8) rotate(11)"/>
<use href="#lf" transform="translate(426.1,39.5) rotate(314)"/>
<use href="#lf" transform="translate(476.1,28.9) rotate(53)"/>
<use href="#lf" transform="translate(393.8,76.6) rotate(265)"/>
<use href="#lf" transform="translate(463,50.3) rotate(355)"/>
<use href="#lf" transform="translate(471.8,17.3) rotate(260)"/>
<use href="#lf" transform="translate(437.3,64.8) rotate(72)"/>
<use href="#lf" transform="translate(462.8,51.1) rotate(224)"/>
<use href="#lf" transform="translate(456.2,25.3) rotate(118)"/>
<use href="#lf" transform="translate(416.2,45) rotate(238)"/>
<use href="#lf" transform="translate(485.6,17.1) rotate(333)"/>
<use href="#lf" transform="translate(442.2,31.1) rotate(126)"/>
<use href="#lf" transform="translate(430.5,40.1) rotate(355)"/>
<use href="#lf" transform="translate(381.8,29.9) rotate(303)"/>
<use href="#lf" transform="translate(472.8,10.8) rotate(353)"/>
<use href="#lf" transform="translate(440.4,41) rotate(62)"/>
<use href="#lf" transform="translate(430.8,62.7) rotate(307)"/>
<use href="#lf" transform="translate(399.5,47.8) rotate(8)"/>
<use href="#lf" transform="translate(436.6,58.8) rotate(220)"/>
<use href="#lf" transform="translate(482.6,22.9) rotate(48)"/>
<use href="#lf" transform="translate(461,9.2) rotate(14)"/>
<use href="#lf" transform="translate(459.5,46.8) rotate(151)"/>
<use href="#lf" transform="translate(439.8,41.9) rotate(205)"/>
<use href="#lf" transform="translate(443.7,43) rotate(21)"/>
<use href="#lf" transform="translate(429.7,15.3) rotate(239)"/>
<use href="#lf" transform="translate(473.4,21.6) rotate(211)"/>
<use href="#lf" transform="translate(448.5,57.4) rotate(261)"/>
<use href="#lf" transform="translate(376.8,32.2) rotate(203)"/>
<use href="#lf" transform="translate(400.6,52.4) rotate(267)"/>
<use href="#lf" transform="translate(459,51.8) rotate(315)"/>
<use href="#lf" transform="translate(397.6,77.9) rotate(52)"/>
<use href="#lf" transform="translate(407.5,59) rotate(203)"/>
<use href="#lf" transform="translate(389.6,26.1) rotate(336)"/>
<use href="#lf" transform="translate(422.1,50.8) rotate(7)"/>
<use href="#lf" transform="translate(378.6,48.7) rotate(47)"/>
<use href="#lf" transform="translate(430.3,32.2) rotate(283)"/>
<use href="#lf" transform="translate(430.3,21) rotate(100)"/>
<use href="#lf" transform="translate(400.2,54.7) rotate(47)"/>
<use href="#lf" transform="translate(443.9,57.9) rotate(270)"/>
<use href="#lf" transform="translate(425.8,69.8) rotate(163)"/>
<use href="#lf" transform="translate(393.4,26) rotate(252)"/>
<use href="#lf" transform="translate(422.1,61.4) rotate(18)"/>
<use href="#lf" transform="translate(483.6,46.3) rotate(18)"/>
<use href="#lf" transform="translate(466.7,47.7) rotate(276)"/>
<use href="#lf" transform="translate(401,27.4) rotate(298)"/>
<use href="#lf" transform="translate(392.9,68.8) rotate(259)"/>
<use href="#lf" transform="translate(384.5,35.7) rotate(341)"/>
<use href="#lf" transform="translate(429.1,35.8) rotate(249)"/>
<use href="#lf" transform="translate(405.3,62.4) rotate(290)"/>
<use href="#lf" transform="translate(432.6,45.1) rotate(216)"/>
<use href="#lf" transform="translate(477.3,29.9) rotate(263)"/>
<use href="#lf" transform="translate(468.7,51.1) rotate(178)"/>
<use href="#lf" transform="translate(481.1,7) rotate(148)"/>
<use href="#lf" transform="translate(439.7,11.2) rotate(32)"/>
<use href="#lf" transform="translate(464.9,51.5) rotate(98)"/>
<use href="#lf" transform="translate(388,63.5) rotate(16)"/>
<use href="#lf" transform="translate(480.7,20) rotate(299)"/>
<use href="#lf" transform="translate(404.4,66.8) rotate(56)"/>
<use href="#lf" transform="translate(378.9,59.5) rotate(319)"/>
<use href="#lf" transform="translate(428.8,61.9) rotate(291)"/>
<use href="#lf" transform="translate(474.2,16.2) rotate(268)"/>
<use href="#lf" transform="translate(451.9,26.5) rotate(272)"/>
<use href="#lf" transform="translate(436.3,36.7) rotate(227)"/>
<use href="#lf" transform="translate(409.7,40.6) rotate(236)"/>
<use href="#lf" transform="translate(470.8,33.6) rotate(68)"/>
<use href="#lf" transform="translate(439.8,13.4) rotate(254)"/>
<use href="#lf" transform="translate(403.7,61.3) rotate(110)"/>
<use href="#lf" transform="translate(394.4,52) rotate(9)"/>
<use href="#lf" transform="translate(434.4,29.8) rotate(321)"/>
<use href="#lf" transform="translate(398,36.3) rotate(66)"/>
<use href="#lf" transform="translate(484.3,26.4) rotate(208)"/>
<use href="#lf" transform="translate(411.1,36.4) rotate(273)"/>
<use href="#lf" transform="translate(448.5,17.2) rotate(288)"/>
<use href="#lf" transform="translate(453.2,10.4) rotate(128)"/>
<use href="#lf" transform="translate(393.3,49.4) rotate(255)"/>
<use href="#lf" transform="translate(455.4,15.8) rotate(203)"/>
<use href="#lf" transform="translate(452.9,42.8) rotate(256)"/>
<use href="#lf" transform="translate(446.6,31) rotate(166)"/>
<use href="#lf" transform="translate(478.9,37.5) rotate(272)"/>
<use href="#lf" transform="translate(444.2,14.6) rotate(65)"/>
<use href="#lf" transform="translate(408.1,83.4) rotate(294)"/>
<use href="#lf" transform="translate(450.3,9.9) rotate(92)"/>
<use href="#lf" transform="translate(438.1,49.6) rotate(27)"/>
<use href="#lf" transform="translate(375.1,54.8) rotate(309)"/>
<use href="#lf" transform="translate(392.8,24.1) rotate(336)"/>
<use href="#lf" transform="translate(440.1,32.3) rotate(6)"/>
<use href="#lf" transform="translate(395.6,17.7) rotate(108)"/>
<use href="#lf" transform="translate(401.1,82.6) rotate(93)"/>
<use href="#lf" transform="translate(389,57.2) rotate(31)"/>
<use href="#lf" transform="translate(415.4,65.5) rotate(269)"/>
<use href="#lf" transform="translate(402.4,38.7) rotate(34)"/>
<use href="#lf" transform="translate(409.5,42.6) rotate(208)"/>
<use href="#lf" transform="translate(429.4,24.3) rotate(291)"/>
<use href="#lf" transform="translate(390,41.6) rotate(267)"/>
<use href="#lf" transform="translate(416.3,72) rotate(93)"/>
<use href="#lf" transform="translate(376.4,26.5) rotate(28)"/>
<use href="#lf" transform="translate(445,46.4) rotate(136)"/>
<use href="#lf" transform="translate(405.8,37.5) rotate(185)"/>
<use href="#lf" transform="translate(407.3,21.1) rotate(345)"/>
<use href="#lf" transform="translate(480.8,32.6) rotate(358)"/>
<use href="#lf" transform="translate(400,21) rotate(26)"/>
<use href="#lf" transform="translate(412.4,41.5) rotate(9)"/>
<use href="#lf" transform="translate(382.2,20.8) rotate(304)"/>
<use href="#lf" transform="translate(431.8,24) rotate(147)"/>
<use href="#lf" transform="translate(428.2,55.7) rotate(108)"/>
<use href="#lf" transform="translate(416.9,43) rotate(21)"/>
<use href="#lf" transform="translate(389,68.4) rotate(170)"/>
<use href="#lf" transform="translate(399.8,66.3) rotate(106)"/>
<use href="#lf" transform="translate(407.7,25.2) rotate(244)"/>
<use href="#lf" transform="translate(488.3,13.4) rotate(251)"/>
<use href="#lf" transform="translate(446.2,42.4) rotate(165)"/>
<use href="#lf" transform="translate(413.6,73.7) rotate(84)"/>
<use href="#lf" transform="translate(378.2,51.9) rotate(213)"/>
<use href="#lf" transform="translate(433.5,20.9) rotate(119)"/>
<use href="#lf" transform="translate(470.6,14.1) rotate(279)"/>
<use href="#lf" transform="translate(458.2,20.6) rotate(283)"/>
<use href="#lf" transform="translate(398,74.9) rotate(305)"/>
<use href="#lf" transform="translate(449.8,56.4) rotate(315)"/>
<use href="#lf" transform="translate(416.4,38.4) rotate(209)"/>
<use href="#lf" transform="translate(465.1,23.9) rotate(301)"/>
<use href="#lf" transform="translate(486.3,30.9) rotate(340)"/>
<use href="#lf" transform="translate(420,54.1) rotate(172)"/>
<use href="#lf" transform="translate(377.2,61.8) rotate(273)"/>
<use href="#lf" transform="translate(424.9,41.8) rotate(168)"/>
<use href="#lf" transform="translate(429,30.3) rotate(186)"/>
<use href="#lf" transform="translate(403.7,83.2) rotate(353)"/>
<use href="#lf" transform="translate(385.4,67) rotate(226)"/>
<use href="#lf" transform="translate(370.3,42.1) rotate(56)"/>
<use href="#lf" transform="translate(438.3,62) rotate(211)"/>
<use href="#lf" transform="translate(392.8,14.8) rotate(304)"/>
<use href="#lf" transform="translate(461.6,41) rotate(166)"/>
<use href="#lf" transform="translate(406.1,57) rotate(70)"/>
<use href="#lf" transform="translate(384.6,60.5) rotate(14)"/>
<use href="#lf" transform="translate(403.4,36) rotate(6)"/>
<use href="#lf" transform="translate(411.2,30.8) rotate(201)"/>
<use href="#lf" transform="translate(432.2,55.1) rotate(87)"/>
<use href="#lf" transform="translate(385.5,33.6) rotate(61)"/>
<use href="#lf" transform="translate(421.9,49.4) rotate(195)"/>
<use href="#lf" transform="translate(368.3,43.1) rotate(26)"/>
<use href="#lf" transform="translate(413.3,40.3) rotate(30)"/>
<use href="#lf" transform="translate(441.6,19.4) rotate(49)"/>
<use href="#lf" transform="translate(462.7,25.8) rotate(334)"/>
<use href="#lf" transform="translate(437.4,21.5) rotate(1)"/>
<use href="#lf" transform="translate(450.6,37.4) rotate(116)"/>
<use href="#lf" transform="translate(390.4,53.1) rotate(109)"/>
<use href="#lf" transform="translate(373.3,39.4) rotate(178)"/>
<use href="#lf" transform="translate(399.9,43.5) rotate(89)"/>
<use href="#lf" transform="translate(387.3,57.5) rotate(220)"/>
<use href="#lf" transform="translate(400.1,79.5) rotate(187)"/>
<use href="#lf" transform="translate(408.3,71.9) rotate(328)"/>
<use href="#lf" transform="translate(458.7,9.4) rotate(345)"/>
<use href="#lf" transform="translate(470.3,40.4) rotate(14)"/>
<use href="#lf" transform="translate(391.5,55.3) rotate(324)"/>
<use href="#lf" transform="translate(434.8,48.9) rotate(173)"/>
<use href="#lf" transform="translate(474.5,49.6) rotate(335)"/>
<use href="#lf" transform="translate(451.1,40.4) rotate(277)"/>
<use href="#lf" transform="translate(5.5,43.5) rotate(-106)"/>
<use href="#lf" transform="translate(7.8,39.3) rotate(-143)"/>
<use href="#lf" transform="translate(9.2,36.5) rotate(-131)"/>
<use href="#lf" transform="translate(13,32.5) rotate(-167)"/>
<use href="#lf" transform="translate(12.4,30.8) rotate(-124)"/>
<use href="#lf" transform="translate(13.9,27.9) rotate(-95)"/>
<use href="#lf" transform="translate(17.5,23.8) rotate(-184)"/>
<use href="#lf" transform="translate(18.3,22.8) rotate(-195)"/>
<use href="#lf" transform="translate(21.1,20.3) rotate(-167)"/>
<use href="#lf" transform="translate(26.3,17.3) rotate(-78)"/>
<use href="#lf" transform="translate(30.5,16.2) rotate(-80)"/>
<use href="#lf" transform="translate(35.3,17.3) rotate(-105)"/>
<use href="#lf" transform="translate(40.8,14.4) rotate(-79)"/>
<use href="#lf" transform="translate(44.5,14.1) rotate(-146)"/>
<use href="#lf" transform="translate(46.7,13.8) rotate(-70)"/>
<use href="#lf" transform="translate(51.2,11.5) rotate(-111)"/>
<use href="#lf" transform="translate(58,13.2) rotate(-118)"/>
<use href="#lf" transform="translate(59.1,13.6) rotate(-66)"/>
<use href="#lf" transform="translate(64.7,18) rotate(-103)"/>
<use href="#lf" transform="translate(66.9,18.6) rotate(-81)"/>
<use href="#lf" transform="translate(67.8,20.2) rotate(-5)"/>
<use href="#lf" transform="translate(73.6,23.5) rotate(-99)"/>
<use href="#lf" transform="translate(75,24.1) rotate(-39)"/>
<use href="#lf" transform="translate(80.1,23.6) rotate(-146)"/>
<use href="#lf" transform="translate(82.7,19.9) rotate(-181)"/>
<use href="#lf" transform="translate(86.6,15.1) rotate(-180)"/>
<use href="#lf" transform="translate(86.5,13.1) rotate(-120)"/>
<use href="#lf" transform="translate(87.2,7.9) rotate(-129)"/>
<use href="#lf" transform="translate(87.5,7.3) rotate(-82)"/>
<use href="#lf" transform="translate(92.9,4.7) rotate(-67)"/>
<use href="#lf" transform="translate(94.3,3.8) rotate(-62)"/>
<use href="#lf" transform="translate(98.2,3.5) rotate(-138)"/>
<use href="#lf" transform="translate(100.9,2.9) rotate(-120)"/>
<use href="#lf" transform="translate(106.2,3.1) rotate(-97)"/>
<use href="#lf" transform="translate(110.9,3.3) rotate(-74)"/>
<use href="#lf" transform="translate(114.1,4.3) rotate(-120)"/>
<use href="#lf" transform="translate(117.9,3.5) rotate(-109)"/>
<use href="#lf" transform="translate(118.9,3.8) rotate(-33)"/>
<use href="#lf" transform="translate(122.5,3.9) rotate(-41)"/>
<use href="#lf" transform="translate(127.4,5.5) rotate(-127)"/>
<use href="#lf" transform="translate(129.1,4.5) rotate(-112)"/>
<use href="#lf" transform="translate(134.8,6.6) rotate(-48)"/>
<use href="#lf" transform="translate(138,6.8) rotate(-119)"/>
<use href="#lf" transform="translate(141.9,7.7) rotate(-114)"/>
<use href="#lf" transform="translate(145,6.4) rotate(-71)"/>
<use href="#lf" transform="translate(147.5,6.5) rotate(-116)"/>
<use href="#lf" transform="translate(149.6,8) rotate(-69)"/>
<use href="#lf" transform="translate(154.1,10.4) rotate(-78)"/>
<use href="#lf" transform="translate(156.6,13) rotate(5)"/>
<use href="#lf" transform="translate(156.4,18.6) rotate(37)"/>
<use href="#lf" transform="translate(154.5,21.4) rotate(-19)"/>
<use href="#lf" transform="translate(153,23) rotate(38)"/>
<use href="#lf" transform="translate(155.6,29.1) rotate(-59)"/>
<use href="#lf" transform="translate(155.1,32.7) rotate(18)"/>
<use href="#lf" transform="translate(155.6,35.4) rotate(-19)"/>
<use href="#lf" transform="translate(152.8,39.8) rotate(71)"/>
<use href="#lf" transform="translate(150.4,44.3) rotate(59)"/>
<use href="#lf" transform="translate(148.4,48.6) rotate(33)"/>
<use href="#lf" transform="translate(148.5,52.6) rotate(4)"/>
<use href="#lf" transform="translate(147.7,56) rotate(21)"/>
<use href="#lf" transform="translate(147.1,59.2) rotate(-4)"/>
<use href="#lf" transform="translate(147.4,63.1) rotate(1)"/>
<use href="#lf" transform="translate(150.2,67.9) rotate(11)"/>
<use href="#lf" transform="translate(149.8,69.5) rotate(15)"/>
<use href="#lf" transform="translate(149.6,73.4) rotate(-39)"/>
<use href="#lf" transform="translate(147.4,78.2) rotate(17)"/>
<use href="#lf" transform="translate(147,80.1) rotate(53)"/>
<use href="#lf" transform="translate(145.8,83.4) rotate(78)"/>
<use href="#lf" transform="translate(143.4,84.9) rotate(10)"/>
<use href="#lf" transform="translate(141.2,89.2) rotate(-4)"/>
<use href="#lf" transform="translate(138.1,92.2) rotate(57)"/>
<use href="#lf" transform="translate(134.1,93.5) rotate(81)"/>
<use href="#lf" transform="translate(133,94.2) rotate(97)"/>
<use href="#lf" transform="translate(126.9,97) rotate(70)"/>
<use href="#lf" transform="translate(124.2,96.2) rotate(42)"/>
<use href="#lf" transform="translate(120.9,97.6) rotate(121)"/>
<use href="#lf" transform="translate(116.2,97.4) rotate(79)"/>
<use href="#lf" transform="translate(114.7,96) rotate(79)"/>
<use href="#lf" transform="translate(110.7,95) rotate(117)"/>
<use href="#lf" transform="translate(107.1,93.1) rotate(172)"/>
<use href="#lf" transform="translate(103.4,89.8) rotate(88)"/>
<use href="#lf" transform="translate(102.7,90.3) rotate(84)"/>
<use href="#lf" transform="translate(100.3,85.4) rotate(144)"/>
<use href="#lf" transform="translate(100.5,81.6) rotate(125)"/>
<use href="#lf" transform="translate(99.9,79.4) rotate(201)"/>
<use href="#lf" transform="translate(99,76.8) rotate(119)"/>
<use href="#lf" transform="translate(97.4,71.4) rotate(183)"/>
<use href="#lf" transform="translate(94,70) rotate(142)"/>
<use href="#lf" transform="translate(90.1,68.6) rotate(89)"/>
<use href="#lf" transform="translate(88.2,68.2) rotate(89)"/>
<use href="#lf" transform="translate(82.4,69.3) rotate(42)"/>
<use href="#lf" transform="translate(80.9,71.1) rotate(69)"/>
<use href="#lf" transform="translate(77.2,72.9) rotate(51)"/>
<use href="#lf" transform="translate(73.8,75) rotate(18)"/>
<use href="#lf" transform="translate(70.2,73.8) rotate(71)"/>
<use href="#lf" transform="translate(68.7,73) rotate(157)"/>
<use href="#lf" transform="translate(65.2,73.5) rotate(92)"/>
<use href="#lf" transform="translate(60.2,76.9) rotate(74)"/>
<use href="#lf" transform="translate(57.1,76) rotate(102)"/>
<use href="#lf" transform="translate(53.5,77.7) rotate(102)"/>
<use href="#lf" transform="translate(52.1,78) rotate(166)"/>
<use href="#lf" transform="translate(46.2,74.6) rotate(145)"/>
<use href="#lf" transform="translate(44.8,74.1) rotate(177)"/>
<use href="#lf" transform="translate(42.7,69.4) rotate(131)"/>
<use href="#lf" transform="translate(38.1,67.1) rotate(120)"/>
<use href="#lf" transform="translate(36.7,66.3) rotate(73)"/>
<use href="#lf" transform="translate(32.3,62.1) rotate(103)"/>
<use href="#lf" transform="translate(29.5,60.2) rotate(83)"/>
<use href="#lf" transform="translate(26.4,59.9) rotate(154)"/>
<use href="#lf" transform="translate(21.8,58) rotate(115)"/>
<use href="#lf" transform="translate(17.8,54.1) rotate(86)"/>
<use href="#lf" transform="translate(15.2,53.3) rotate(141)"/>
<use href="#lf" transform="translate(10.2,51.4) rotate(154)"/>
<use href="#lf" transform="translate(8,48.9) rotate(129)"/>
<use href="#lf" transform="translate(4.3,45.9) rotate(110)"/>
<use href="#lf" transform="translate(367.5,45.2) rotate(-149)"/>
<use href="#lf" transform="translate(369.2,43.3) rotate(-181)"/>
<use href="#lf" transform="translate(368.5,39.2) rotate(-146)"/>
<use href="#lf" transform="translate(369.9,35) rotate(-150)"/>
<use href="#lf" transform="translate(370.5,33.2) rotate(-205)"/>
<use href="#lf" transform="translate(373.4,28.2) rotate(-112)"/>
<use href="#lf" transform="translate(372.7,27) rotate(-165)"/>
<use href="#lf" transform="translate(375,22.7) rotate(-201)"/>
<use href="#lf" transform="translate(376.3,20.6) rotate(-115)"/>
<use href="#lf" transform="translate(379.5,18.9) rotate(-67)"/>
<use href="#lf" transform="translate(383.2,18.3) rotate(-156)"/>
<use href="#lf" transform="translate(386.8,16.2) rotate(-147)"/>
<use href="#lf" transform="translate(391.5,15.6) rotate(-146)"/>
<use href="#lf" transform="translate(394.7,13.7) rotate(-119)"/>
<use href="#lf" transform="translate(396.7,14) rotate(-82)"/>
<use href="#lf" transform="translate(398.2,14) rotate(-17)"/>
<use href="#lf" transform="translate(404.2,16.4) rotate(-85)"/>
<use href="#lf" transform="translate(405.3,17.5) rotate(-25)"/>
<use href="#lf" transform="translate(406.9,20.3) rotate(-60)"/>
<use href="#lf" transform="translate(410.9,24.2) rotate(-15)"/>
<use href="#lf" transform="translate(411.5,26.3) rotate(-23)"/>
<use href="#lf" transform="translate(415.2,30.8) rotate(-111)"/>
<use href="#lf" transform="translate(417.6,27.8) rotate(-205)"/>
<use href="#lf" transform="translate(420.1,24.1) rotate(-140)"/>
<use href="#lf" transform="translate(420.5,22.4) rotate(-178)"/>
<use href="#lf" transform="translate(423.5,18.3) rotate(-131)"/>
<use href="#lf" transform="translate(425,16.6) rotate(-129)"/>
<use href="#lf" transform="translate(430.2,12.2) rotate(-76)"/>
<use href="#lf" transform="translate(430.7,11.3) rotate(-112)"/>
<use href="#lf" transform="translate(435.5,11) rotate(-52)"/>
<use href="#lf" transform="translate(439.5,11.5) rotate(-67)"/>
<use href="#lf" transform="translate(445.7,10.7) rotate(-151)"/>
<use href="#lf" transform="translate(448.9,9.5) rotate(-43)"/>
<use href="#lf" transform="translate(458.1,8.7) rotate(-149)"/>
<use href="#lf" transform="translate(459.2,7.9) rotate(-65)"/>
<use href="#lf" transform="translate(464.6,7.9) rotate(-98)"/>
<use href="#lf" transform="translate(467.7,6.5) rotate(-127)"/>
<use href="#lf" transform="translate(473,5.3) rotate(-130)"/>
<use href="#lf" transform="translate(474.2,5.3) rotate(-117)"/>
<use href="#lf" transform="translate(480,5.8) rotate(-71)"/>
<use href="#lf" transform="translate(482.7,6.2) rotate(-116)"/>
<use href="#lf" transform="translate(484.4,5.7) rotate(-32)"/>
<use href="#lf" transform="translate(487.1,7.3) rotate(-62)"/>
<use href="#lf" transform="translate(488.7,9.9) rotate(66)"/>
<use href="#lf" transform="translate(488.1,14.1) rotate(59)"/>
<use href="#lf" transform="translate(487.2,18.6) rotate(4)"/>
<use href="#lf" transform="translate(487.9,20.9) rotate(20)"/>
<use href="#lf" transform="translate(487.6,25) rotate(-25)"/>
<use href="#lf" transform="translate(488.9,29.4) rotate(-64)"/>
<use href="#lf" transform="translate(489,33.2) rotate(49)"/>
<use href="#lf" transform="translate(487.6,37.8) rotate(20)"/>
<use href="#lf" transform="translate(485.5,41) rotate(-27)"/>
<use href="#lf" transform="translate(484.8,43.2) rotate(63)"/>
<use href="#lf" transform="translate(483.7,48.8) rotate(29)"/>
<use href="#lf" transform="translate(483.2,49.9) rotate(91)"/>
<use href="#lf" transform="translate(479,50.9) rotate(59)"/>
<use href="#lf" transform="translate(476.4,52.8) rotate(30)"/>
<use href="#lf" transform="translate(474,52.8) rotate(117)"/>
<use href="#lf" transform="translate(467.5,52.8) rotate(143)"/>
<use href="#lf" transform="translate(465.3,51.3) rotate(94)"/>
<use href="#lf" transform="translate(460.6,52.3) rotate(81)"/>
<use href="#lf" transform="translate(457.5,53.9) rotate(44)"/>
<use href="#lf" transform="translate(452.2,58.5) rotate(19)"/>
<use href="#lf" transform="translate(452.7,58.1) rotate(100)"/>
<use href="#lf" transform="translate(448.9,58.4) rotate(108)"/>
<use href="#lf" transform="translate(443.1,58.3) rotate(46)"/>
<use href="#lf" transform="translate(440.8,62) rotate(22)"/>
<use href="#lf" transform="translate(438.4,64.2) rotate(81)"/>
<use href="#lf" transform="translate(436.1,65.6) rotate(73)"/>
<use href="#lf" transform="translate(433.6,68.5) rotate(62)"/>
<use href="#lf" transform="translate(427.7,70.7) rotate(95)"/>
<use href="#lf" transform="translate(426,71.5) rotate(56)"/>
<use href="#lf" transform="translate(421.3,72.9) rotate(23)"/>
<use href="#lf" transform="translate(419.6,74.2) rotate(49)"/>
<use href="#lf" transform="translate(416.7,76.6) rotate(78)"/>
<use href="#lf" transform="translate(415.2,80.3) rotate(66)"/>
<use href="#lf" transform="translate(411.3,82.8) rotate(99)"/>
<use href="#lf" transform="translate(407.3,83) rotate(98)"/>
<use href="#lf" transform="translate(400.4,84.8) rotate(113)"/>
<use href="#lf" transform="translate(398.4,83.8) rotate(104)"/>
<use href="#lf" transform="translate(395.3,80.5) rotate(117)"/>
<use href="#lf" transform="translate(392,78.1) rotate(116)"/>
<use href="#lf" transform="translate(391.7,75.1) rotate(205)"/>
<use href="#lf" transform="translate(390,70.9) rotate(190)"/>
<use href="#lf" transform="translate(384.9,68.1) rotate(108)"/>
<use href="#lf" transform="translate(382.4,65.2) rotate(83)"/>
<use href="#lf" transform="translate(377.9,63.4) rotate(91)"/>
<use href="#lf" transform="translate(375.2,59.8) rotate(102)"/>
<use href="#lf" transform="translate(374.9,60) rotate(109)"/>
<use href="#lf" transform="translate(370.7,54.2) rotate(112)"/>
<use href="#lf" transform="translate(369.9,52.8) rotate(201)"/>
<use href="#lf" transform="translate(368.7,47.7) rotate(182)"/>
</g>

<!-- CSO -->
<text font-family="Liberation Serif" font-size="39.5" fill="#222" stroke="#222" stroke-width="0.55" transform="translate(277.2,138.6) scale(0.925,1)">CSO</text>
<circle cx="364.8" cy="114.9" r="7.1" fill="#222"/>

<!-- measure lines -->
<g stroke="#444" stroke-width="1.15" fill="none">
<line x1="368" y1="130.5" x2="383" y2="251"/>
<line x1="379.5" y1="246.3" x2="426.5" y2="240.2"/>
<line x1="541" y1="220.2" x2="583.3" y2="213"/>
<line x1="570.3" y1="201.3" x2="577.7" y2="230.7"/>
</g>
<g transform="translate(451,243.3) rotate(-8)" font-family="Liberation Sans" font-size="27" fill="#222">
<path d="M8.6,-0.6 L8.6,-17.9 M8.9,-17.6 Q6.5,-14.5 3,-12.5" fill="none" stroke="#222" stroke-width="2.1" stroke-linecap="butt"/>
<text transform="translate(15.6,0) scale(0.83,1)" stroke="#222" stroke-width="0.35">00</text>
<text transform="translate(48.6,0) scale(0.87,1)" stroke="#222" stroke-width="0.35">m</text>
</g>

<!-- BRENO -->
<text font-family="Liberation Sans" font-size="32.5" fill="#222" stroke="#222" stroke-width="0.3" transform="translate(169.3,217.8) skewX(-1.5) scale(0.925,1)">BRENO</text>
<path d="M237,224.5 L336,216.3" stroke="#888" stroke-width="1.3" fill="none"/>
<path d="M333.6,208.2 L353.5,214.7 L335.5,224.3 Z" fill="#888"/>

<!-- curve2 -->
<path d="M3.2,235.4 C5.7,237 13.1,242.3 18,245.4 C23,248.5 27.9,251.4 32.9,254.1 C37.8,256.8 42.8,259.3 47.7,261.7 C52.7,264 57.6,266.2 62.6,268.2 C67.5,270.2 72.5,272.1 77.4,273.8 C82.4,275.6 87.3,277.2 92.3,278.7 C97.2,280.2 102.2,281.6 107.1,282.9 C112.1,284.1 117,285.3 122,286.4 C126.9,287.5 131.9,288.5 136.8,289.4 C141.8,290.4 146.7,291.2 151.6,292 C156.6,292.8 161.5,293.5 166.5,294.1 C171.4,294.8 176.4,295.4 181.3,295.9 C186.3,296.5 191.2,296.9 196.2,297.4 C201.1,297.8 206.1,298.2 211,298.5 C216,298.9 220.9,299.2 225.9,299.4 C230.8,299.7 235.8,299.9 240.7,300.1 C245.7,300.2 250.6,300.4 255.6,300.5 C260.5,300.6 265.5,300.6 270.4,300.6 C275.4,300.6 280.3,300.6 285.3,300.6 C290.2,300.5 295.2,300.4 300.1,300.3 C305,300.2 310,300 314.9,299.8 C319.9,299.6 324.8,299.4 329.8,299.1 C334.7,298.8 339.7,298.5 344.6,298.1 C349.6,297.8 354.5,297.4 359.5,297 C364.4,296.5 369.4,296.1 374.3,295.6 C379.3,295.1 384.2,294.5 389.2,294 C394.1,293.4 399.1,292.8 404,292.1 C409,291.5 413.9,290.8 418.9,290.1 C423.8,289.4 428.8,288.6 433.7,287.9 C438.7,287.1 443.6,286.3 448.5,285.4 C453.5,284.6 458.4,283.7 463.4,282.9 C468.3,282 473.3,281.1 478.2,280.1 C483.2,279.2 488.1,278.3 493.1,277.3 C498,276.4 503,275.4 507.9,274.5 C512.9,273.5 517.8,272.5 522.8,271.6 C527.7,270.6 532.7,269.7 537.6,268.8 C542.6,267.8 547.5,266.9 552.5,266.1 C557.4,265.2 562.4,264.3 567.3,263.6 C572.3,262.8 577.2,262 582.2,261.4 C587.1,260.7 594.5,259.9 597,259.6" fill="none" stroke="#777" stroke-width="1"/>
<rect x="-5.6" y="-12.3" width="11.2" height="24.6" fill="#555" stroke="#333" stroke-width="1" transform="translate(587.7,264.7) rotate(-15)"/>

<text font-family="Liberation Serif" font-style="italic" font-size="31.5" fill="#222" stroke="#222" stroke-width="0.45" transform="translate(493.5,303.2) scale(0.94,1)">SP 112</text>
<text font-family="Liberation Serif" font-size="31.5" fill="#222" stroke="#222" stroke-width="0.45" xml:space="preserve" transform="translate(494.8,334.2) scale(0.93,1)">km  1</text>

<!-- bridge outline (grey) -->
<rect x="109" y="393" width="153" height="45" fill="#fcfcfc"/>
<g fill="#c9c9c9">
<rect x="4" y="437.5" width="105.7" height="9.5"/>
<rect x="95.7" y="380.4" width="14" height="66.6"/>
<rect x="95.7" y="380.4" width="178.7" height="13.2"/>
<rect x="261" y="380.4" width="13.4" height="66.6"/>
<rect x="261" y="437.2" width="333.8" height="9.8"/>
</g>
<rect x="4" y="447" width="590.8" height="5.6" fill="#d9d9d9"/>

<!-- ballast -->
<g>
<path d="M4,459.5 L4,459.2 L6,458.8 L9.3,459.7 L12.2,459.6 L14.4,460 L17.1,460.1 L19.9,460.2 L22.3,458.7 L24.1,460 L25.9,459.8 L28.7,458.5 L31.7,458.5 L35,460.3 L36.9,460 L39.9,458.7 L42.7,458.7 L46,459.9 L49.5,458.5 L51.6,459.8 L54.3,458.8 L57.6,460.3 L59.7,458.7 L62.6,459.3 L65.4,459.5 L67.7,458.4 L69.4,459.4 L72.4,459.3 L75.4,459.6 L78.7,459.8 L80.8,458.7 L82.4,458.5 L85.7,460.3 L88.7,458.6 L91.5,458.7 L94.8,459.8 L97.8,459.7 L100.1,460.3 L103.5,458.9 L105.9,460 L108.7,459.3 L111.1,460.5 L113.2,458.9 L116.1,459 L119.4,459.1 L122.7,459.2 L126,460.1 L128.9,458.9 L130.8,458.5 L132.6,459.9 L134.3,458.9 L136.9,458.7 L139.1,458.9 L141.9,458.7 L145.4,459.7 L148.3,459.6 L150.8,460.5 L154.1,460.2 L155.7,459.7 L159.1,459.8 L161.6,459.8 L163.4,460 L166.5,458.6 L169,459.7 L171.2,459.9 L174.6,460.4 L176.7,458.7 L179.9,459.7 L183.1,460.3 L185.1,459.7 L187.2,460.2 L190.1,458.9 L192.6,459.7 L194.6,458.8 L197,458.6 L199.5,460.5 L202.7,458.5 L205.8,460 L208.7,458.5 L211.8,458.8 L214.9,459.1 L217.1,458.8 L220.3,458.9 L223.6,459.5 L225.4,459.8 L227.9,458.5 L231.1,459 L232.6,460.1 L235.6,459.2 L237.5,459.6 L240.1,459.9 L242.6,459.6 L245.5,458.8 L247.4,459.5 L250.4,460.2 L253.6,459.4 L256.5,458.6 L258.8,458.5 L262,460.6 L264.8,460.1 L267.1,460.1 L268.7,459.2 L271,460.3 L272.8,458.8 L274.5,460.3 L276.6,460.4 L278.7,460.2 L280.6,460.4 L284.1,460.3 L287,460.4 L290.3,460.5 L292.3,460.3 L295.4,459.2 L297.2,460.4 L299.7,459.6 L302.9,459.5 L305,459.9 L307.5,459 L310.4,460.4 L312.4,460.2 L315.4,459.5 L317.3,459.9 L319.3,459 L322.6,459 L324.2,460.3 L327.7,459.1 L330,459.6 L333,458.4 L335.8,458.9 L339.2,459.3 L342.6,459.4 L345.4,458.5 L347.3,459.1 L349.5,458.8 L351.9,458.6 L354.5,460.5 L357.7,459.8 L361.2,460 L364,459.4 L365.6,460.4 L368.9,460.2 L371.8,460.2 L375.2,460.5 L378.3,458.4 L381.6,459.6 L384.1,459.3 L386.1,458.5 L388.8,459.8 L390.5,460.4 L393.8,460.3 L396.4,459.2 L398.8,459.2 L402.2,460.4 L405.5,459.5 L408.1,459.9 L410.1,458.8 L413.6,459 L415.6,459.5 L417.3,459.6 L419.1,460.2 L420.8,460.2 L422.8,460.1 L425.9,460.5 L427.8,460.6 L429.6,459.2 L431.1,459.5 L432.8,459.6 L436.1,460.1 L438.9,458.6 L442.4,459.2 L445.8,458.7 L447.9,460.5 L450.9,458.8 L453.3,459.6 L455.3,458.9 L457,459.5 L459.3,459.2 L461.8,459.2 L464,460.1 L465.8,458.6 L468.2,459 L470.7,460.3 L474.1,460.2 L477.4,458.9 L479.6,458.6 L481.7,459 L483.7,459.1 L487.1,459.5 L490.4,459.6 L493.3,459.9 L496,460.4 L498.7,459.5 L500.7,458.6 L503,459.3 L504.8,460.5 L506.3,459.4 L508.3,459.3 L511.5,460.5 L513.8,460 L517.1,459 L519.4,459.4 L522.6,459.1 L525.8,458.8 L528.7,459.8 L530.3,459.1 L533.4,459.3 L535.1,459.4 L537.6,459.4 L540,460.5 L542.8,459.4 L545.2,460.1 L547.2,459.5 L550.2,458.6 L552,458.5 L554.9,460.2 L557.7,459.8 L559.2,459.2 L561.7,459.1 L563.7,459.2 L565.6,458.6 L568.3,458.5 L570.6,459.3 L573.7,460 L576.2,458.4 L579.1,460 L581.9,460.6 L584.3,459.3 L586.9,458.6 L589.7,458.7 L592,459.7 L592,459.5 L592,540 L594.5,545 L594.5,587 L594,586.7 L593.2,586.7 L590.6,586.7 L589,587.7 L586.1,586.2 L584.3,587.2 L582.2,586.3 L580.1,585.7 L578,587.5 L575.5,588 L572.7,586.3 L570.7,587.1 L567.7,588.4 L565.1,588.3 L562.6,587.9 L559.9,588.5 L556.5,587.6 L553,587.8 L549.9,587.2 L546.7,586.5 L545.1,587.4 L541.7,586.3 L539.3,586.1 L536.3,588.2 L534.8,587.9 L532.8,587.4 L529.9,586.5 L527.2,587.2 L525.5,588.6 L523.1,586.7 L521.5,586.5 L519.6,588.1 L516.6,589.1 L514.4,588.9 L511.9,587.5 L510,590.1 L506.7,589.6 L504.8,589.9 L502.4,591.4 L499.7,591.5 L497.6,590.9 L495,592.7 L492.3,595.5 L489.4,596.4 L487.1,593.8 L485,594.7 L482.7,594.4 L480.6,595.7 L477.4,594.4 L475.2,595.5 L473.6,594.6 L470.8,595.8 L467.8,595.1 L464.5,593.4 L461.5,594.2 L458.9,594.6 L456.4,595.3 L454.2,595.7 L451.9,593.7 L449.8,596.5 L448,596.4 L446.3,596.2 L443.7,596.1 L441.4,594.9 L439.3,595.8 L436.1,593.5 L434.2,592.4 L432.3,594.8 L430.1,593.5 L427,592.6 L423.8,594.4 L422.1,594.1 L420,594 L416.8,593.2 L413.5,590.8 L410.5,589.1 L407.2,590.8 L403.8,590.1 L400.4,587 L397.7,587.7 L394.4,588.9 L392.7,587.2 L390.8,589.3 L387.6,588.9 L384.3,587.3 L382.5,586.8 L379.8,589 L377.2,589.2 L374,586.6 L372.5,587.7 L369.9,588.7 L367.8,588.4 L364.8,586.3 L362.7,587.7 L361.1,589 L357.7,587.8 L355.7,588.3 L353.8,588.6 L351.1,587.1 L348.5,586.6 L346.8,586.7 L343.4,588.4 L341.3,588.9 L339.8,588.3 L336.3,588.2 L333.4,588.9 L331.6,587.4 L328.3,589 L324.9,587 L323,586.4 L319.5,589.4 L317.1,586.4 L314.1,587.2 L312,588.3 L309.7,586.9 L306.8,586.8 L303.4,587.8 L300.7,587.5 L298,588 L296,589 L294.3,586.9 L291.4,588 L289.6,586.4 L286.1,586.6 L282.9,587.7 L280.3,586.3 L277.3,587.8 L274.6,589.2 L272.5,586.6 L269.6,587.8 L266.1,589.1 L263.7,587.5 L260.7,586.9 L257.2,587.2 L255.6,587.3 L253.7,587.6 L251.8,588.7 L248.5,589.1 L245.3,589.2 L243.7,587.7 L240.5,587.4 L237.1,586.8 L235.1,587.3 L232.7,586.6 L230.7,588.7 L228.5,587.2 L226.8,589.1 L223.9,588.3 L221.5,587.3 L219.2,586.2 L217.3,588.5 L214.2,587.7 L211.6,589.9 L209.8,588.1 L207,589.1 L205.3,591.6 L202,590.5 L199.2,590.7 L197.3,591.3 L194.6,591.8 L192.7,591.2 L190.1,592.4 L187.3,594.3 L185.2,591.9 L182.3,593.2 L180.3,592.9 L177.1,592.6 L174.5,593.4 L172.7,594.5 L169.7,592.4 L167.2,592.6 L163.8,595.2 L162.2,593.4 L159.1,595.2 L155.7,592.5 L153.6,592.4 L151,594.9 L148.4,594.8 L146.6,594.3 L143.8,593.4 L140.6,595.3 L138.7,594 L136.7,595.2 L133.3,593.7 L130.9,592.2 L128.2,592.3 L125.6,593.2 L122.6,590.5 L119.4,593.1 L116.9,592.7 L114.6,589.4 L112.3,591.3 L109.5,588.7 L107.9,588.4 L105.4,591 L103.4,588.9 L100.1,589 L98.1,588.7 L96.1,587.5 L93.7,589.3 L91.4,588.2 L89.3,588.7 L85.9,586.6 L83.9,586.9 L82.3,586.6 L79.3,588.5 L76.4,587.6 L73.6,589 L71.3,586.3 L68.4,586.3 L65.7,587.8 L62.3,586.6 L60.4,586.9 L58.1,587.7 L56.1,586 L54.1,585.9 L52,586.4 L50.5,587.9 L47.8,588.4 L45.1,588.3 L42.5,586.8 L39,587.3 L36.1,588.2 L33.3,588.3 L31.7,585.9 L29.5,588.6 L27.7,586.6 L24.8,588.1 L23.3,588.1 L20.6,586.2 L18,587.6 L16.1,585.6 L13.6,586.2 L12,586.8 L10.3,588.3 L7.5,587.8 L5.6,586.3 L4,587.4 L4,587 Z" fill="url(#pebD)"/>
<path d="M4,507.9 L6.5,509.4 L9,508.1 L11.5,508.8 L14,509.3 L16.5,509.6 L19,508.8 L21.5,508.8 L24,507.7 L26.5,508.6 L29,508.5 L31.5,509.6 L34,508.8 L36.5,509.3 L39,508.5 L41.5,507.9 L44,509.5 L46.5,509.4 L49,508.3 L51.5,507.6 L54,508.6 L56.5,508.5 L59,509.2 L61.5,508.7 L64,508.5 L66.5,508.6 L69,508.1 L71.5,507.3 L74,507.2 L76.5,509.3 L79,509 L81.5,507.7 L84,509.1 L86.5,508.2 L89,507.1 L91.5,508.9 L94,508.2 L96.5,509 L99,508.4 L101.5,506.9 L104,508.2 L106.5,508.5 L109,508.8 L111.5,507.4 L114,507.8 L116.5,508.2 L119,506.9 L121.5,508.5 L124,508.3 L126.5,506.5 L129,507.7 L131.5,507.5 L134,507.6 L136.5,509.2 L139,510.7 L141.5,510.2 L144,509.7 L146.5,511.2 L149,512.4 L151.5,513.4 L154,513.3 L156.5,512.2 L159,514.9 L161.5,514.5 L164,513.8 L166.5,514.4 L169,514.8 L171.5,516.3 L174,514.9 L176.5,516.4 L179,514.5 L181.5,515.4 L184,515.1 L186.5,513.9 L189,513.7 L191.5,515.7 L194,515.8 L196.5,513.6 L199,514.9 L201.5,515.4 L204,515 L206.5,514.7 L209,513.1 L211.5,513.7 L214,512.9 L216.5,513.6 L219,512.7 L221.5,512.8 L224,512.5 L226.5,511 L229,511.5 L231.5,509.7 L234,509.7 L236.5,511.1 L239,509.5 L241.5,509.9 L244,509.3 L246.5,508.4 L249,509.1 L251.5,509.9 L254,508.4 L256.5,508.4 L259,508 L261.5,507.9 L264,509.4 L266.5,509.1 L269,509.7 L271.5,508.9 L274,509.6 L276.5,507.8 L279,507.6 L281.5,507.7 L284,508 L286.5,509.4 L289,507.5 L291.5,508.1 L294,507.1 L296.5,506.9 L299,508.1 L301.5,508.3 L304,508 L306.5,509 L309,508.9 L311.5,509.1 L314,508.3 L316.5,507.5 L319,507.2 L321.5,508.7 L324,507.3 L326.5,506.9 L329,508.6 L331.5,507.3 L334,508.5 L336.5,507.5 L339,508 L341.5,507 L344,507.9 L346.5,507.8 L349,507.7 L351.5,507.4 L354,508.5 L356.5,508.7 L359,507.6 L361.5,507.2 L364,507.8 L366.5,508.8 L369,507.8 L371.5,508.7 L374,507.3 L376.5,508.9 L379,507.5 L381.5,507.7 L384,509 L386.5,508.4 L389,508.8 L391.5,507.9 L394,508.9 L396.5,508 L399,508.4 L401.5,508.3 L404,509.4 L406.5,509 L409,508.4 L411.5,509.1 L414,508.5 L416.5,508.7 L419,508.1 L421.5,508.2 L424,507.3 L426.5,509 L429,508.2 L431.5,508.6 L434,508 L436.5,506.6 L439,506.7 L441.5,508.5 L444,508 L446.5,508.5 L449,508.4 L451.5,506.8 L454,508.5 L456.5,507.6 L459,507.8 L461.5,507.2 L464,506.5 L466.5,507 L469,506.9 L471.5,506.5 L474,506.6 L476.5,506.9 L479,506.4 L481.5,506.1 L484,507.7 L486.5,506.7 L489,506.7 L491.5,507.7 L494,507.5 L496.5,506.9 L499,506.5 L501.5,507.7 L504,506.4 L506.5,506.9 L509,506.7 L511.5,508.2 L514,506.4 L516.5,507.2 L519,507.1 L521.5,505.9 L524,506.2 L526.5,507.9 L529,507.7 L531.5,506.3 L534,506.2 L536.5,508.1 L539,507.2 L541.5,507.5 L544,507.9 L546.5,506.3 L549,506.8 L551.5,507.8 L554,506 L556.5,506.1 L559,507.6 L561.5,507.4 L564,506.6 L566.5,505.6 L569,507.2 L571.5,505.9 L574,507 L576.5,505.7 L579,505.4 L581.5,506.7 L584,505.9 L586.5,505.8 L589,505.9 L591.5,505.9 L591.5,533.7 L589,533.7 L586.5,534.1 L584,533.3 L581.5,533.9 L579,533.4 L576.5,534.5 L574,534.1 L571.5,535 L569,534.3 L566.5,534.5 L564,535.1 L561.5,534.8 L559,534.3 L556.5,534.9 L554,535.8 L551.5,534.4 L549,535 L546.5,534.4 L544,535.3 L541.5,534.9 L539,533.9 L536.5,535.2 L534,535.1 L531.5,534.8 L529,532.8 L526.5,534.4 L524,534.6 L521.5,533.4 L519,534.8 L516.5,534.6 L514,534.2 L511.5,533.6 L509,534.5 L506.5,533.7 L504,533 L501.5,533.4 L499,532.7 L496.5,532.3 L494,532.3 L491.5,532.7 L489,531.8 L486.5,533.2 L484,532.7 L481.5,533.4 L479,531.3 L476.5,531.9 L474,532 L471.5,531.7 L469,533.1 L466.5,531.5 L464,532.6 L461.5,530.8 L459,532.1 L456.5,531.7 L454,531.2 L451.5,530.6 L449,530.2 L446.5,531.2 L444,531 L441.5,530.3 L439,530.4 L436.5,531.7 L434,529.8 L431.5,531.2 L429,530.2 L426.5,531.4 L424,530.6 L421.5,531.9 L419,529.8 L416.5,531.1 L414,529.5 L411.5,531.4 L409,531.7 L406.5,529.3 L404,530.9 L401.5,529.9 L399,530.5 L396.5,530.6 L394,529.7 L391.5,530.4 L389,531.2 L386.5,530.1 L384,530.1 L381.5,529.6 L379,530.3 L376.5,529.7 L374,529.3 L371.5,529.3 L369,530.8 L366.5,529 L364,531.2 L361.5,530 L359,530 L356.5,531 L354,531.1 L351.5,529.8 L349,530.3 L346.5,530.5 L344,530.3 L341.5,530.5 L339,530.8 L336.5,531.3 L334,530.1 L331.5,530.2 L329,529.7 L326.5,531 L324,530.1 L321.5,531.3 L319,531.2 L316.5,530 L314,530.7 L311.5,530.7 L309,531.8 L306.5,532 L304,530.6 L301.5,530 L299,530.5 L296.5,531.2 L294,530.7 L291.5,530.2 L289,530.4 L286.5,531.8 L284,530.8 L281.5,530.7 L279,530.7 L276.5,530.8 L274,531.6 L271.5,530.4 L269,530.8 L266.5,531 L264,530.9 L261.5,532.5 L259,530.8 L256.5,531.3 L254,530.4 L251.5,531.8 L249,530.4 L246.5,531.7 L244,529.8 L241.5,530.6 L239,530 L236.5,529.9 L234,531 L231.5,529.5 L229,530.8 L226.5,530.2 L224,530.2 L221.5,529.1 L219,529.2 L216.5,527.9 L214,528.8 L211.5,528 L209,527 L206.5,526.9 L204,527.9 L201.5,526.6 L199,526.7 L196.5,526.7 L194,527.2 L191.5,526.4 L189,528.1 L186.5,526.8 L184,527.4 L181.5,527.3 L179,527.7 L176.5,526.6 L174,527.4 L171.5,526.1 L169,527 L166.5,527 L164,526.4 L161.5,528.1 L159,527.7 L156.5,526.6 L154,527 L151.5,528.7 L149,526.9 L146.5,528.3 L144,529.4 L141.5,528.7 L139,528.4 L136.5,529.6 L134,529.5 L131.5,530.2 L129,530.8 L126.5,530.2 L124,529.5 L121.5,530.4 L119,529.1 L116.5,529.8 L114,530.1 L111.5,529.5 L109,528.6 L106.5,528.4 L104,529.3 L101.5,529.6 L99,529.2 L96.5,529.6 L94,527.5 L91.5,528 L89,527.4 L86.5,527.2 L84,528.8 L81.5,527.4 L79,528.3 L76.5,529 L74,528.9 L71.5,527 L69,528.3 L66.5,526.9 L64,527.8 L61.5,528.9 L59,527.3 L56.5,528.3 L54,527.2 L51.5,528.8 L49,528.9 L46.5,526.9 L44,527.6 L41.5,527 L39,527.7 L36.5,529.1 L34,528 L31.5,528.1 L29,528.4 L26.5,528.5 L24,527.3 L21.5,528.4 L19,527.5 L16.5,528.8 L14,528 L11.5,528.4 L9,527.1 L6.5,528.4 L4,527.9 Z" fill="url(#pebL)"/>
<g fill="#fff" opacity="0.75">
<path d="M20,517 Q60,515 110,518 Q60,520 20,517Z"/>
<path d="M260,511 Q285,509 305,511.5 Q285,513 260,511Z"/>
<path d="M250,521 Q285,519 320,522 Q285,524.5 250,521Z"/>
<path d="M420,520 Q445,521 470,528 Q445,525 420,520Z"/>
<path d="M500,527 Q540,527 590,529 Q540,530 500,527Z"/>
</g>
<path d="M432,531 Q500,519 592,518.5 L592,525.5 Q520,525.5 468,533.5Z" fill="url(#pebD)"/>
<g fill="#d0d0d0" stroke="#333" stroke-width="0.6">
<rect x="7.7" y="471.3" width="5" height="26.2"/>
<rect x="24.8" y="471.3" width="5" height="26.2"/>
<rect x="41.8" y="471.3" width="5" height="26.2"/>
<rect x="58.9" y="471.3" width="5" height="26.2"/>
<rect x="75.9" y="471.3" width="5" height="26.2"/>
<rect x="93" y="471.3" width="5" height="26.2"/>
<rect x="110" y="471.3" width="5" height="26.2"/>
<rect x="127.1" y="471.3" width="5" height="26.2"/>
<rect x="144.1" y="471.3" width="5" height="26.2"/>
<rect x="161.2" y="471.3" width="5" height="26.2"/>
<rect x="178.2" y="471.3" width="5" height="26.2"/>
<rect x="195.2" y="471.3" width="5" height="26.2"/>
<rect x="212.3" y="471.3" width="5" height="26.2"/>
<rect x="229.3" y="471.3" width="5" height="26.2"/>
<rect x="246.4" y="471.3" width="5" height="26.2"/>
<rect x="263.4" y="471.3" width="5" height="26.2"/>
<rect x="280.5" y="471.3" width="5" height="26.2"/>
<rect x="297.6" y="471.3" width="5" height="26.2"/>
<rect x="314.6" y="471.3" width="5" height="26.2"/>
<rect x="331.6" y="471.3" width="5" height="26.2"/>
<rect x="348.7" y="471.3" width="5" height="26.2"/>
<rect x="365.8" y="471.3" width="5" height="26.2"/>
<rect x="382.8" y="471.3" width="5" height="26.2"/>
<rect x="399.9" y="471.3" width="5" height="26.2"/>
<rect x="416.9" y="471.3" width="5" height="26.2"/>
<rect x="433.9" y="471.3" width="5" height="26.2"/>
<rect x="451" y="471.3" width="5" height="26.2"/>
<rect x="468.1" y="471.3" width="5" height="26.2"/>
<rect x="485.1" y="471.3" width="5" height="26.2"/>
<rect x="502.2" y="471.3" width="5" height="26.2"/>
<rect x="519.2" y="471.3" width="5" height="26.2"/>
<rect x="536.3" y="471.3" width="5" height="26.2"/>
<rect x="553.3" y="471.3" width="5" height="26.2"/>
<rect x="570.4" y="471.3" width="5" height="26.2"/>
<rect x="587.4" y="471.3" width="5" height="26.2"/>
<rect x="7.7" y="548.8" width="5" height="27.7"/>
<rect x="24.8" y="548.8" width="5" height="27.7"/>
<rect x="41.8" y="548.8" width="5" height="27.7"/>
<rect x="58.9" y="548.8" width="5" height="27.7"/>
<rect x="75.9" y="548.8" width="5" height="27.7"/>
<rect x="93" y="548.8" width="5" height="27.7"/>
<rect x="110" y="548.8" width="5" height="27.7"/>
<rect x="127.1" y="548.8" width="5" height="27.7"/>
<rect x="144.1" y="548.8" width="5" height="27.7"/>
<rect x="161.2" y="548.8" width="5" height="27.7"/>
<rect x="178.2" y="548.8" width="5" height="27.7"/>
<rect x="195.2" y="548.8" width="5" height="27.7"/>
<rect x="212.3" y="548.8" width="5" height="27.7"/>
<rect x="229.3" y="548.8" width="5" height="27.7"/>
<rect x="246.4" y="548.8" width="5" height="27.7"/>
<rect x="263.4" y="548.8" width="5" height="27.7"/>
<rect x="280.5" y="548.8" width="5" height="27.7"/>
<rect x="297.6" y="548.8" width="5" height="27.7"/>
<rect x="314.6" y="548.8" width="5" height="27.7"/>
<rect x="331.6" y="548.8" width="5" height="27.7"/>
<rect x="348.7" y="548.8" width="5" height="27.7"/>
<rect x="365.8" y="548.8" width="5" height="27.7"/>
<rect x="382.8" y="548.8" width="5" height="27.7"/>
<rect x="399.9" y="548.8" width="5" height="27.7"/>
<rect x="416.9" y="548.8" width="5" height="27.7"/>
<rect x="433.9" y="548.8" width="5" height="27.7"/>
<rect x="451" y="548.8" width="5" height="27.7"/>
<rect x="468.1" y="548.8" width="5" height="27.7"/>
<rect x="485.1" y="548.8" width="5" height="27.7"/>
<rect x="502.2" y="548.8" width="5" height="27.7"/>
<rect x="519.2" y="548.8" width="5" height="27.7"/>
<rect x="536.3" y="548.8" width="5" height="27.7"/>
<rect x="553.3" y="548.8" width="5" height="27.7"/>
<rect x="570.4" y="548.8" width="5" height="27.7"/>
<rect x="587.4" y="548.8" width="5" height="27.7"/>
</g>
<g fill="#2a2a2a">
<rect x="4" y="473.6" width="590" height="1.8"/>
<rect x="4" y="492.3" width="590" height="1.8"/>
<rect x="4" y="551.2" width="590.5" height="1.8"/>
<rect x="4" y="570.3" width="590.5" height="1.8"/>
</g>
</g>

<!-- pier + stairs -->
<path d="M134.5,597.5 L134.5,404.5 L354.6,404.5 L354.6,435.3 L166,435.3 L166,597.5" fill="#c2c2c2" stroke="#2a2a2a" stroke-width="1.7"/>
<rect x="167.5" y="405" width="187" height="30" fill="#d9d9d9"/>
<g stroke="#2e2e2e" stroke-width="1.35">
<line x1="168" y1="404.5" x2="168" y2="435"/>
<line x1="175.8" y1="404.5" x2="175.8" y2="435"/>
<line x1="183.6" y1="404.5" x2="183.6" y2="435"/>
<line x1="191.3" y1="404.5" x2="191.3" y2="435"/>
<line x1="199.1" y1="404.5" x2="199.1" y2="435"/>
<line x1="206.9" y1="404.5" x2="206.9" y2="435"/>
<line x1="214.7" y1="404.5" x2="214.7" y2="435"/>
<line x1="222.5" y1="404.5" x2="222.5" y2="435"/>
<line x1="230.2" y1="404.5" x2="230.2" y2="435"/>
<line x1="238" y1="404.5" x2="238" y2="435"/>
<line x1="245.8" y1="404.5" x2="245.8" y2="435"/>
<line x1="253.6" y1="404.5" x2="253.6" y2="435"/>
<line x1="261.4" y1="404.5" x2="261.4" y2="435"/>
<line x1="269.1" y1="404.5" x2="269.1" y2="435"/>
<line x1="276.9" y1="404.5" x2="276.9" y2="435"/>
<line x1="284.7" y1="404.5" x2="284.7" y2="435"/>
<line x1="292.5" y1="404.5" x2="292.5" y2="435"/>
<line x1="300.3" y1="404.5" x2="300.3" y2="435"/>
<line x1="308" y1="404.5" x2="308" y2="435"/>
<line x1="315.8" y1="404.5" x2="315.8" y2="435"/>
<line x1="323.6" y1="404.5" x2="323.6" y2="435"/>
<line x1="331.4" y1="404.5" x2="331.4" y2="435"/>
<line x1="339.2" y1="404.5" x2="339.2" y2="435"/>
<line x1="346.9" y1="404.5" x2="346.9" y2="435"/>
</g>
<path d="M134.5,597.5 L134.5,404.5 L354.6,404.5 L354.6,435.3 L166,435.3 L166,597.5" fill="none" stroke="#2a2a2a" stroke-width="1.7"/>
</svg>
</body></html>
